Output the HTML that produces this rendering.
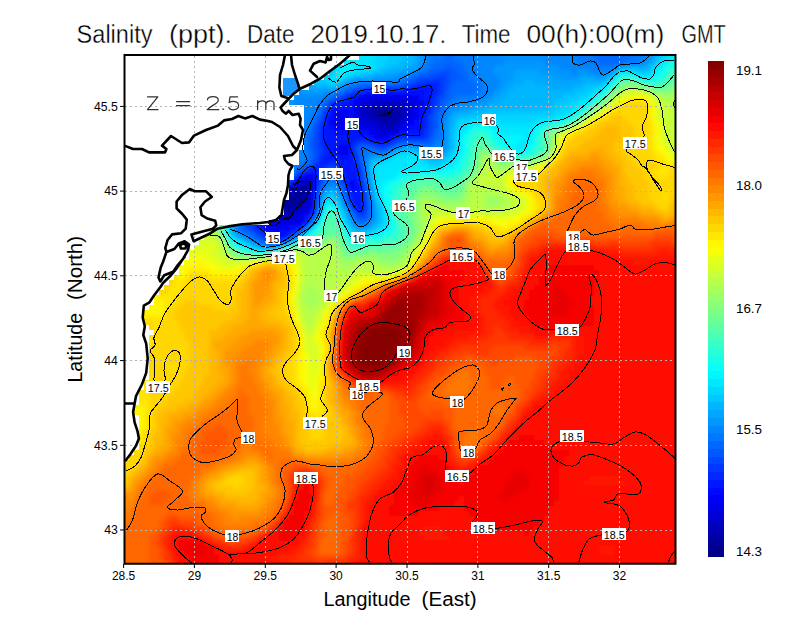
<!DOCTYPE html><html><head><meta charset="utf-8"><title>Salinity</title><style>html,body{margin:0;padding:0;background:#fff}svg{display:block}text{font-family:"Liberation Sans",sans-serif;fill:#000}</style></head><body>
<svg width="800" height="618" viewBox="0 0 800 618">
<defs><clipPath id="pc"><rect x="124.5" y="55" width="551" height="508.75"/></clipPath>
<filter id="bl" x="-5%" y="-5%" width="110%" height="110%"><feGaussianBlur stdDeviation="2.2"/></filter>
</defs>
<rect width="800" height="618" fill="#fff"/>
<g clip-path="url(#pc)">
<g filter="url(#bl)"><path fill="#000087" d="M299 190h5v5.5h-5zM294 200h5v5.5h-5z"/><path fill="#000097" d="M374 110h15v5.5h-15zM299 185h10v5.5h-10zM294 190h5v5.5h-5zM304 190h5v5.5h-5zM289 195h15v5.5h-15zM289 200h5v5.5h-5zM289 205h5v5.5h-5z"/><path fill="#0000a7" d="M374 105h15v5.5h-15zM369 110h5v5.5h-5zM389 110h15v5.5h-15zM374 115h25v5.5h-25zM384 120h10v5.5h-10zM234 160h5v5.5h-5zM289 190h5v5.5h-5zM304 195h5v5.5h-5zM284 200h5v5.5h-5zM299 200h5v5.5h-5zM284 205h5v5.5h-5zM294 205h5v5.5h-5zM284 210h5v5.5h-5z"/><path fill="#0000b7" d="M369 105h5v5.5h-5zM389 105h15v5.5h-15zM364 110h5v5.5h-5zM369 115h5v5.5h-5zM399 115h5v5.5h-5zM379 120h5v5.5h-5zM394 120h5v5.5h-5zM384 125h10v5.5h-10zM234 165h5v5.5h-5zM304 180h5v5.5h-5zM284 190h5v5.5h-5zM284 195h5v5.5h-5zM279 205h5v5.5h-5zM299 205h5v5.5h-5zM279 210h5v5.5h-5zM289 210h5v5.5h-5z"/><path fill="#0000c7" d="M374 100h20v5.5h-20zM399 100h10v5.5h-10zM364 105h5v5.5h-5zM404 105h5v5.5h-5zM359 110h5v5.5h-5zM404 110h5v5.5h-5zM364 115h5v5.5h-5zM404 115h5v5.5h-5zM374 120h5v5.5h-5zM379 125h5v5.5h-5zM394 125h5v5.5h-5zM229 160h5v5.5h-5zM299 180h5v5.5h-5zM309 180h5v5.5h-5zM289 185h10v5.5h-10zM309 185h5v5.5h-5zM279 195h5v5.5h-5zM279 200h5v5.5h-5zM304 200h5v5.5h-5zM294 210h5v5.5h-5zM274 215h20v5.5h-20z"/><path fill="#0000d7" d="M364 100h10v5.5h-10zM394 100h5v5.5h-5zM409 100h5v5.5h-5zM359 105h5v5.5h-5zM409 105h5v5.5h-5zM409 110h5v5.5h-5zM359 115h5v5.5h-5zM364 120h10v5.5h-10zM399 120h5v5.5h-5zM374 125h5v5.5h-5zM379 130h15v5.5h-15zM229 155h5v5.5h-5zM239 160h5v5.5h-5zM309 190h5v5.5h-5zM274 200h5v5.5h-5zM274 205h5v5.5h-5zM304 205h5v5.5h-5zM274 210h5v5.5h-5zM299 210h5v5.5h-5zM294 215h5v5.5h-5zM274 220h10v5.5h-10z"/><path fill="#0000e7" d="M369 95h45v5.5h-45zM359 100h5v5.5h-5zM414 100h5v5.5h-5zM354 105h5v5.5h-5zM354 110h5v5.5h-5zM334 115h10v5.5h-10zM409 115h5v5.5h-5zM334 120h10v5.5h-10zM359 120h5v5.5h-5zM404 120h5v5.5h-5zM364 125h10v5.5h-10zM399 125h5v5.5h-5zM374 130h5v5.5h-5zM394 130h5v5.5h-5zM224 155h5v5.5h-5zM304 175h10v5.5h-10zM309 195h5v5.5h-5zM309 200h5v5.5h-5zM269 205h5v5.5h-5zM269 210h5v5.5h-5zM304 210h5v5.5h-5zM269 215h5v5.5h-5zM269 220h5v5.5h-5zM284 220h15v5.5h-15z"/><path fill="#0000f7" d="M359 95h10v5.5h-10zM414 95h5v5.5h-5zM354 100h5v5.5h-5zM419 100h5v5.5h-5zM414 105h5v5.5h-5zM334 110h15v5.5h-15zM414 110h5v5.5h-5zM344 115h5v5.5h-5zM354 115h5v5.5h-5zM414 115h5v5.5h-5zM329 120h5v5.5h-5zM344 120h5v5.5h-5zM354 120h5v5.5h-5zM409 120h5v5.5h-5zM334 125h10v5.5h-10zM359 125h5v5.5h-5zM404 125h5v5.5h-5zM369 130h5v5.5h-5zM374 135h15v5.5h-15zM339 145h10v5.5h-10zM339 150h10v5.5h-10zM234 155h5v5.5h-5zM299 175h5v5.5h-5zM294 180h5v5.5h-5zM349 180h5v5.5h-5zM284 185h5v5.5h-5zM349 185h5v5.5h-5zM279 190h5v5.5h-5zM274 195h5v5.5h-5zM269 200h5v5.5h-5zM309 205h5v5.5h-5zM264 210h5v5.5h-5zM264 215h5v5.5h-5zM299 215h5v5.5h-5zM264 220h5v5.5h-5zM299 220h5v5.5h-5zM264 225h25v5.5h-25zM274 230h5v5.5h-5z"/><path fill="#0008ff" d="M364 90h60v5.5h-60zM354 95h5v5.5h-5zM419 95h5v5.5h-5zM349 100h5v5.5h-5zM424 100h5v5.5h-5zM334 105h20v5.5h-20zM419 105h5v5.5h-5zM329 110h5v5.5h-5zM349 110h5v5.5h-5zM419 110h5v5.5h-5zM329 115h5v5.5h-5zM349 115h5v5.5h-5zM419 115h5v5.5h-5zM349 120h5v5.5h-5zM414 120h5v5.5h-5zM329 125h5v5.5h-5zM344 125h5v5.5h-5zM354 125h5v5.5h-5zM409 125h10v5.5h-10zM334 130h15v5.5h-15zM359 130h10v5.5h-10zM399 130h10v5.5h-10zM369 135h5v5.5h-5zM389 135h5v5.5h-5zM339 140h10v5.5h-10zM334 145h5v5.5h-5zM334 150h5v5.5h-5zM339 155h10v5.5h-10zM229 165h5v5.5h-5zM304 170h10v5.5h-10zM289 180h5v5.5h-5zM354 180h5v5.5h-5zM354 185h5v5.5h-5zM264 205h5v5.5h-5zM309 210h5v5.5h-5zM259 215h5v5.5h-5zM304 215h5v5.5h-5zM259 220h5v5.5h-5zM259 225h5v5.5h-5zM289 225h10v5.5h-10zM269 230h5v5.5h-5zM279 230h10v5.5h-10zM274 235h10v5.5h-10z"/><path fill="#0018ff" d="M414 85h20v5.5h-20zM359 90h5v5.5h-5zM424 90h10v5.5h-10zM349 95h5v5.5h-5zM424 95h10v5.5h-10zM339 100h10v5.5h-10zM329 105h5v5.5h-5zM424 105h5v5.5h-5zM424 110h5v5.5h-5zM324 115h5v5.5h-5zM324 120h5v5.5h-5zM419 120h5v5.5h-5zM324 125h5v5.5h-5zM349 125h5v5.5h-5zM419 125h5v5.5h-5zM324 130h10v5.5h-10zM349 130h10v5.5h-10zM409 130h15v5.5h-15zM324 135h45v5.5h-45zM394 135h5v5.5h-5zM324 140h15v5.5h-15zM349 140h5v5.5h-5zM374 140h15v5.5h-15zM324 145h10v5.5h-10zM349 145h5v5.5h-5zM329 150h5v5.5h-5zM349 150h5v5.5h-5zM324 155h15v5.5h-15zM349 155h5v5.5h-5zM319 160h10v5.5h-10zM339 160h15v5.5h-15zM314 165h5v5.5h-5zM339 165h20v5.5h-20zM234 170h5v5.5h-5zM314 170h5v5.5h-5zM344 170h15v5.5h-15zM294 175h5v5.5h-5zM314 175h5v5.5h-5zM344 175h15v5.5h-15zM314 180h5v5.5h-5zM344 180h5v5.5h-5zM314 185h5v5.5h-5zM359 185h5v5.5h-5zM349 190h15v5.5h-15zM349 195h15v5.5h-15zM354 200h10v5.5h-10zM354 205h10v5.5h-10zM259 210h5v5.5h-5zM254 220h5v5.5h-5zM304 220h5v5.5h-5zM299 225h5v5.5h-5zM264 230h5v5.5h-5zM289 230h5v5.5h-5zM269 235h5v5.5h-5zM284 235h5v5.5h-5z"/><path fill="#0028ff" d="M424 80h15v5.5h-15zM404 85h10v5.5h-10zM434 85h5v5.5h-5zM354 90h5v5.5h-5zM434 90h5v5.5h-5zM344 95h5v5.5h-5zM334 100h5v5.5h-5zM429 100h5v5.5h-5zM429 105h5v5.5h-5zM324 110h5v5.5h-5zM424 115h5v5.5h-5zM424 120h5v5.5h-5zM319 125h5v5.5h-5zM424 125h5v5.5h-5zM319 130h5v5.5h-5zM319 135h5v5.5h-5zM399 135h25v5.5h-25zM319 140h5v5.5h-5zM354 140h5v5.5h-5zM369 140h5v5.5h-5zM389 140h5v5.5h-5zM324 150h5v5.5h-5zM319 155h5v5.5h-5zM329 160h10v5.5h-10zM354 160h5v5.5h-5zM239 165h5v5.5h-5zM309 165h5v5.5h-5zM319 165h5v5.5h-5zM299 170h5v5.5h-5zM339 170h5v5.5h-5zM359 180h5v5.5h-5zM344 185h5v5.5h-5zM314 190h5v5.5h-5zM314 195h5v5.5h-5zM349 200h5v5.5h-5zM359 210h5v5.5h-5zM254 215h5v5.5h-5zM309 215h5v5.5h-5zM254 225h5v5.5h-5zM259 230h5v5.5h-5zM294 230h5v5.5h-5zM264 235h5v5.5h-5z"/><path fill="#0038ff" d="M434 75h10v5.5h-10zM414 80h10v5.5h-10zM439 80h5v5.5h-5zM364 85h40v5.5h-40zM439 85h5v5.5h-5zM349 90h5v5.5h-5zM439 90h5v5.5h-5zM339 95h5v5.5h-5zM434 95h5v5.5h-5zM329 100h5v5.5h-5zM434 100h5v5.5h-5zM429 110h5v5.5h-5zM319 120h5v5.5h-5zM424 130h5v5.5h-5zM424 135h5v5.5h-5zM359 140h10v5.5h-10zM319 145h5v5.5h-5zM379 145h5v5.5h-5zM224 150h5v5.5h-5zM319 150h5v5.5h-5zM354 150h5v5.5h-5zM239 155h5v5.5h-5zM354 155h5v5.5h-5zM224 160h5v5.5h-5zM314 160h5v5.5h-5zM324 165h5v5.5h-5zM334 165h5v5.5h-5zM319 170h5v5.5h-5zM359 170h5v5.5h-5zM319 175h5v5.5h-5zM339 175h5v5.5h-5zM359 175h5v5.5h-5zM279 185h5v5.5h-5zM274 190h5v5.5h-5zM344 190h5v5.5h-5zM269 195h5v5.5h-5zM264 200h5v5.5h-5zM314 200h5v5.5h-5zM259 205h5v5.5h-5zM314 205h5v5.5h-5zM364 205h5v5.5h-5zM254 210h5v5.5h-5zM354 210h5v5.5h-5zM249 215h5v5.5h-5zM249 220h5v5.5h-5zM249 225h5v5.5h-5zM254 230h5v5.5h-5zM274 240h5v5.5h-5z"/><path fill="#0048ff" d="M439 70h10v5.5h-10zM419 75h15v5.5h-15zM444 75h5v5.5h-5zM409 80h5v5.5h-5zM444 80h5v5.5h-5zM359 85h5v5.5h-5zM444 85h5v5.5h-5zM344 90h5v5.5h-5zM334 95h5v5.5h-5zM439 95h5v5.5h-5zM324 105h5v5.5h-5zM434 105h5v5.5h-5zM319 115h5v5.5h-5zM429 115h5v5.5h-5zM429 120h5v5.5h-5zM314 125h5v5.5h-5zM429 125h5v5.5h-5zM314 130h5v5.5h-5zM429 130h5v5.5h-5zM314 135h5v5.5h-5zM314 140h5v5.5h-5zM394 140h5v5.5h-5zM314 145h5v5.5h-5zM354 145h5v5.5h-5zM374 145h5v5.5h-5zM384 145h5v5.5h-5zM314 150h5v5.5h-5zM314 155h5v5.5h-5zM304 165h5v5.5h-5zM329 165h5v5.5h-5zM359 165h5v5.5h-5zM289 175h5v5.5h-5zM284 180h5v5.5h-5zM319 180h5v5.5h-5zM339 180h5v5.5h-5zM364 190h5v5.5h-5zM364 195h5v5.5h-5zM364 200h5v5.5h-5zM349 205h5v5.5h-5zM314 210h5v5.5h-5zM364 210h5v5.5h-5zM359 215h5v5.5h-5zM244 220h5v5.5h-5zM244 225h5v5.5h-5zM259 235h5v5.5h-5zM289 235h5v5.5h-5zM269 240h5v5.5h-5zM279 240h5v5.5h-5z"/><path fill="#0058ff" d="M449 45h5v5.5h-5zM604 45h25v5.5h-25zM444 50h10v5.5h-10zM609 50h20v5.5h-20zM444 65h10v5.5h-10zM429 70h10v5.5h-10zM449 70h10v5.5h-10zM414 75h5v5.5h-5zM449 75h15v5.5h-15zM404 80h5v5.5h-5zM449 80h5v5.5h-5zM354 85h5v5.5h-5zM444 90h5v5.5h-5zM444 95h5v5.5h-5zM324 100h5v5.5h-5zM439 100h5v5.5h-5zM439 105h5v5.5h-5zM319 110h5v5.5h-5zM434 110h5v5.5h-5zM434 115h5v5.5h-5zM314 120h5v5.5h-5zM434 120h5v5.5h-5zM434 125h5v5.5h-5zM309 135h5v5.5h-5zM429 135h5v5.5h-5zM309 140h5v5.5h-5zM399 140h30v5.5h-30zM309 145h5v5.5h-5zM369 145h5v5.5h-5zM389 145h5v5.5h-5zM219 150h5v5.5h-5zM229 150h5v5.5h-5zM309 160h5v5.5h-5zM359 160h5v5.5h-5zM294 170h5v5.5h-5zM324 170h5v5.5h-5zM334 170h5v5.5h-5zM319 185h5v5.5h-5zM364 185h5v5.5h-5zM344 195h5v5.5h-5zM354 215h5v5.5h-5zM364 215h5v5.5h-5zM309 220h5v5.5h-5zM239 225h5v5.5h-5zM304 225h5v5.5h-5zM249 230h5v5.5h-5zM254 235h5v5.5h-5zM264 240h5v5.5h-5z"/><path fill="#0068ff" d="M444 45h5v5.5h-5zM594 45h10v5.5h-10zM629 45h5v5.5h-5zM454 50h5v5.5h-5zM594 50h15v5.5h-15zM629 50h5v5.5h-5zM444 55h10v5.5h-10zM594 55h35v5.5h-35zM434 60h30v5.5h-30zM599 60h25v5.5h-25zM429 65h15v5.5h-15zM454 65h10v5.5h-10zM419 70h10v5.5h-10zM459 70h10v5.5h-10zM409 75h5v5.5h-5zM464 75h5v5.5h-5zM399 80h5v5.5h-5zM454 80h20v5.5h-20zM349 85h5v5.5h-5zM449 85h30v5.5h-30zM339 90h5v5.5h-5zM449 90h25v5.5h-25zM329 95h5v5.5h-5zM449 95h5v5.5h-5zM444 100h5v5.5h-5zM319 105h5v5.5h-5zM439 110h5v5.5h-5zM314 115h5v5.5h-5zM309 125h5v5.5h-5zM309 130h5v5.5h-5zM434 130h5v5.5h-5zM434 135h5v5.5h-5zM429 140h5v5.5h-5zM359 145h10v5.5h-10zM309 150h5v5.5h-5zM359 150h5v5.5h-5zM379 150h5v5.5h-5zM309 155h5v5.5h-5zM359 155h5v5.5h-5zM299 165h5v5.5h-5zM229 170h5v5.5h-5zM329 170h5v5.5h-5zM324 175h5v5.5h-5zM334 175h5v5.5h-5zM364 180h5v5.5h-5zM339 185h5v5.5h-5zM344 200h5v5.5h-5zM349 210h5v5.5h-5zM359 220h5v5.5h-5zM244 230h5v5.5h-5zM299 230h5v5.5h-5zM259 240h5v5.5h-5z"/><path fill="#0078ff" d="M429 45h15v5.5h-15zM454 45h20v5.5h-20zM574 45h20v5.5h-20zM634 45h10v5.5h-10zM429 50h15v5.5h-15zM459 50h15v5.5h-15zM574 50h20v5.5h-20zM634 50h15v5.5h-15zM429 55h15v5.5h-15zM454 55h20v5.5h-20zM574 55h20v5.5h-20zM629 55h15v5.5h-15zM424 60h10v5.5h-10zM464 60h10v5.5h-10zM579 60h20v5.5h-20zM624 60h15v5.5h-15zM424 65h5v5.5h-5zM464 65h10v5.5h-10zM594 65h20v5.5h-20zM414 70h5v5.5h-5zM469 70h10v5.5h-10zM404 75h5v5.5h-5zM469 75h10v5.5h-10zM359 80h40v5.5h-40zM474 80h10v5.5h-10zM344 85h5v5.5h-5zM479 85h5v5.5h-5zM334 90h5v5.5h-5zM474 90h10v5.5h-10zM324 95h5v5.5h-5zM454 95h25v5.5h-25zM319 100h5v5.5h-5zM449 100h10v5.5h-10zM314 105h5v5.5h-5zM444 105h5v5.5h-5zM314 110h5v5.5h-5zM309 115h5v5.5h-5zM439 115h5v5.5h-5zM309 120h5v5.5h-5zM439 120h5v5.5h-5zM439 125h5v5.5h-5zM304 130h5v5.5h-5zM439 130h5v5.5h-5zM304 135h5v5.5h-5zM439 135h5v5.5h-5zM239 140h5v5.5h-5zM304 140h5v5.5h-5zM434 140h5v5.5h-5zM224 145h20v5.5h-20zM304 145h5v5.5h-5zM394 145h5v5.5h-5zM424 145h10v5.5h-10zM234 150h10v5.5h-10zM304 150h5v5.5h-5zM364 150h15v5.5h-15zM384 150h5v5.5h-5zM219 155h5v5.5h-5zM304 155h5v5.5h-5zM299 160h10v5.5h-10zM224 165h5v5.5h-5zM294 165h5v5.5h-5zM289 170h5v5.5h-5zM364 170h5v5.5h-5zM284 175h5v5.5h-5zM329 175h5v5.5h-5zM364 175h5v5.5h-5zM324 180h15v5.5h-15zM319 190h5v5.5h-5zM339 190h5v5.5h-5zM259 200h5v5.5h-5zM369 200h5v5.5h-5zM254 205h5v5.5h-5zM369 205h5v5.5h-5zM249 210h5v5.5h-5zM369 210h5v5.5h-5zM244 215h5v5.5h-5zM314 215h5v5.5h-5zM369 215h5v5.5h-5zM239 220h5v5.5h-5zM354 220h5v5.5h-5zM364 220h5v5.5h-5zM234 225h5v5.5h-5zM239 230h5v5.5h-5zM249 235h5v5.5h-5zM284 240h5v5.5h-5z"/><path fill="#0087ff" d="M419 45h10v5.5h-10zM474 45h25v5.5h-25zM544 45h30v5.5h-30zM644 45h10v5.5h-10zM419 50h10v5.5h-10zM474 50h25v5.5h-25zM544 50h30v5.5h-30zM649 50h5v5.5h-5zM424 55h5v5.5h-5zM474 55h100v5.5h-100zM644 55h5v5.5h-5zM474 60h30v5.5h-30zM544 60h35v5.5h-35zM639 60h5v5.5h-5zM419 65h5v5.5h-5zM474 65h20v5.5h-20zM559 65h35v5.5h-35zM614 65h5v5.5h-5zM409 70h5v5.5h-5zM479 70h15v5.5h-15zM569 70h10v5.5h-10zM589 70h20v5.5h-20zM394 75h10v5.5h-10zM479 75h20v5.5h-20zM349 80h10v5.5h-10zM484 80h15v5.5h-15zM339 85h5v5.5h-5zM484 85h15v5.5h-15zM324 90h10v5.5h-10zM484 90h10v5.5h-10zM294 95h30v5.5h-30zM479 95h10v5.5h-10zM294 100h25v5.5h-25zM459 100h20v5.5h-20zM294 105h20v5.5h-20zM449 105h10v5.5h-10zM294 110h20v5.5h-20zM444 110h5v5.5h-5zM294 115h15v5.5h-15zM444 115h5v5.5h-5zM259 120h5v5.5h-5zM289 120h20v5.5h-20zM239 125h25v5.5h-25zM289 125h20v5.5h-20zM224 130h35v5.5h-35zM289 130h15v5.5h-15zM214 135h45v5.5h-45zM289 135h15v5.5h-15zM214 140h25v5.5h-25zM244 140h10v5.5h-10zM289 140h15v5.5h-15zM439 140h5v5.5h-5zM219 145h5v5.5h-5zM244 145h5v5.5h-5zM289 145h15v5.5h-15zM399 145h5v5.5h-5zM419 145h5v5.5h-5zM434 145h10v5.5h-10zM244 150h5v5.5h-5zM289 150h15v5.5h-15zM429 150h10v5.5h-10zM289 155h15v5.5h-15zM364 155h5v5.5h-5zM289 160h10v5.5h-10zM364 160h5v5.5h-5zM289 165h5v5.5h-5zM364 165h5v5.5h-5zM224 170h5v5.5h-5zM224 175h10v5.5h-10zM224 180h5v5.5h-5zM279 180h5v5.5h-5zM274 185h5v5.5h-5zM324 185h5v5.5h-5zM334 185h5v5.5h-5zM269 190h5v5.5h-5zM264 195h5v5.5h-5zM319 195h5v5.5h-5zM369 195h5v5.5h-5zM344 205h5v5.5h-5zM349 215h5v5.5h-5zM234 230h5v5.5h-5zM244 235h5v5.5h-5zM294 235h5v5.5h-5zM254 240h5v5.5h-5z"/><path fill="#0097ff" d="M114 45h180v5.5h-180zM499 45h5v5.5h-5zM539 45h5v5.5h-5zM114 50h185v5.5h-185zM499 50h5v5.5h-5zM539 50h5v5.5h-5zM114 55h185v5.5h-185zM419 55h5v5.5h-5zM649 55h5v5.5h-5zM114 60h190v5.5h-190zM419 60h5v5.5h-5zM504 60h40v5.5h-40zM644 60h5v5.5h-5zM114 65h190v5.5h-190zM414 65h5v5.5h-5zM494 65h65v5.5h-65zM619 65h5v5.5h-5zM114 70h190v5.5h-190zM399 70h10v5.5h-10zM494 70h20v5.5h-20zM539 70h30v5.5h-30zM579 70h10v5.5h-10zM609 70h5v5.5h-5zM114 75h195v5.5h-195zM374 75h20v5.5h-20zM499 75h15v5.5h-15zM554 75h25v5.5h-25zM594 75h10v5.5h-10zM114 80h190v5.5h-190zM344 80h5v5.5h-5zM499 80h10v5.5h-10zM119 85h185v5.5h-185zM499 85h5v5.5h-5zM129 90h195v5.5h-195zM494 90h5v5.5h-5zM139 95h155v5.5h-155zM489 95h5v5.5h-5zM149 100h145v5.5h-145zM479 100h10v5.5h-10zM159 105h120v5.5h-120zM284 105h10v5.5h-10zM459 105h15v5.5h-15zM169 110h105v5.5h-105zM284 110h10v5.5h-10zM449 110h5v5.5h-5zM179 115h90v5.5h-90zM284 115h10v5.5h-10zM189 120h70v5.5h-70zM264 120h5v5.5h-5zM279 120h10v5.5h-10zM444 120h5v5.5h-5zM199 125h40v5.5h-40zM279 125h10v5.5h-10zM444 125h5v5.5h-5zM204 130h20v5.5h-20zM259 130h5v5.5h-5zM279 130h10v5.5h-10zM444 130h5v5.5h-5zM209 135h5v5.5h-5zM279 135h10v5.5h-10zM444 135h5v5.5h-5zM279 140h10v5.5h-10zM444 140h5v5.5h-5zM249 145h5v5.5h-5zM279 145h10v5.5h-10zM404 145h15v5.5h-15zM444 145h5v5.5h-5zM279 150h10v5.5h-10zM389 150h5v5.5h-5zM424 150h5v5.5h-5zM439 150h5v5.5h-5zM244 155h5v5.5h-5zM279 155h10v5.5h-10zM369 155h5v5.5h-5zM279 160h10v5.5h-10zM279 165h10v5.5h-10zM279 170h10v5.5h-10zM279 175h5v5.5h-5zM274 180h5v5.5h-5zM224 185h5v5.5h-5zM329 185h5v5.5h-5zM369 185h5v5.5h-5zM369 190h5v5.5h-5zM339 195h5v5.5h-5zM319 200h5v5.5h-5zM369 220h5v5.5h-5zM354 225h15v5.5h-15zM249 240h5v5.5h-5zM264 245h10v5.5h-10z"/><path fill="#00a7ff" d="M294 45h5v5.5h-5zM414 45h5v5.5h-5zM504 45h35v5.5h-35zM654 45h5v5.5h-5zM504 50h35v5.5h-35zM654 50h5v5.5h-5zM299 55h5v5.5h-5zM414 55h5v5.5h-5zM414 60h5v5.5h-5zM649 60h5v5.5h-5zM404 65h10v5.5h-10zM624 65h25v5.5h-25zM384 70h15v5.5h-15zM514 70h25v5.5h-25zM354 75h20v5.5h-20zM514 75h40v5.5h-40zM579 75h15v5.5h-15zM604 75h5v5.5h-5zM304 80h5v5.5h-5zM509 80h15v5.5h-15zM534 80h50v5.5h-50zM304 85h25v5.5h-25zM334 85h5v5.5h-5zM504 85h10v5.5h-10zM549 85h25v5.5h-25zM499 90h10v5.5h-10zM494 95h10v5.5h-10zM489 100h10v5.5h-10zM154 105h5v5.5h-5zM279 105h5v5.5h-5zM474 105h15v5.5h-15zM164 110h5v5.5h-5zM274 110h10v5.5h-10zM454 110h15v5.5h-15zM174 115h5v5.5h-5zM269 115h5v5.5h-5zM279 115h5v5.5h-5zM449 115h5v5.5h-5zM184 120h5v5.5h-5zM274 120h5v5.5h-5zM449 120h5v5.5h-5zM194 125h5v5.5h-5zM264 125h5v5.5h-5zM274 125h5v5.5h-5zM274 130h5v5.5h-5zM274 135h5v5.5h-5zM254 140h5v5.5h-5zM269 140h10v5.5h-10zM269 145h10v5.5h-10zM269 150h10v5.5h-10zM419 150h5v5.5h-5zM444 150h5v5.5h-5zM269 155h10v5.5h-10zM374 155h10v5.5h-10zM429 155h10v5.5h-10zM219 160h5v5.5h-5zM244 160h5v5.5h-5zM269 160h10v5.5h-10zM269 165h10v5.5h-10zM269 170h10v5.5h-10zM269 175h10v5.5h-10zM229 180h5v5.5h-5zM264 180h10v5.5h-10zM369 180h5v5.5h-5zM264 185h10v5.5h-10zM264 190h5v5.5h-5zM324 190h5v5.5h-5zM334 190h5v5.5h-5zM259 195h5v5.5h-5zM339 200h5v5.5h-5zM319 205h5v5.5h-5zM374 205h5v5.5h-5zM344 210h5v5.5h-5zM374 210h5v5.5h-5zM374 215h5v5.5h-5zM349 220h5v5.5h-5zM374 220h5v5.5h-5zM369 225h5v5.5h-5zM239 235h5v5.5h-5zM259 245h5v5.5h-5zM274 245h5v5.5h-5z"/><path fill="#00b7ff" d="M299 45h30v5.5h-30zM409 45h5v5.5h-5zM659 45h5v5.5h-5zM299 50h30v5.5h-30zM409 50h10v5.5h-10zM304 55h25v5.5h-25zM404 55h10v5.5h-10zM654 55h5v5.5h-5zM304 60h30v5.5h-30zM399 60h15v5.5h-15zM304 65h30v5.5h-30zM389 65h15v5.5h-15zM304 70h5v5.5h-5zM324 70h5v5.5h-5zM374 70h10v5.5h-10zM309 75h5v5.5h-5zM349 75h5v5.5h-5zM309 80h5v5.5h-5zM339 80h5v5.5h-5zM524 80h10v5.5h-10zM584 80h20v5.5h-20zM329 85h5v5.5h-5zM514 85h35v5.5h-35zM574 85h10v5.5h-10zM509 90h65v5.5h-65zM134 95h5v5.5h-5zM504 95h60v5.5h-60zM144 100h5v5.5h-5zM499 100h55v5.5h-55zM489 105h60v5.5h-60zM469 110h15v5.5h-15zM274 115h5v5.5h-5zM454 115h5v5.5h-5zM269 120h5v5.5h-5zM449 125h5v5.5h-5zM269 130h5v5.5h-5zM449 130h5v5.5h-5zM269 135h5v5.5h-5zM449 135h5v5.5h-5zM209 140h5v5.5h-5zM449 140h5v5.5h-5zM214 145h5v5.5h-5zM264 145h5v5.5h-5zM449 145h5v5.5h-5zM264 150h5v5.5h-5zM394 150h5v5.5h-5zM264 155h5v5.5h-5zM384 155h5v5.5h-5zM424 155h5v5.5h-5zM439 155h5v5.5h-5zM259 160h10v5.5h-10zM369 160h5v5.5h-5zM219 165h5v5.5h-5zM259 165h10v5.5h-10zM219 170h5v5.5h-5zM259 170h10v5.5h-10zM369 170h5v5.5h-5zM259 175h10v5.5h-10zM369 175h5v5.5h-5zM254 180h10v5.5h-10zM254 185h10v5.5h-10zM254 190h10v5.5h-10zM329 190h5v5.5h-5zM254 195h5v5.5h-5zM334 195h5v5.5h-5zM254 200h5v5.5h-5zM374 200h5v5.5h-5zM249 205h5v5.5h-5zM339 205h5v5.5h-5zM244 210h5v5.5h-5zM239 215h5v5.5h-5zM344 215h5v5.5h-5zM234 220h5v5.5h-5zM229 225h5v5.5h-5zM309 225h5v5.5h-5zM349 225h5v5.5h-5zM229 230h5v5.5h-5zM354 230h10v5.5h-10zM234 235h5v5.5h-5zM244 240h5v5.5h-5zM289 240h5v5.5h-5zM254 245h5v5.5h-5z"/><path fill="#00c7ff" d="M389 45h20v5.5h-20zM664 45h5v5.5h-5zM329 50h5v5.5h-5zM389 50h20v5.5h-20zM659 50h10v5.5h-10zM329 55h5v5.5h-5zM389 55h15v5.5h-15zM659 55h5v5.5h-5zM384 60h15v5.5h-15zM654 60h5v5.5h-5zM379 65h10v5.5h-10zM649 65h5v5.5h-5zM319 70h5v5.5h-5zM329 70h5v5.5h-5zM364 70h10v5.5h-10zM614 70h5v5.5h-5zM639 70h10v5.5h-10zM314 75h10v5.5h-10zM344 75h5v5.5h-5zM609 75h5v5.5h-5zM314 80h15v5.5h-15zM604 80h5v5.5h-5zM584 85h15v5.5h-15zM124 90h5v5.5h-5zM574 90h15v5.5h-15zM564 95h15v5.5h-15zM554 100h15v5.5h-15zM549 105h10v5.5h-10zM484 110h70v5.5h-70zM169 115h5v5.5h-5zM459 115h20v5.5h-20zM179 120h5v5.5h-5zM454 120h5v5.5h-5zM269 125h5v5.5h-5zM454 125h5v5.5h-5zM199 130h5v5.5h-5zM264 130h5v5.5h-5zM259 135h5v5.5h-5zM264 140h5v5.5h-5zM249 150h5v5.5h-5zM259 150h5v5.5h-5zM414 150h5v5.5h-5zM449 150h5v5.5h-5zM259 155h5v5.5h-5zM419 155h5v5.5h-5zM444 155h5v5.5h-5zM374 160h5v5.5h-5zM429 160h15v5.5h-15zM254 165h5v5.5h-5zM369 165h5v5.5h-5zM254 170h5v5.5h-5zM219 175h5v5.5h-5zM234 175h5v5.5h-5zM254 175h5v5.5h-5zM219 180h5v5.5h-5zM249 180h5v5.5h-5zM249 185h5v5.5h-5zM249 190h5v5.5h-5zM374 190h5v5.5h-5zM244 195h10v5.5h-10zM324 195h5v5.5h-5zM374 195h5v5.5h-5zM244 200h10v5.5h-10zM244 205h5v5.5h-5zM379 205h5v5.5h-5zM319 210h5v5.5h-5zM379 210h5v5.5h-5zM379 215h5v5.5h-5zM314 220h5v5.5h-5zM344 220h5v5.5h-5zM379 220h5v5.5h-5zM374 225h5v5.5h-5zM304 230h5v5.5h-5zM364 230h5v5.5h-5z"/><path fill="#00d7ff" d="M329 45h5v5.5h-5zM374 45h15v5.5h-15zM374 50h15v5.5h-15zM374 55h15v5.5h-15zM664 55h5v5.5h-5zM369 60h15v5.5h-15zM334 65h5v5.5h-5zM374 65h5v5.5h-5zM309 70h10v5.5h-10zM354 70h10v5.5h-10zM634 70h5v5.5h-5zM649 70h5v5.5h-5zM324 75h10v5.5h-10zM329 80h10v5.5h-10zM114 85h5v5.5h-5zM599 85h5v5.5h-5zM589 90h5v5.5h-5zM579 95h10v5.5h-10zM569 100h10v5.5h-10zM559 105h15v5.5h-15zM554 110h15v5.5h-15zM479 115h75v5.5h-75zM459 120h10v5.5h-10zM499 120h35v5.5h-35zM189 125h5v5.5h-5zM454 130h5v5.5h-5zM204 135h5v5.5h-5zM264 135h5v5.5h-5zM454 135h5v5.5h-5zM454 140h5v5.5h-5zM454 145h5v5.5h-5zM214 150h5v5.5h-5zM399 150h15v5.5h-15zM389 155h5v5.5h-5zM449 155h5v5.5h-5zM254 160h5v5.5h-5zM379 160h5v5.5h-5zM424 160h5v5.5h-5zM444 160h5v5.5h-5zM429 165h10v5.5h-10zM239 170h5v5.5h-5zM249 175h5v5.5h-5zM219 185h5v5.5h-5zM244 185h5v5.5h-5zM374 185h5v5.5h-5zM219 190h10v5.5h-10zM244 190h5v5.5h-5zM329 195h5v5.5h-5zM239 200h5v5.5h-5zM334 200h5v5.5h-5zM379 200h5v5.5h-5zM239 205h5v5.5h-5zM239 210h5v5.5h-5zM339 210h5v5.5h-5zM234 215h5v5.5h-5zM379 225h5v5.5h-5zM349 230h5v5.5h-5zM369 230h5v5.5h-5zM299 235h5v5.5h-5zM239 240h5v5.5h-5zM249 245h5v5.5h-5zM279 245h5v5.5h-5z"/><path fill="#00e7ff" d="M334 45h40v5.5h-40zM669 45h20v5.5h-20zM334 50h40v5.5h-40zM669 50h20v5.5h-20zM334 55h40v5.5h-40zM669 55h20v5.5h-20zM334 60h35v5.5h-35zM659 60h5v5.5h-5zM684 60h5v5.5h-5zM339 65h5v5.5h-5zM354 65h20v5.5h-20zM654 65h5v5.5h-5zM334 70h5v5.5h-5zM344 70h10v5.5h-10zM619 70h15v5.5h-15zM334 75h10v5.5h-10zM644 75h5v5.5h-5zM594 90h5v5.5h-5zM589 95h5v5.5h-5zM579 100h10v5.5h-10zM574 105h5v5.5h-5zM159 110h5v5.5h-5zM569 110h5v5.5h-5zM554 115h10v5.5h-10zM469 120h30v5.5h-30zM534 120h10v5.5h-10zM459 125h10v5.5h-10zM494 125h40v5.5h-40zM459 130h5v5.5h-5zM499 130h35v5.5h-35zM524 135h5v5.5h-5zM259 140h5v5.5h-5zM519 140h10v5.5h-10zM209 145h5v5.5h-5zM254 145h10v5.5h-10zM514 145h10v5.5h-10zM209 150h5v5.5h-5zM454 150h5v5.5h-5zM214 155h5v5.5h-5zM394 155h25v5.5h-25zM454 155h5v5.5h-5zM214 160h5v5.5h-5zM384 160h40v5.5h-40zM449 160h5v5.5h-5zM214 165h5v5.5h-5zM374 165h55v5.5h-55zM439 165h5v5.5h-5zM214 170h5v5.5h-5zM249 170h5v5.5h-5zM374 170h25v5.5h-25zM214 175h5v5.5h-5zM374 175h20v5.5h-20zM374 180h10v5.5h-10zM239 195h5v5.5h-5zM379 195h5v5.5h-5zM324 200h10v5.5h-10zM234 210h5v5.5h-5zM384 210h5v5.5h-5zM339 215h5v5.5h-5zM384 215h5v5.5h-5zM229 220h5v5.5h-5zM384 220h5v5.5h-5zM344 225h5v5.5h-5zM384 225h5v5.5h-5zM374 230h5v5.5h-5zM229 235h5v5.5h-5zM354 235h10v5.5h-10z"/><path fill="#00f7ff" d="M664 60h5v5.5h-5zM674 60h10v5.5h-10zM344 65h10v5.5h-10zM659 65h5v5.5h-5zM339 70h5v5.5h-5zM654 70h5v5.5h-5zM614 75h5v5.5h-5zM639 75h5v5.5h-5zM649 75h5v5.5h-5zM609 80h5v5.5h-5zM604 85h5v5.5h-5zM599 90h5v5.5h-5zM149 105h5v5.5h-5zM579 105h5v5.5h-5zM574 110h5v5.5h-5zM564 115h5v5.5h-5zM544 120h10v5.5h-10zM469 125h5v5.5h-5zM489 125h5v5.5h-5zM534 125h5v5.5h-5zM464 130h5v5.5h-5zM494 130h5v5.5h-5zM459 135h5v5.5h-5zM499 135h25v5.5h-25zM529 135h5v5.5h-5zM204 140h5v5.5h-5zM459 140h5v5.5h-5zM504 140h15v5.5h-15zM529 140h5v5.5h-5zM459 145h5v5.5h-5zM509 145h5v5.5h-5zM524 145h5v5.5h-5zM254 150h5v5.5h-5zM459 150h5v5.5h-5zM514 150h10v5.5h-10zM209 155h5v5.5h-5zM249 155h10v5.5h-10zM209 160h5v5.5h-5zM454 160h5v5.5h-5zM444 165h10v5.5h-10zM399 170h30v5.5h-30zM394 175h5v5.5h-5zM214 180h5v5.5h-5zM244 180h5v5.5h-5zM384 180h5v5.5h-5zM214 185h5v5.5h-5zM379 185h5v5.5h-5zM379 190h5v5.5h-5zM219 195h5v5.5h-5zM234 205h5v5.5h-5zM334 205h5v5.5h-5zM384 205h5v5.5h-5zM319 215h5v5.5h-5zM379 230h5v5.5h-5zM349 235h5v5.5h-5zM364 235h5v5.5h-5zM234 240h5v5.5h-5zM294 240h5v5.5h-5zM244 245h5v5.5h-5z"/><path fill="#08fff7" d="M669 60h5v5.5h-5zM659 70h5v5.5h-5zM634 75h5v5.5h-5zM654 75h5v5.5h-5zM594 95h5v5.5h-5zM139 100h5v5.5h-5zM589 100h5v5.5h-5zM584 105h5v5.5h-5zM569 115h5v5.5h-5zM174 120h5v5.5h-5zM554 120h10v5.5h-10zM474 125h15v5.5h-15zM539 125h5v5.5h-5zM489 130h5v5.5h-5zM534 130h5v5.5h-5zM464 135h5v5.5h-5zM494 135h5v5.5h-5zM499 140h5v5.5h-5zM204 145h5v5.5h-5zM504 145h5v5.5h-5zM529 145h5v5.5h-5zM509 150h5v5.5h-5zM524 150h5v5.5h-5zM459 155h5v5.5h-5zM209 165h5v5.5h-5zM244 165h10v5.5h-10zM454 165h5v5.5h-5zM429 170h20v5.5h-20zM399 175h5v5.5h-5zM389 180h5v5.5h-5zM229 185h5v5.5h-5zM384 185h5v5.5h-5zM214 190h5v5.5h-5zM239 190h5v5.5h-5zM384 190h5v5.5h-5zM384 195h5v5.5h-5zM384 200h5v5.5h-5zM324 205h5v5.5h-5zM229 215h5v5.5h-5zM339 220h5v5.5h-5zM389 220h5v5.5h-5zM224 225h5v5.5h-5zM314 225h5v5.5h-5zM389 225h5v5.5h-5zM224 230h5v5.5h-5zM309 230h5v5.5h-5zM344 230h5v5.5h-5zM384 230h5v5.5h-5zM304 235h5v5.5h-5zM369 235h10v5.5h-10zM239 245h5v5.5h-5zM284 245h5v5.5h-5zM259 250h5v5.5h-5z"/><path fill="#18ffe7" d="M664 65h5v5.5h-5zM684 65h5v5.5h-5zM659 75h5v5.5h-5zM649 80h5v5.5h-5zM129 95h5v5.5h-5zM579 110h5v5.5h-5zM184 125h5v5.5h-5zM194 130h5v5.5h-5zM469 130h5v5.5h-5zM489 135h5v5.5h-5zM534 135h5v5.5h-5zM464 140h5v5.5h-5zM494 140h5v5.5h-5zM534 140h5v5.5h-5zM464 145h5v5.5h-5zM499 145h5v5.5h-5zM204 150h5v5.5h-5zM464 150h5v5.5h-5zM529 150h5v5.5h-5zM249 160h5v5.5h-5zM459 160h5v5.5h-5zM459 165h5v5.5h-5zM209 170h5v5.5h-5zM449 170h10v5.5h-10zM244 175h5v5.5h-5zM404 175h10v5.5h-10zM394 180h5v5.5h-5zM389 185h5v5.5h-5zM389 190h5v5.5h-5zM214 195h5v5.5h-5zM389 195h5v5.5h-5zM234 200h5v5.5h-5zM389 200h5v5.5h-5zM329 205h5v5.5h-5zM334 210h5v5.5h-5zM389 215h5v5.5h-5zM319 220h5v5.5h-5zM389 230h5v5.5h-5zM379 235h5v5.5h-5zM349 240h15v5.5h-15zM254 250h5v5.5h-5zM264 250h5v5.5h-5z"/><path fill="#28ffd7" d="M669 65h15v5.5h-15zM664 70h5v5.5h-5zM619 75h15v5.5h-15zM614 80h5v5.5h-5zM644 80h5v5.5h-5zM654 80h5v5.5h-5zM609 85h5v5.5h-5zM119 90h5v5.5h-5zM604 90h5v5.5h-5zM599 95h5v5.5h-5zM574 115h5v5.5h-5zM564 120h5v5.5h-5zM544 125h5v5.5h-5zM474 130h15v5.5h-15zM539 130h5v5.5h-5zM199 135h5v5.5h-5zM469 135h5v5.5h-5zM469 140h5v5.5h-5zM489 140h5v5.5h-5zM494 145h5v5.5h-5zM534 145h5v5.5h-5zM504 150h5v5.5h-5zM204 155h5v5.5h-5zM464 155h5v5.5h-5zM519 155h5v5.5h-5zM464 160h5v5.5h-5zM244 170h5v5.5h-5zM459 170h5v5.5h-5zM209 175h5v5.5h-5zM414 175h5v5.5h-5zM439 175h15v5.5h-15zM234 180h5v5.5h-5zM399 180h5v5.5h-5zM239 185h5v5.5h-5zM394 185h5v5.5h-5zM394 190h5v5.5h-5zM389 205h5v5.5h-5zM229 210h5v5.5h-5zM324 210h5v5.5h-5zM389 210h5v5.5h-5zM394 220h5v5.5h-5zM394 225h5v5.5h-5zM314 230h5v5.5h-5zM394 230h5v5.5h-5zM309 235h5v5.5h-5zM344 235h5v5.5h-5zM384 235h10v5.5h-10zM229 240h5v5.5h-5zM299 240h5v5.5h-5zM364 240h5v5.5h-5zM234 245h5v5.5h-5zM249 250h5v5.5h-5zM269 250h5v5.5h-5z"/><path fill="#38ffc7" d="M669 70h5v5.5h-5zM664 75h5v5.5h-5zM639 80h5v5.5h-5zM659 80h5v5.5h-5zM594 100h5v5.5h-5zM589 105h5v5.5h-5zM164 115h5v5.5h-5zM179 125h5v5.5h-5zM549 125h5v5.5h-5zM474 135h5v5.5h-5zM484 135h5v5.5h-5zM539 135h5v5.5h-5zM539 140h5v5.5h-5zM469 145h5v5.5h-5zM539 145h5v5.5h-5zM469 150h5v5.5h-5zM499 150h5v5.5h-5zM534 150h5v5.5h-5zM469 155h5v5.5h-5zM514 155h5v5.5h-5zM524 155h5v5.5h-5zM204 160h5v5.5h-5zM464 165h5v5.5h-5zM239 175h5v5.5h-5zM419 175h20v5.5h-20zM454 175h5v5.5h-5zM209 180h5v5.5h-5zM239 180h5v5.5h-5zM404 180h5v5.5h-5zM399 185h5v5.5h-5zM234 195h5v5.5h-5zM394 195h5v5.5h-5zM214 200h10v5.5h-10zM394 200h5v5.5h-5zM324 215h5v5.5h-5zM334 215h5v5.5h-5zM224 220h5v5.5h-5zM319 225h5v5.5h-5zM339 225h5v5.5h-5zM224 235h5v5.5h-5zM314 235h5v5.5h-5zM394 235h5v5.5h-5zM304 240h5v5.5h-5zM369 240h15v5.5h-15zM354 245h5v5.5h-5zM244 250h5v5.5h-5z"/><path fill="#48ffb7" d="M674 70h5v5.5h-5zM669 75h5v5.5h-5zM664 80h5v5.5h-5zM584 110h5v5.5h-5zM169 120h5v5.5h-5zM569 120h5v5.5h-5zM554 125h5v5.5h-5zM189 130h5v5.5h-5zM544 130h5v5.5h-5zM479 135h5v5.5h-5zM199 140h5v5.5h-5zM474 140h5v5.5h-5zM484 140h5v5.5h-5zM199 145h5v5.5h-5zM474 145h5v5.5h-5zM489 145h5v5.5h-5zM494 150h5v5.5h-5zM539 150h5v5.5h-5zM509 155h5v5.5h-5zM529 155h5v5.5h-5zM469 160h5v5.5h-5zM204 165h5v5.5h-5zM469 165h5v5.5h-5zM464 170h5v5.5h-5zM459 175h5v5.5h-5zM409 180h5v5.5h-5zM439 180h20v5.5h-20zM209 185h5v5.5h-5zM234 185h5v5.5h-5zM404 185h5v5.5h-5zM209 190h5v5.5h-5zM229 190h10v5.5h-10zM399 190h5v5.5h-5zM224 195h5v5.5h-5zM399 195h5v5.5h-5zM399 200h5v5.5h-5zM229 205h5v5.5h-5zM394 205h5v5.5h-5zM329 210h5v5.5h-5zM394 210h5v5.5h-5zM394 215h5v5.5h-5zM324 220h5v5.5h-5zM334 220h5v5.5h-5zM399 220h5v5.5h-5zM399 225h5v5.5h-5zM319 230h5v5.5h-5zM339 230h5v5.5h-5zM399 230h5v5.5h-5zM399 235h5v5.5h-5zM309 240h5v5.5h-5zM344 240h5v5.5h-5zM384 240h15v5.5h-15zM289 245h5v5.5h-5zM349 245h5v5.5h-5zM359 245h5v5.5h-5zM239 250h5v5.5h-5zM274 250h5v5.5h-5z"/><path fill="#58ffa7" d="M679 70h10v5.5h-10zM674 75h15v5.5h-15zM619 80h5v5.5h-5zM634 80h5v5.5h-5zM674 80h15v5.5h-15zM614 85h5v5.5h-5zM654 85h10v5.5h-10zM609 90h5v5.5h-5zM604 95h5v5.5h-5zM154 110h5v5.5h-5zM579 115h5v5.5h-5zM174 125h5v5.5h-5zM559 125h5v5.5h-5zM174 130h15v5.5h-15zM179 135h20v5.5h-20zM544 135h5v5.5h-5zM179 140h20v5.5h-20zM479 140h5v5.5h-5zM544 140h5v5.5h-5zM184 145h15v5.5h-15zM479 145h10v5.5h-10zM544 145h5v5.5h-5zM184 150h20v5.5h-20zM474 150h5v5.5h-5zM189 155h15v5.5h-15zM499 155h10v5.5h-10zM534 155h5v5.5h-5zM189 160h15v5.5h-15zM189 165h15v5.5h-15zM194 170h15v5.5h-15zM469 170h5v5.5h-5zM194 175h15v5.5h-15zM464 175h5v5.5h-5zM199 180h10v5.5h-10zM414 180h25v5.5h-25zM459 180h5v5.5h-5zM199 185h10v5.5h-10zM409 185h10v5.5h-10zM439 185h20v5.5h-20zM204 190h5v5.5h-5zM404 190h10v5.5h-10zM204 195h10v5.5h-10zM404 195h5v5.5h-5zM204 200h10v5.5h-10zM229 200h5v5.5h-5zM404 200h5v5.5h-5zM209 205h10v5.5h-10zM399 205h5v5.5h-5zM209 210h5v5.5h-5zM399 210h10v5.5h-10zM224 215h5v5.5h-5zM329 215h5v5.5h-5zM399 215h10v5.5h-10zM329 220h5v5.5h-5zM404 220h5v5.5h-5zM324 225h15v5.5h-15zM404 225h5v5.5h-5zM219 230h5v5.5h-5zM324 230h15v5.5h-15zM404 230h5v5.5h-5zM319 235h5v5.5h-5zM339 235h5v5.5h-5zM404 235h5v5.5h-5zM314 240h5v5.5h-5zM399 240h5v5.5h-5zM229 245h5v5.5h-5zM344 245h5v5.5h-5zM364 245h30v5.5h-30z"/><path fill="#68ff97" d="M624 80h10v5.5h-10zM669 80h5v5.5h-5zM649 85h5v5.5h-5zM664 85h5v5.5h-5zM599 100h5v5.5h-5zM144 105h5v5.5h-5zM179 145h5v5.5h-5zM489 150h5v5.5h-5zM544 150h5v5.5h-5zM184 155h5v5.5h-5zM474 155h5v5.5h-5zM494 155h5v5.5h-5zM474 160h5v5.5h-5zM194 180h5v5.5h-5zM419 185h5v5.5h-5zM429 185h10v5.5h-10zM459 185h5v5.5h-5zM199 190h5v5.5h-5zM414 190h5v5.5h-5zM439 190h20v5.5h-20zM229 195h5v5.5h-5zM409 195h5v5.5h-5zM404 205h5v5.5h-5zM224 210h5v5.5h-5zM409 220h5v5.5h-5zM219 225h5v5.5h-5zM409 225h5v5.5h-5zM409 230h5v5.5h-5zM224 240h5v5.5h-5zM339 240h5v5.5h-5zM404 240h5v5.5h-5zM294 245h5v5.5h-5zM394 245h5v5.5h-5zM234 250h5v5.5h-5zM344 250h20v5.5h-20z"/><path fill="#78ff87" d="M644 85h5v5.5h-5zM669 85h15v5.5h-15zM134 100h5v5.5h-5zM594 105h5v5.5h-5zM574 120h5v5.5h-5zM169 125h5v5.5h-5zM564 125h5v5.5h-5zM549 130h5v5.5h-5zM174 135h5v5.5h-5zM539 155h5v5.5h-5zM184 160h5v5.5h-5zM499 160h10v5.5h-10zM519 160h10v5.5h-10zM474 165h5v5.5h-5zM189 170h5v5.5h-5zM469 175h5v5.5h-5zM464 180h5v5.5h-5zM424 185h5v5.5h-5zM434 190h5v5.5h-5zM459 190h5v5.5h-5zM199 195h5v5.5h-5zM414 195h5v5.5h-5zM444 195h15v5.5h-15zM224 200h5v5.5h-5zM409 200h5v5.5h-5zM204 205h5v5.5h-5zM219 205h10v5.5h-10zM409 205h5v5.5h-5zM214 210h5v5.5h-5zM409 210h5v5.5h-5zM409 215h5v5.5h-5zM219 220h5v5.5h-5zM324 235h15v5.5h-15zM409 235h5v5.5h-5zM319 240h5v5.5h-5zM299 245h15v5.5h-15zM339 245h5v5.5h-5zM399 245h5v5.5h-5zM364 250h5v5.5h-5zM374 250h25v5.5h-25z"/><path fill="#87ff78" d="M619 85h5v5.5h-5zM639 85h5v5.5h-5zM684 85h5v5.5h-5zM114 90h5v5.5h-5zM614 90h5v5.5h-5zM659 90h10v5.5h-10zM124 95h5v5.5h-5zM589 110h5v5.5h-5zM549 135h5v5.5h-5zM549 140h5v5.5h-5zM549 145h5v5.5h-5zM179 150h5v5.5h-5zM479 150h5v5.5h-5zM494 160h5v5.5h-5zM509 160h10v5.5h-10zM529 160h5v5.5h-5zM474 170h5v5.5h-5zM194 185h5v5.5h-5zM419 190h15v5.5h-15zM434 195h10v5.5h-10zM459 195h5v5.5h-5zM414 200h5v5.5h-5zM414 205h5v5.5h-5zM219 210h5v5.5h-5zM414 210h5v5.5h-5zM209 215h5v5.5h-5zM219 215h5v5.5h-5zM414 215h5v5.5h-5zM414 220h5v5.5h-5zM414 225h5v5.5h-5zM414 230h5v5.5h-5zM334 240h5v5.5h-5zM409 240h5v5.5h-5zM314 245h5v5.5h-5zM404 245h5v5.5h-5zM229 250h5v5.5h-5zM279 250h5v5.5h-5zM339 250h5v5.5h-5zM369 250h5v5.5h-5zM399 250h5v5.5h-5zM244 255h10v5.5h-10zM344 255h10v5.5h-10zM379 255h20v5.5h-20z"/><path fill="#97ff68" d="M624 85h5v5.5h-5zM634 85h5v5.5h-5zM654 90h5v5.5h-5zM669 90h5v5.5h-5zM609 95h5v5.5h-5zM604 100h5v5.5h-5zM159 115h5v5.5h-5zM584 115h5v5.5h-5zM169 130h5v5.5h-5zM554 130h5v5.5h-5zM174 140h5v5.5h-5zM484 150h5v5.5h-5zM479 155h5v5.5h-5zM489 155h5v5.5h-5zM544 155h5v5.5h-5zM479 160h5v5.5h-5zM184 165h5v5.5h-5zM499 165h5v5.5h-5zM189 175h5v5.5h-5zM464 185h5v5.5h-5zM464 190h5v5.5h-5zM419 195h15v5.5h-15zM489 195h5v5.5h-5zM199 200h5v5.5h-5zM439 200h25v5.5h-25zM489 200h10v5.5h-10zM204 210h5v5.5h-5zM214 215h5v5.5h-5zM214 220h5v5.5h-5zM419 220h5v5.5h-5zM214 225h5v5.5h-5zM419 225h5v5.5h-5zM214 230h5v5.5h-5zM219 235h5v5.5h-5zM414 235h5v5.5h-5zM324 240h5v5.5h-5zM224 245h5v5.5h-5zM334 245h5v5.5h-5zM404 250h5v5.5h-5zM234 255h10v5.5h-10zM254 255h10v5.5h-10zM339 255h5v5.5h-5zM354 255h25v5.5h-25zM399 255h5v5.5h-5zM344 260h5v5.5h-5zM379 260h20v5.5h-20z"/><path fill="#a7ff58" d="M629 85h5v5.5h-5zM649 90h5v5.5h-5zM674 90h5v5.5h-5zM664 95h10v5.5h-10zM129 100h5v5.5h-5zM139 105h5v5.5h-5zM599 105h5v5.5h-5zM149 110h5v5.5h-5zM164 120h5v5.5h-5zM174 145h5v5.5h-5zM549 150h5v5.5h-5zM179 155h5v5.5h-5zM489 160h5v5.5h-5zM534 160h5v5.5h-5zM479 165h5v5.5h-5zM494 165h5v5.5h-5zM504 165h5v5.5h-5zM474 175h5v5.5h-5zM189 180h5v5.5h-5zM469 180h5v5.5h-5zM194 190h5v5.5h-5zM484 190h5v5.5h-5zM464 195h5v5.5h-5zM484 195h5v5.5h-5zM494 195h10v5.5h-10zM419 200h5v5.5h-5zM429 200h10v5.5h-10zM464 200h5v5.5h-5zM484 200h5v5.5h-5zM499 200h10v5.5h-10zM419 205h5v5.5h-5zM444 205h20v5.5h-20zM484 205h10v5.5h-10zM419 210h5v5.5h-5zM419 215h5v5.5h-5zM209 220h5v5.5h-5zM209 225h5v5.5h-5zM419 230h5v5.5h-5zM329 240h5v5.5h-5zM414 240h5v5.5h-5zM319 245h5v5.5h-5zM409 245h5v5.5h-5zM284 250h5v5.5h-5zM304 250h10v5.5h-10zM334 250h5v5.5h-5zM334 255h5v5.5h-5zM404 255h5v5.5h-5zM339 260h5v5.5h-5zM349 260h10v5.5h-10zM374 260h5v5.5h-5zM399 260h5v5.5h-5zM339 265h15v5.5h-15zM384 265h10v5.5h-10zM304 285h10v5.5h-10zM304 290h15v5.5h-15zM304 295h15v5.5h-15zM304 300h15v5.5h-15zM309 305h5v5.5h-5z"/><path fill="#b7ff48" d="M619 90h5v5.5h-5zM679 90h10v5.5h-10zM114 95h10v5.5h-10zM659 95h5v5.5h-5zM674 95h15v5.5h-15zM114 100h15v5.5h-15zM664 100h25v5.5h-25zM114 105h25v5.5h-25zM669 105h20v5.5h-20zM114 110h35v5.5h-35zM594 110h5v5.5h-5zM674 110h15v5.5h-15zM114 115h45v5.5h-45zM674 115h15v5.5h-15zM114 120h50v5.5h-50zM579 120h5v5.5h-5zM674 120h15v5.5h-15zM114 125h55v5.5h-55zM569 125h5v5.5h-5zM679 125h10v5.5h-10zM114 130h55v5.5h-55zM559 130h5v5.5h-5zM679 130h10v5.5h-10zM114 135h60v5.5h-60zM684 135h5v5.5h-5zM114 140h60v5.5h-60zM684 140h5v5.5h-5zM114 145h60v5.5h-60zM684 145h5v5.5h-5zM114 150h65v5.5h-65zM124 155h55v5.5h-55zM484 155h5v5.5h-5zM129 160h55v5.5h-55zM484 160h5v5.5h-5zM134 165h50v5.5h-50zM484 165h10v5.5h-10zM509 165h5v5.5h-5zM139 170h50v5.5h-50zM479 170h5v5.5h-5zM494 170h10v5.5h-10zM144 175h45v5.5h-45zM149 180h40v5.5h-40zM474 180h5v5.5h-5zM154 185h40v5.5h-40zM469 185h30v5.5h-30zM159 190h35v5.5h-35zM469 190h15v5.5h-15zM489 190h15v5.5h-15zM164 195h35v5.5h-35zM469 195h15v5.5h-15zM504 195h5v5.5h-5zM174 200h25v5.5h-25zM424 200h5v5.5h-5zM469 200h15v5.5h-15zM509 200h5v5.5h-5zM179 205h25v5.5h-25zM424 205h20v5.5h-20zM464 205h10v5.5h-10zM479 205h5v5.5h-5zM494 205h15v5.5h-15zM189 210h15v5.5h-15zM424 210h5v5.5h-5zM459 210h5v5.5h-5zM194 215h15v5.5h-15zM424 215h5v5.5h-5zM199 220h10v5.5h-10zM424 220h5v5.5h-5zM199 225h10v5.5h-10zM424 225h5v5.5h-5zM199 230h15v5.5h-15zM214 235h5v5.5h-5zM419 235h5v5.5h-5zM219 240h5v5.5h-5zM324 245h10v5.5h-10zM414 245h5v5.5h-5zM224 250h5v5.5h-5zM289 250h5v5.5h-5zM299 250h5v5.5h-5zM314 250h20v5.5h-20zM409 250h5v5.5h-5zM229 255h5v5.5h-5zM264 255h5v5.5h-5zM304 255h30v5.5h-30zM304 260h35v5.5h-35zM359 260h15v5.5h-15zM404 260h5v5.5h-5zM304 265h35v5.5h-35zM354 265h30v5.5h-30zM394 265h10v5.5h-10zM304 270h50v5.5h-50zM304 275h45v5.5h-45zM304 280h35v5.5h-35zM314 285h20v5.5h-20zM299 290h5v5.5h-5zM319 290h10v5.5h-10zM299 295h5v5.5h-5zM319 295h10v5.5h-10zM299 300h5v5.5h-5zM319 300h5v5.5h-5zM299 305h10v5.5h-10zM314 305h5v5.5h-5zM304 310h15v5.5h-15zM304 315h10v5.5h-10zM304 320h10v5.5h-10z"/><path fill="#c7ff38" d="M624 90h5v5.5h-5zM644 90h5v5.5h-5zM614 95h5v5.5h-5zM654 95h5v5.5h-5zM609 100h5v5.5h-5zM659 100h5v5.5h-5zM659 105h10v5.5h-10zM659 110h15v5.5h-15zM659 115h15v5.5h-15zM664 120h10v5.5h-10zM664 125h15v5.5h-15zM664 130h15v5.5h-15zM554 135h5v5.5h-5zM664 135h20v5.5h-20zM554 140h5v5.5h-5zM669 140h15v5.5h-15zM554 145h5v5.5h-5zM669 145h15v5.5h-15zM674 150h15v5.5h-15zM114 155h10v5.5h-10zM114 160h15v5.5h-15zM539 160h5v5.5h-5zM114 165h20v5.5h-20zM514 165h15v5.5h-15zM119 170h20v5.5h-20zM484 170h10v5.5h-10zM504 170h5v5.5h-5zM124 175h20v5.5h-20zM479 175h25v5.5h-25zM129 180h20v5.5h-20zM479 180h25v5.5h-25zM134 185h20v5.5h-20zM499 185h5v5.5h-5zM139 190h20v5.5h-20zM504 190h5v5.5h-5zM144 195h20v5.5h-20zM509 195h10v5.5h-10zM154 200h20v5.5h-20zM514 200h10v5.5h-10zM159 205h20v5.5h-20zM474 205h5v5.5h-5zM509 205h10v5.5h-10zM164 210h25v5.5h-25zM429 210h30v5.5h-30zM464 210h45v5.5h-45zM174 215h20v5.5h-20zM429 215h5v5.5h-5zM179 220h20v5.5h-20zM184 225h15v5.5h-15zM194 230h5v5.5h-5zM199 235h15v5.5h-15zM419 240h5v5.5h-5zM219 245h5v5.5h-5zM219 250h5v5.5h-5zM294 250h5v5.5h-5zM224 255h5v5.5h-5zM269 255h5v5.5h-5zM299 255h5v5.5h-5zM409 255h5v5.5h-5zM299 260h5v5.5h-5zM299 265h5v5.5h-5zM354 270h40v5.5h-40zM299 275h5v5.5h-5zM349 275h5v5.5h-5zM299 280h5v5.5h-5zM339 280h10v5.5h-10zM299 285h5v5.5h-5zM334 285h10v5.5h-10zM329 290h10v5.5h-10zM329 295h5v5.5h-5zM324 300h5v5.5h-5zM319 305h5v5.5h-5zM299 310h5v5.5h-5zM299 315h5v5.5h-5zM314 315h5v5.5h-5zM304 325h10v5.5h-10zM304 330h10v5.5h-10z"/><path fill="#d7ff28" d="M629 90h15v5.5h-15zM654 100h5v5.5h-5zM604 105h5v5.5h-5zM589 115h5v5.5h-5zM659 120h5v5.5h-5zM664 140h5v5.5h-5zM669 150h5v5.5h-5zM549 155h5v5.5h-5zM674 155h15v5.5h-15zM529 165h5v5.5h-5zM509 170h5v5.5h-5zM504 185h5v5.5h-5zM509 190h5v5.5h-5zM519 195h5v5.5h-5zM149 200h5v5.5h-5zM154 205h5v5.5h-5zM519 205h5v5.5h-5zM159 210h5v5.5h-5zM509 210h10v5.5h-10zM169 215h5v5.5h-5zM434 215h5v5.5h-5zM174 220h5v5.5h-5zM429 220h5v5.5h-5zM179 225h5v5.5h-5zM189 230h5v5.5h-5zM424 230h5v5.5h-5zM194 235h5v5.5h-5zM199 240h20v5.5h-20zM194 245h10v5.5h-10zM214 245h5v5.5h-5zM209 250h10v5.5h-10zM214 255h10v5.5h-10zM294 255h5v5.5h-5zM219 260h25v5.5h-25zM404 265h5v5.5h-5zM299 270h5v5.5h-5zM394 270h5v5.5h-5zM354 275h5v5.5h-5zM349 280h5v5.5h-5zM344 285h5v5.5h-5zM339 290h5v5.5h-5zM294 295h5v5.5h-5zM334 295h5v5.5h-5zM294 300h5v5.5h-5zM324 305h5v5.5h-5zM319 310h5v5.5h-5zM319 315h5v5.5h-5zM299 320h5v5.5h-5zM314 320h5v5.5h-5zM314 325h5v5.5h-5zM304 335h10v5.5h-10zM304 340h10v5.5h-10zM304 345h15v5.5h-15zM309 350h10v5.5h-10zM309 355h10v5.5h-10zM314 360h5v5.5h-5zM314 365h5v5.5h-5z"/><path fill="#e7ff18" d="M619 95h5v5.5h-5zM649 95h5v5.5h-5zM614 100h5v5.5h-5zM654 105h5v5.5h-5zM599 110h5v5.5h-5zM654 110h5v5.5h-5zM654 115h5v5.5h-5zM584 120h5v5.5h-5zM574 125h5v5.5h-5zM659 125h5v5.5h-5zM564 130h5v5.5h-5zM659 130h5v5.5h-5zM659 135h5v5.5h-5zM659 140h5v5.5h-5zM664 145h5v5.5h-5zM544 160h5v5.5h-5zM534 165h5v5.5h-5zM114 170h5v5.5h-5zM514 170h5v5.5h-5zM119 175h5v5.5h-5zM504 175h5v5.5h-5zM124 180h5v5.5h-5zM504 180h5v5.5h-5zM129 185h5v5.5h-5zM134 190h5v5.5h-5zM514 190h5v5.5h-5zM139 195h5v5.5h-5zM524 195h5v5.5h-5zM144 200h5v5.5h-5zM524 200h5v5.5h-5zM149 205h5v5.5h-5zM524 205h5v5.5h-5zM154 210h5v5.5h-5zM519 210h5v5.5h-5zM159 215h10v5.5h-10zM439 215h35v5.5h-35zM484 215h30v5.5h-30zM164 220h10v5.5h-10zM169 225h10v5.5h-10zM429 225h5v5.5h-5zM174 230h15v5.5h-15zM179 235h15v5.5h-15zM424 235h5v5.5h-5zM184 240h15v5.5h-15zM184 245h10v5.5h-10zM204 245h10v5.5h-10zM189 250h20v5.5h-20zM414 250h5v5.5h-5zM204 255h10v5.5h-10zM274 255h5v5.5h-5zM289 255h5v5.5h-5zM214 260h5v5.5h-5zM244 260h5v5.5h-5zM294 260h5v5.5h-5zM409 260h5v5.5h-5zM219 265h15v5.5h-15zM294 265h5v5.5h-5zM359 275h25v5.5h-25zM354 280h5v5.5h-5zM294 285h5v5.5h-5zM349 285h5v5.5h-5zM294 290h5v5.5h-5zM329 300h5v5.5h-5zM294 305h5v5.5h-5zM294 310h5v5.5h-5zM319 320h5v5.5h-5zM299 325h5v5.5h-5zM314 330h5v5.5h-5zM314 340h5v5.5h-5zM304 350h5v5.5h-5zM309 360h5v5.5h-5zM309 365h5v5.5h-5zM309 370h10v5.5h-10zM309 375h10v5.5h-10zM309 380h5v5.5h-5zM309 385h5v5.5h-5z"/><path fill="#f7ff08" d="M624 95h5v5.5h-5zM644 95h5v5.5h-5zM649 100h5v5.5h-5zM609 105h5v5.5h-5zM594 115h5v5.5h-5zM654 120h5v5.5h-5zM559 135h5v5.5h-5zM654 135h5v5.5h-5zM659 145h5v5.5h-5zM554 150h5v5.5h-5zM664 150h5v5.5h-5zM669 155h5v5.5h-5zM519 170h10v5.5h-10zM114 175h5v5.5h-5zM509 175h5v5.5h-5zM114 180h10v5.5h-10zM114 185h15v5.5h-15zM509 185h5v5.5h-5zM114 190h20v5.5h-20zM519 190h5v5.5h-5zM114 195h25v5.5h-25zM114 200h30v5.5h-30zM114 205h35v5.5h-35zM114 210h40v5.5h-40zM524 210h5v5.5h-5zM114 215h45v5.5h-45zM474 215h10v5.5h-10zM514 215h5v5.5h-5zM114 220h50v5.5h-50zM434 220h5v5.5h-5zM494 220h15v5.5h-15zM114 225h55v5.5h-55zM114 230h60v5.5h-60zM114 235h65v5.5h-65zM114 240h70v5.5h-70zM114 245h70v5.5h-70zM419 245h5v5.5h-5zM114 250h75v5.5h-75zM114 255h90v5.5h-90zM279 255h10v5.5h-10zM114 260h80v5.5h-80zM204 260h10v5.5h-10zM249 260h5v5.5h-5zM114 265h70v5.5h-70zM209 265h10v5.5h-10zM234 265h10v5.5h-10zM119 270h25v5.5h-25zM164 270h20v5.5h-20zM294 270h5v5.5h-5zM399 270h5v5.5h-5zM129 275h10v5.5h-10zM294 275h5v5.5h-5zM384 275h5v5.5h-5zM294 280h5v5.5h-5zM359 280h5v5.5h-5zM344 290h5v5.5h-5zM339 295h5v5.5h-5zM334 300h5v5.5h-5zM329 305h5v5.5h-5zM324 310h5v5.5h-5zM294 315h5v5.5h-5zM319 325h5v5.5h-5zM314 335h5v5.5h-5zM319 345h5v5.5h-5zM319 350h5v5.5h-5zM304 355h5v5.5h-5zM304 360h5v5.5h-5zM304 365h5v5.5h-5zM319 365h5v5.5h-5zM304 370h5v5.5h-5zM304 375h5v5.5h-5zM304 380h5v5.5h-5zM314 380h5v5.5h-5zM314 385h5v5.5h-5zM309 390h10v5.5h-10zM314 395h5v5.5h-5z"/><path fill="#fff700" d="M629 95h15v5.5h-15zM619 100h5v5.5h-5zM649 105h5v5.5h-5zM604 110h5v5.5h-5zM649 110h5v5.5h-5zM649 115h5v5.5h-5zM579 125h5v5.5h-5zM654 125h5v5.5h-5zM569 130h5v5.5h-5zM654 130h5v5.5h-5zM559 140h5v5.5h-5zM654 140h5v5.5h-5zM654 145h5v5.5h-5zM659 150h5v5.5h-5zM664 155h5v5.5h-5zM669 160h5v5.5h-5zM539 165h5v5.5h-5zM529 170h5v5.5h-5zM509 180h5v5.5h-5zM524 190h5v5.5h-5zM529 195h5v5.5h-5zM529 200h5v5.5h-5zM529 205h5v5.5h-5zM529 210h5v5.5h-5zM519 215h5v5.5h-5zM439 220h5v5.5h-5zM489 220h5v5.5h-5zM509 220h10v5.5h-10zM499 225h10v5.5h-10zM429 230h5v5.5h-5zM424 240h5v5.5h-5zM414 255h5v5.5h-5zM194 260h10v5.5h-10zM254 260h5v5.5h-5zM289 260h5v5.5h-5zM184 265h25v5.5h-25zM289 265h5v5.5h-5zM114 270h5v5.5h-5zM144 270h20v5.5h-20zM184 270h5v5.5h-5zM209 270h30v5.5h-30zM114 275h15v5.5h-15zM139 275h10v5.5h-10zM179 275h5v5.5h-5zM389 275h5v5.5h-5zM114 280h35v5.5h-35zM364 280h10v5.5h-10zM114 285h40v5.5h-40zM354 285h5v5.5h-5zM114 290h45v5.5h-45zM289 290h5v5.5h-5zM349 290h5v5.5h-5zM114 295h45v5.5h-45zM289 295h5v5.5h-5zM114 300h50v5.5h-50zM289 300h5v5.5h-5zM114 305h50v5.5h-50zM114 310h50v5.5h-50zM114 315h25v5.5h-25zM324 315h5v5.5h-5zM114 320h20v5.5h-20zM294 320h5v5.5h-5zM324 320h5v5.5h-5zM114 325h25v5.5h-25zM114 330h30v5.5h-30zM299 330h5v5.5h-5zM319 330h5v5.5h-5zM114 335h35v5.5h-35zM299 335h5v5.5h-5zM319 335h5v5.5h-5zM114 340h35v5.5h-35zM299 340h5v5.5h-5zM319 340h5v5.5h-5zM299 345h5v5.5h-5zM299 350h5v5.5h-5zM299 355h5v5.5h-5zM319 355h5v5.5h-5zM299 360h5v5.5h-5zM319 360h5v5.5h-5zM299 365h5v5.5h-5zM299 370h5v5.5h-5zM319 370h5v5.5h-5zM299 375h5v5.5h-5zM319 375h5v5.5h-5zM299 380h5v5.5h-5zM304 385h5v5.5h-5zM114 390h10v5.5h-10zM114 395h15v5.5h-15zM309 395h5v5.5h-5zM114 400h20v5.5h-20zM309 400h10v5.5h-10zM114 405h30v5.5h-30zM309 405h10v5.5h-10zM114 410h30v5.5h-30zM114 415h30v5.5h-30zM114 420h30v5.5h-30zM114 425h30v5.5h-30zM114 430h25v5.5h-25z"/><path fill="#ffe700" d="M624 100h5v5.5h-5zM644 100h5v5.5h-5zM614 105h5v5.5h-5zM599 115h5v5.5h-5zM589 120h5v5.5h-5zM649 120h5v5.5h-5zM649 125h5v5.5h-5zM649 130h5v5.5h-5zM564 135h5v5.5h-5zM649 135h5v5.5h-5zM649 140h5v5.5h-5zM559 145h5v5.5h-5zM649 145h5v5.5h-5zM654 150h5v5.5h-5zM554 155h5v5.5h-5zM654 155h10v5.5h-10zM549 160h5v5.5h-5zM664 160h5v5.5h-5zM674 160h15v5.5h-15zM659 165h10v5.5h-10zM534 170h5v5.5h-5zM654 170h15v5.5h-15zM514 175h10v5.5h-10zM659 175h5v5.5h-5zM514 185h5v5.5h-5zM679 185h10v5.5h-10zM529 190h5v5.5h-5zM679 190h10v5.5h-10zM664 195h5v5.5h-5zM679 195h10v5.5h-10zM534 200h5v5.5h-5zM679 200h10v5.5h-10zM534 205h5v5.5h-5zM524 215h5v5.5h-5zM444 220h20v5.5h-20zM469 220h20v5.5h-20zM519 220h5v5.5h-5zM434 225h5v5.5h-5zM494 225h5v5.5h-5zM509 225h5v5.5h-5zM419 250h5v5.5h-5zM259 260h5v5.5h-5zM284 260h5v5.5h-5zM244 265h5v5.5h-5zM409 265h5v5.5h-5zM189 270h20v5.5h-20zM239 270h5v5.5h-5zM289 270h5v5.5h-5zM174 275h5v5.5h-5zM184 275h5v5.5h-5zM209 275h30v5.5h-30zM289 275h5v5.5h-5zM149 280h5v5.5h-5zM174 280h10v5.5h-10zM289 280h5v5.5h-5zM374 280h5v5.5h-5zM154 285h5v5.5h-5zM169 285h15v5.5h-15zM289 285h5v5.5h-5zM359 285h5v5.5h-5zM169 290h10v5.5h-10zM159 295h15v5.5h-15zM344 295h5v5.5h-5zM164 300h10v5.5h-10zM164 305h5v5.5h-5zM289 305h5v5.5h-5zM289 310h5v5.5h-5zM329 310h5v5.5h-5zM139 315h25v5.5h-25zM134 320h5v5.5h-5zM154 320h5v5.5h-5zM139 325h5v5.5h-5zM154 325h5v5.5h-5zM294 325h5v5.5h-5zM324 325h5v5.5h-5zM144 330h5v5.5h-5zM149 335h5v5.5h-5zM149 340h5v5.5h-5zM324 340h5v5.5h-5zM324 345h5v5.5h-5zM324 350h5v5.5h-5zM294 355h5v5.5h-5zM294 360h5v5.5h-5zM144 365h5v5.5h-5zM169 365h5v5.5h-5zM294 365h5v5.5h-5zM144 370h5v5.5h-5zM294 370h5v5.5h-5zM144 375h5v5.5h-5zM294 375h5v5.5h-5zM144 380h5v5.5h-5zM294 380h5v5.5h-5zM319 380h5v5.5h-5zM139 385h10v5.5h-10zM299 385h5v5.5h-5zM319 385h5v5.5h-5zM124 390h5v5.5h-5zM139 390h10v5.5h-10zM304 390h5v5.5h-5zM319 390h5v5.5h-5zM129 395h5v5.5h-5zM139 395h10v5.5h-10zM304 395h5v5.5h-5zM319 395h5v5.5h-5zM134 400h15v5.5h-15zM319 400h5v5.5h-5zM144 405h5v5.5h-5zM319 405h5v5.5h-5zM144 410h5v5.5h-5zM309 410h15v5.5h-15zM144 415h5v5.5h-5zM314 415h5v5.5h-5zM144 420h5v5.5h-5zM144 425h5v5.5h-5zM139 430h5v5.5h-5zM114 435h15v5.5h-15zM134 435h10v5.5h-10zM134 440h10v5.5h-10zM134 445h5v5.5h-5z"/><path fill="#ffd700" d="M629 100h15v5.5h-15zM619 105h30v5.5h-30zM609 110h40v5.5h-40zM604 115h5v5.5h-5zM624 115h25v5.5h-25zM594 120h5v5.5h-5zM629 120h20v5.5h-20zM584 125h10v5.5h-10zM634 125h15v5.5h-15zM574 130h10v5.5h-10zM634 130h15v5.5h-15zM569 135h5v5.5h-5zM634 135h15v5.5h-15zM564 140h5v5.5h-5zM629 140h20v5.5h-20zM624 145h25v5.5h-25zM559 150h5v5.5h-5zM624 150h30v5.5h-30zM629 155h25v5.5h-25zM634 160h30v5.5h-30zM544 165h5v5.5h-5zM639 165h20v5.5h-20zM669 165h20v5.5h-20zM539 170h5v5.5h-5zM644 170h10v5.5h-10zM669 170h20v5.5h-20zM524 175h15v5.5h-15zM644 175h15v5.5h-15zM664 175h25v5.5h-25zM514 180h25v5.5h-25zM649 180h40v5.5h-40zM519 185h20v5.5h-20zM649 185h30v5.5h-30zM534 190h5v5.5h-5zM649 190h30v5.5h-30zM534 195h10v5.5h-10zM649 195h15v5.5h-15zM674 195h5v5.5h-5zM539 200h5v5.5h-5zM654 200h15v5.5h-15zM539 205h5v5.5h-5zM659 205h10v5.5h-10zM679 205h10v5.5h-10zM534 210h5v5.5h-5zM529 215h5v5.5h-5zM464 220h5v5.5h-5zM484 225h10v5.5h-10zM514 225h5v5.5h-5zM494 230h15v5.5h-15zM429 235h5v5.5h-5zM424 245h5v5.5h-5zM264 260h20v5.5h-20zM414 260h5v5.5h-5zM249 265h5v5.5h-5zM284 265h5v5.5h-5zM244 270h5v5.5h-5zM284 270h5v5.5h-5zM404 270h5v5.5h-5zM149 275h25v5.5h-25zM189 275h20v5.5h-20zM239 275h5v5.5h-5zM394 275h5v5.5h-5zM154 280h20v5.5h-20zM184 280h55v5.5h-55zM159 285h10v5.5h-10zM184 285h50v5.5h-50zM364 285h5v5.5h-5zM159 290h10v5.5h-10zM179 290h55v5.5h-55zM284 290h5v5.5h-5zM354 290h5v5.5h-5zM174 295h60v5.5h-60zM284 295h5v5.5h-5zM174 300h10v5.5h-10zM199 300h35v5.5h-35zM284 300h5v5.5h-5zM339 300h5v5.5h-5zM169 305h10v5.5h-10zM214 305h15v5.5h-15zM284 305h5v5.5h-5zM334 305h5v5.5h-5zM164 310h10v5.5h-10zM284 310h5v5.5h-5zM164 315h10v5.5h-10zM289 315h5v5.5h-5zM329 315h5v5.5h-5zM139 320h15v5.5h-15zM159 320h20v5.5h-20zM289 320h5v5.5h-5zM144 325h10v5.5h-10zM159 325h20v5.5h-20zM149 330h35v5.5h-35zM294 330h5v5.5h-5zM324 330h5v5.5h-5zM154 335h30v5.5h-30zM294 335h5v5.5h-5zM324 335h5v5.5h-5zM154 340h35v5.5h-35zM294 340h5v5.5h-5zM114 345h75v5.5h-75zM294 345h5v5.5h-5zM114 350h75v5.5h-75zM294 350h5v5.5h-5zM114 355h75v5.5h-75zM289 355h5v5.5h-5zM324 355h5v5.5h-5zM114 360h75v5.5h-75zM284 360h10v5.5h-10zM114 365h30v5.5h-30zM149 365h20v5.5h-20zM174 365h15v5.5h-15zM284 365h10v5.5h-10zM114 370h30v5.5h-30zM149 370h35v5.5h-35zM284 370h10v5.5h-10zM114 375h30v5.5h-30zM149 375h35v5.5h-35zM284 375h10v5.5h-10zM114 380h30v5.5h-30zM149 380h30v5.5h-30zM289 380h5v5.5h-5zM324 380h5v5.5h-5zM114 385h25v5.5h-25zM149 385h30v5.5h-30zM294 385h5v5.5h-5zM129 390h10v5.5h-10zM149 390h25v5.5h-25zM299 390h5v5.5h-5zM134 395h5v5.5h-5zM149 395h20v5.5h-20zM299 395h5v5.5h-5zM149 400h15v5.5h-15zM304 400h5v5.5h-5zM149 405h10v5.5h-10zM304 405h5v5.5h-5zM324 405h5v5.5h-5zM149 410h5v5.5h-5zM304 410h5v5.5h-5zM324 410h5v5.5h-5zM149 415h5v5.5h-5zM304 415h10v5.5h-10zM319 415h10v5.5h-10zM149 420h5v5.5h-5zM304 420h20v5.5h-20zM149 425h5v5.5h-5zM309 425h15v5.5h-15zM144 430h5v5.5h-5zM309 430h15v5.5h-15zM129 435h5v5.5h-5zM144 435h5v5.5h-5zM309 435h15v5.5h-15zM114 440h20v5.5h-20zM144 440h5v5.5h-5zM114 445h20v5.5h-20zM139 445h5v5.5h-5zM114 450h30v5.5h-30zM114 455h30v5.5h-30zM114 460h25v5.5h-25zM114 465h20v5.5h-20zM114 470h15v5.5h-15zM114 475h10v5.5h-10zM229 475h15v5.5h-15zM114 480h10v5.5h-10zM224 480h20v5.5h-20zM114 485h5v5.5h-5zM234 485h5v5.5h-5z"/><path fill="#ffc700" d="M609 115h15v5.5h-15zM599 120h30v5.5h-30zM594 125h10v5.5h-10zM619 125h15v5.5h-15zM584 130h15v5.5h-15zM619 130h15v5.5h-15zM574 135h20v5.5h-20zM619 135h15v5.5h-15zM569 140h15v5.5h-15zM614 140h15v5.5h-15zM564 145h15v5.5h-15zM614 145h10v5.5h-10zM564 150h5v5.5h-5zM614 150h10v5.5h-10zM559 155h5v5.5h-5zM619 155h10v5.5h-10zM554 160h5v5.5h-5zM624 160h10v5.5h-10zM549 165h5v5.5h-5zM624 165h15v5.5h-15zM544 170h5v5.5h-5zM624 170h20v5.5h-20zM539 175h5v5.5h-5zM629 175h15v5.5h-15zM539 180h5v5.5h-5zM629 180h20v5.5h-20zM539 185h5v5.5h-5zM634 185h15v5.5h-15zM539 190h5v5.5h-5zM634 190h15v5.5h-15zM544 195h5v5.5h-5zM634 195h15v5.5h-15zM669 195h5v5.5h-5zM544 200h5v5.5h-5zM639 200h15v5.5h-15zM669 200h10v5.5h-10zM544 205h5v5.5h-5zM654 205h5v5.5h-5zM539 210h5v5.5h-5zM664 210h5v5.5h-5zM679 210h5v5.5h-5zM524 220h5v5.5h-5zM439 225h10v5.5h-10zM474 225h10v5.5h-10zM434 230h5v5.5h-5zM484 230h10v5.5h-10zM509 230h5v5.5h-5zM489 235h15v5.5h-15zM429 240h5v5.5h-5zM419 255h5v5.5h-5zM254 265h5v5.5h-5zM279 265h5v5.5h-5zM244 275h5v5.5h-5zM284 275h5v5.5h-5zM239 280h5v5.5h-5zM284 280h5v5.5h-5zM379 280h5v5.5h-5zM234 285h10v5.5h-10zM279 285h10v5.5h-10zM234 290h5v5.5h-5zM279 290h5v5.5h-5zM359 290h5v5.5h-5zM234 295h5v5.5h-5zM279 295h5v5.5h-5zM184 300h15v5.5h-15zM234 300h5v5.5h-5zM279 300h5v5.5h-5zM179 305h35v5.5h-35zM229 305h10v5.5h-10zM274 305h10v5.5h-10zM174 310h65v5.5h-65zM269 310h15v5.5h-15zM174 315h60v5.5h-60zM274 315h15v5.5h-15zM179 320h45v5.5h-45zM284 320h5v5.5h-5zM329 320h5v5.5h-5zM179 325h40v5.5h-40zM289 325h5v5.5h-5zM184 330h25v5.5h-25zM289 330h5v5.5h-5zM184 335h25v5.5h-25zM289 335h5v5.5h-5zM189 340h20v5.5h-20zM289 340h5v5.5h-5zM189 345h20v5.5h-20zM289 345h5v5.5h-5zM189 350h20v5.5h-20zM284 350h10v5.5h-10zM189 355h20v5.5h-20zM284 355h5v5.5h-5zM189 360h20v5.5h-20zM279 360h5v5.5h-5zM324 360h5v5.5h-5zM189 365h20v5.5h-20zM274 365h10v5.5h-10zM324 365h5v5.5h-5zM184 370h25v5.5h-25zM274 370h10v5.5h-10zM324 370h5v5.5h-5zM184 375h20v5.5h-20zM279 375h5v5.5h-5zM324 375h5v5.5h-5zM179 380h25v5.5h-25zM279 380h10v5.5h-10zM179 385h20v5.5h-20zM284 385h10v5.5h-10zM324 385h5v5.5h-5zM174 390h20v5.5h-20zM289 390h10v5.5h-10zM324 390h5v5.5h-5zM169 395h25v5.5h-25zM294 395h5v5.5h-5zM324 395h5v5.5h-5zM164 400h20v5.5h-20zM294 400h10v5.5h-10zM324 400h5v5.5h-5zM159 405h15v5.5h-15zM294 405h10v5.5h-10zM329 405h5v5.5h-5zM154 410h10v5.5h-10zM299 410h5v5.5h-5zM329 410h5v5.5h-5zM154 415h5v5.5h-5zM299 415h5v5.5h-5zM329 415h10v5.5h-10zM154 420h5v5.5h-5zM299 420h5v5.5h-5zM324 420h15v5.5h-15zM154 425h5v5.5h-5zM299 425h10v5.5h-10zM324 425h20v5.5h-20zM149 430h10v5.5h-10zM299 430h10v5.5h-10zM324 430h20v5.5h-20zM149 435h5v5.5h-5zM299 435h10v5.5h-10zM324 435h20v5.5h-20zM149 440h5v5.5h-5zM299 440h40v5.5h-40zM144 445h10v5.5h-10zM304 445h25v5.5h-25zM144 450h5v5.5h-5zM139 460h5v5.5h-5zM134 465h5v5.5h-5zM129 470h5v5.5h-5zM234 470h20v5.5h-20zM124 475h5v5.5h-5zM224 475h5v5.5h-5zM244 475h10v5.5h-10zM124 480h5v5.5h-5zM214 480h10v5.5h-10zM244 480h10v5.5h-10zM119 485h5v5.5h-5zM214 485h20v5.5h-20zM239 485h15v5.5h-15zM224 490h25v5.5h-25z"/><path fill="#ffb700" d="M604 125h15v5.5h-15zM599 130h20v5.5h-20zM594 135h25v5.5h-25zM584 140h30v5.5h-30zM579 145h20v5.5h-20zM604 145h10v5.5h-10zM569 150h20v5.5h-20zM604 150h10v5.5h-10zM564 155h5v5.5h-5zM609 155h10v5.5h-10zM559 160h5v5.5h-5zM614 160h10v5.5h-10zM554 165h5v5.5h-5zM619 165h5v5.5h-5zM549 170h10v5.5h-10zM619 170h5v5.5h-5zM544 175h10v5.5h-10zM619 175h10v5.5h-10zM544 180h5v5.5h-5zM619 180h10v5.5h-10zM544 185h5v5.5h-5zM624 185h10v5.5h-10zM544 190h5v5.5h-5zM624 190h10v5.5h-10zM624 195h10v5.5h-10zM629 200h10v5.5h-10zM639 205h15v5.5h-15zM669 205h10v5.5h-10zM654 210h10v5.5h-10zM669 210h10v5.5h-10zM684 210h5v5.5h-5zM534 215h5v5.5h-5zM664 215h5v5.5h-5zM449 225h5v5.5h-5zM469 225h5v5.5h-5zM519 225h5v5.5h-5zM474 230h10v5.5h-10zM434 235h5v5.5h-5zM484 235h5v5.5h-5zM504 235h5v5.5h-5zM489 240h15v5.5h-15zM424 250h5v5.5h-5zM259 265h5v5.5h-5zM274 265h5v5.5h-5zM249 270h5v5.5h-5zM279 270h5v5.5h-5zM249 275h5v5.5h-5zM279 275h5v5.5h-5zM244 280h5v5.5h-5zM274 280h10v5.5h-10zM244 285h5v5.5h-5zM274 285h5v5.5h-5zM369 285h5v5.5h-5zM239 290h10v5.5h-10zM274 290h5v5.5h-5zM239 295h10v5.5h-10zM274 295h5v5.5h-5zM349 295h5v5.5h-5zM239 300h10v5.5h-10zM269 300h10v5.5h-10zM239 305h10v5.5h-10zM264 305h10v5.5h-10zM239 310h10v5.5h-10zM259 310h10v5.5h-10zM334 310h5v5.5h-5zM234 315h15v5.5h-15zM259 315h15v5.5h-15zM224 320h20v5.5h-20zM264 320h20v5.5h-20zM219 325h15v5.5h-15zM279 325h10v5.5h-10zM329 325h5v5.5h-5zM209 330h20v5.5h-20zM284 330h5v5.5h-5zM209 335h15v5.5h-15zM284 335h5v5.5h-5zM209 340h5v5.5h-5zM284 340h5v5.5h-5zM209 345h5v5.5h-5zM284 345h5v5.5h-5zM329 345h5v5.5h-5zM209 350h10v5.5h-10zM279 350h5v5.5h-5zM209 355h10v5.5h-10zM274 355h10v5.5h-10zM209 360h10v5.5h-10zM274 360h5v5.5h-5zM209 365h10v5.5h-10zM269 365h5v5.5h-5zM209 370h10v5.5h-10zM269 370h5v5.5h-5zM204 375h20v5.5h-20zM274 375h5v5.5h-5zM204 380h15v5.5h-15zM274 380h5v5.5h-5zM329 380h5v5.5h-5zM199 385h15v5.5h-15zM279 385h5v5.5h-5zM329 385h5v5.5h-5zM194 390h15v5.5h-15zM284 390h5v5.5h-5zM329 390h5v5.5h-5zM194 395h10v5.5h-10zM284 395h10v5.5h-10zM329 395h5v5.5h-5zM184 400h15v5.5h-15zM284 400h10v5.5h-10zM329 400h5v5.5h-5zM174 405h15v5.5h-15zM289 405h5v5.5h-5zM334 405h5v5.5h-5zM164 410h15v5.5h-15zM289 410h10v5.5h-10zM334 410h5v5.5h-5zM159 415h10v5.5h-10zM289 415h10v5.5h-10zM339 415h5v5.5h-5zM159 420h10v5.5h-10zM294 420h5v5.5h-5zM339 420h5v5.5h-5zM159 425h5v5.5h-5zM294 425h5v5.5h-5zM344 425h5v5.5h-5zM159 430h5v5.5h-5zM294 430h5v5.5h-5zM344 430h5v5.5h-5zM154 435h10v5.5h-10zM294 435h5v5.5h-5zM344 435h10v5.5h-10zM154 440h10v5.5h-10zM294 440h5v5.5h-5zM339 440h15v5.5h-15zM154 445h5v5.5h-5zM294 445h10v5.5h-10zM329 445h15v5.5h-15zM149 450h5v5.5h-5zM304 450h20v5.5h-20zM144 455h5v5.5h-5zM144 460h5v5.5h-5zM139 465h5v5.5h-5zM239 465h20v5.5h-20zM134 470h5v5.5h-5zM224 470h10v5.5h-10zM254 470h5v5.5h-5zM129 475h5v5.5h-5zM219 475h5v5.5h-5zM254 475h5v5.5h-5zM209 480h5v5.5h-5zM254 480h5v5.5h-5zM124 485h5v5.5h-5zM209 485h5v5.5h-5zM254 485h10v5.5h-10zM214 490h10v5.5h-10zM249 490h10v5.5h-10zM224 495h35v5.5h-35zM239 500h15v5.5h-15z"/><path fill="#ffa700" d="M599 145h5v5.5h-5zM589 150h15v5.5h-15zM569 155h20v5.5h-20zM599 155h10v5.5h-10zM564 160h10v5.5h-10zM604 160h10v5.5h-10zM559 165h10v5.5h-10zM609 165h10v5.5h-10zM559 170h5v5.5h-5zM614 170h5v5.5h-5zM554 175h5v5.5h-5zM614 175h5v5.5h-5zM549 180h5v5.5h-5zM614 180h5v5.5h-5zM549 185h5v5.5h-5zM614 185h10v5.5h-10zM549 190h5v5.5h-5zM614 190h10v5.5h-10zM549 195h5v5.5h-5zM614 195h10v5.5h-10zM549 200h5v5.5h-5zM619 200h10v5.5h-10zM549 205h5v5.5h-5zM629 205h10v5.5h-10zM544 210h5v5.5h-5zM639 210h15v5.5h-15zM659 215h5v5.5h-5zM669 215h5v5.5h-5zM529 220h5v5.5h-5zM454 225h15v5.5h-15zM439 230h5v5.5h-5zM469 230h5v5.5h-5zM514 230h5v5.5h-5zM474 235h10v5.5h-10zM509 235h5v5.5h-5zM434 240h5v5.5h-5zM484 240h5v5.5h-5zM504 240h5v5.5h-5zM429 245h5v5.5h-5zM489 245h10v5.5h-10zM424 255h5v5.5h-5zM419 260h5v5.5h-5zM264 265h10v5.5h-10zM414 265h5v5.5h-5zM254 270h5v5.5h-5zM274 270h5v5.5h-5zM254 275h5v5.5h-5zM274 275h5v5.5h-5zM399 275h5v5.5h-5zM249 280h5v5.5h-5zM269 280h5v5.5h-5zM384 280h5v5.5h-5zM249 285h5v5.5h-5zM269 285h5v5.5h-5zM249 290h5v5.5h-5zM269 290h5v5.5h-5zM249 295h5v5.5h-5zM264 295h10v5.5h-10zM249 300h5v5.5h-5zM259 300h10v5.5h-10zM249 305h15v5.5h-15zM249 310h10v5.5h-10zM249 315h10v5.5h-10zM244 320h20v5.5h-20zM234 325h45v5.5h-45zM229 330h20v5.5h-20zM274 330h10v5.5h-10zM329 330h5v5.5h-5zM224 335h15v5.5h-15zM279 335h5v5.5h-5zM329 335h5v5.5h-5zM214 340h20v5.5h-20zM279 340h5v5.5h-5zM329 340h5v5.5h-5zM214 345h15v5.5h-15zM274 345h10v5.5h-10zM219 350h5v5.5h-5zM274 350h5v5.5h-5zM329 350h5v5.5h-5zM219 355h5v5.5h-5zM269 355h5v5.5h-5zM219 360h5v5.5h-5zM269 360h5v5.5h-5zM219 365h10v5.5h-10zM264 365h5v5.5h-5zM219 370h10v5.5h-10zM264 370h5v5.5h-5zM224 375h5v5.5h-5zM264 375h10v5.5h-10zM329 375h5v5.5h-5zM219 380h10v5.5h-10zM269 380h5v5.5h-5zM214 385h10v5.5h-10zM269 385h10v5.5h-10zM334 385h5v5.5h-5zM209 390h10v5.5h-10zM274 390h10v5.5h-10zM334 390h5v5.5h-5zM204 395h10v5.5h-10zM279 395h5v5.5h-5zM334 395h5v5.5h-5zM199 400h5v5.5h-5zM279 400h5v5.5h-5zM334 400h5v5.5h-5zM189 405h10v5.5h-10zM279 405h10v5.5h-10zM339 405h5v5.5h-5zM179 410h15v5.5h-15zM279 410h10v5.5h-10zM339 410h10v5.5h-10zM169 415h15v5.5h-15zM284 415h5v5.5h-5zM344 415h5v5.5h-5zM169 420h5v5.5h-5zM284 420h10v5.5h-10zM344 420h5v5.5h-5zM164 425h10v5.5h-10zM284 425h10v5.5h-10zM349 425h5v5.5h-5zM164 430h5v5.5h-5zM284 430h10v5.5h-10zM349 430h5v5.5h-5zM164 435h5v5.5h-5zM289 435h5v5.5h-5zM164 440h5v5.5h-5zM289 440h5v5.5h-5zM354 440h5v5.5h-5zM159 445h10v5.5h-10zM344 445h10v5.5h-10zM154 450h10v5.5h-10zM294 450h10v5.5h-10zM324 450h20v5.5h-20zM149 455h5v5.5h-5zM244 460h15v5.5h-15zM144 465h5v5.5h-5zM229 465h10v5.5h-10zM259 465h5v5.5h-5zM139 470h5v5.5h-5zM219 470h5v5.5h-5zM259 470h5v5.5h-5zM134 475h5v5.5h-5zM209 475h10v5.5h-10zM259 475h5v5.5h-5zM129 480h5v5.5h-5zM204 480h5v5.5h-5zM259 480h10v5.5h-10zM129 485h5v5.5h-5zM204 485h5v5.5h-5zM264 485h5v5.5h-5zM114 490h5v5.5h-5zM204 490h10v5.5h-10zM259 490h10v5.5h-10zM214 495h10v5.5h-10zM259 495h5v5.5h-5zM219 500h20v5.5h-20zM254 500h10v5.5h-10zM234 505h25v5.5h-25z"/><path fill="#ff9700" d="M589 155h10v5.5h-10zM574 160h30v5.5h-30zM569 165h10v5.5h-10zM599 165h10v5.5h-10zM564 170h5v5.5h-5zM604 170h10v5.5h-10zM559 175h5v5.5h-5zM609 175h5v5.5h-5zM554 180h10v5.5h-10zM609 180h5v5.5h-5zM554 185h5v5.5h-5zM609 185h5v5.5h-5zM554 190h5v5.5h-5zM609 190h5v5.5h-5zM609 195h5v5.5h-5zM609 200h10v5.5h-10zM614 205h15v5.5h-15zM549 210h5v5.5h-5zM619 210h20v5.5h-20zM539 215h5v5.5h-5zM639 215h20v5.5h-20zM674 215h5v5.5h-5zM659 220h10v5.5h-10zM524 225h5v5.5h-5zM444 230h5v5.5h-5zM469 235h5v5.5h-5zM479 240h5v5.5h-5zM434 245h5v5.5h-5zM484 245h5v5.5h-5zM499 245h10v5.5h-10zM429 250h5v5.5h-5zM489 250h5v5.5h-5zM259 270h5v5.5h-5zM269 270h5v5.5h-5zM409 270h5v5.5h-5zM259 275h5v5.5h-5zM269 275h5v5.5h-5zM254 280h15v5.5h-15zM254 285h15v5.5h-15zM374 285h5v5.5h-5zM254 290h15v5.5h-15zM364 290h5v5.5h-5zM254 295h10v5.5h-10zM354 295h5v5.5h-5zM254 300h5v5.5h-5zM344 300h5v5.5h-5zM339 305h5v5.5h-5zM334 315h5v5.5h-5zM249 330h25v5.5h-25zM239 335h40v5.5h-40zM234 340h20v5.5h-20zM269 340h10v5.5h-10zM229 345h15v5.5h-15zM269 345h5v5.5h-5zM224 350h15v5.5h-15zM264 350h10v5.5h-10zM224 355h10v5.5h-10zM264 355h5v5.5h-5zM329 355h5v5.5h-5zM224 360h10v5.5h-10zM259 360h10v5.5h-10zM229 365h5v5.5h-5zM259 365h5v5.5h-5zM229 370h5v5.5h-5zM259 370h5v5.5h-5zM329 370h5v5.5h-5zM229 375h5v5.5h-5zM259 375h5v5.5h-5zM229 380h5v5.5h-5zM264 380h5v5.5h-5zM334 380h5v5.5h-5zM224 385h5v5.5h-5zM264 385h5v5.5h-5zM219 390h5v5.5h-5zM269 390h5v5.5h-5zM214 395h5v5.5h-5zM269 395h10v5.5h-10zM339 395h5v5.5h-5zM204 400h10v5.5h-10zM274 400h5v5.5h-5zM339 400h5v5.5h-5zM199 405h10v5.5h-10zM274 405h5v5.5h-5zM344 405h5v5.5h-5zM194 410h5v5.5h-5zM274 410h5v5.5h-5zM349 410h5v5.5h-5zM184 415h10v5.5h-10zM274 415h10v5.5h-10zM349 415h5v5.5h-5zM174 420h10v5.5h-10zM274 420h10v5.5h-10zM349 420h5v5.5h-5zM174 425h5v5.5h-5zM279 425h5v5.5h-5zM354 425h5v5.5h-5zM169 430h10v5.5h-10zM279 430h5v5.5h-5zM354 430h5v5.5h-5zM169 435h5v5.5h-5zM284 435h5v5.5h-5zM354 435h5v5.5h-5zM169 440h5v5.5h-5zM284 440h5v5.5h-5zM359 440h5v5.5h-5zM169 445h5v5.5h-5zM289 445h5v5.5h-5zM354 445h5v5.5h-5zM164 450h5v5.5h-5zM344 450h10v5.5h-10zM154 455h10v5.5h-10zM244 455h15v5.5h-15zM304 455h35v5.5h-35zM149 460h5v5.5h-5zM234 460h10v5.5h-10zM259 460h5v5.5h-5zM149 465h5v5.5h-5zM219 465h10v5.5h-10zM264 465h5v5.5h-5zM144 470h5v5.5h-5zM209 470h10v5.5h-10zM264 470h5v5.5h-5zM139 475h5v5.5h-5zM204 475h5v5.5h-5zM264 475h5v5.5h-5zM134 480h5v5.5h-5zM199 480h5v5.5h-5zM199 485h5v5.5h-5zM269 485h5v5.5h-5zM124 490h10v5.5h-10zM199 490h5v5.5h-5zM269 490h5v5.5h-5zM129 495h5v5.5h-5zM204 495h10v5.5h-10zM264 495h10v5.5h-10zM214 500h5v5.5h-5zM264 500h5v5.5h-5zM219 505h15v5.5h-15zM259 505h5v5.5h-5zM229 510h30v5.5h-30zM234 515h5v5.5h-5z"/><path fill="#ff8700" d="M579 165h20v5.5h-20zM569 170h10v5.5h-10zM594 170h10v5.5h-10zM564 175h5v5.5h-5zM599 175h10v5.5h-10zM564 180h5v5.5h-5zM604 180h5v5.5h-5zM559 185h5v5.5h-5zM604 185h5v5.5h-5zM559 190h5v5.5h-5zM604 190h5v5.5h-5zM554 195h10v5.5h-10zM604 195h5v5.5h-5zM554 200h5v5.5h-5zM604 200h5v5.5h-5zM554 205h5v5.5h-5zM609 205h5v5.5h-5zM609 210h10v5.5h-10zM544 215h5v5.5h-5zM614 215h25v5.5h-25zM679 215h5v5.5h-5zM534 220h5v5.5h-5zM644 220h15v5.5h-15zM669 220h5v5.5h-5zM449 230h5v5.5h-5zM464 230h5v5.5h-5zM519 230h5v5.5h-5zM439 235h5v5.5h-5zM439 240h5v5.5h-5zM469 240h10v5.5h-10zM509 240h5v5.5h-5zM479 245h5v5.5h-5zM509 245h5v5.5h-5zM484 250h5v5.5h-5zM494 250h15v5.5h-15zM264 270h5v5.5h-5zM264 275h5v5.5h-5zM389 280h5v5.5h-5zM254 340h15v5.5h-15zM244 345h25v5.5h-25zM239 350h25v5.5h-25zM234 355h30v5.5h-30zM234 360h10v5.5h-10zM254 360h5v5.5h-5zM329 360h5v5.5h-5zM234 365h5v5.5h-5zM249 365h10v5.5h-10zM329 365h5v5.5h-5zM234 370h5v5.5h-5zM249 370h10v5.5h-10zM234 375h5v5.5h-5zM254 375h5v5.5h-5zM334 375h5v5.5h-5zM234 380h5v5.5h-5zM254 380h10v5.5h-10zM229 385h5v5.5h-5zM259 385h5v5.5h-5zM339 385h5v5.5h-5zM224 390h10v5.5h-10zM259 390h10v5.5h-10zM339 390h5v5.5h-5zM219 395h10v5.5h-10zM264 395h5v5.5h-5zM344 395h5v5.5h-5zM214 400h10v5.5h-10zM264 400h10v5.5h-10zM344 400h10v5.5h-10zM209 405h10v5.5h-10zM264 405h10v5.5h-10zM349 405h5v5.5h-5zM199 410h10v5.5h-10zM269 410h5v5.5h-5zM354 410h5v5.5h-5zM194 415h10v5.5h-10zM264 415h10v5.5h-10zM354 415h5v5.5h-5zM184 420h15v5.5h-15zM264 420h10v5.5h-10zM354 420h5v5.5h-5zM179 425h10v5.5h-10zM264 425h15v5.5h-15zM359 425h5v5.5h-5zM179 430h5v5.5h-5zM264 430h15v5.5h-15zM359 430h5v5.5h-5zM174 435h10v5.5h-10zM269 435h15v5.5h-15zM359 435h5v5.5h-5zM174 440h10v5.5h-10zM274 440h10v5.5h-10zM364 440h5v5.5h-5zM174 445h5v5.5h-5zM244 445h5v5.5h-5zM279 445h10v5.5h-10zM359 445h5v5.5h-5zM169 450h10v5.5h-10zM239 450h20v5.5h-20zM289 450h5v5.5h-5zM354 450h10v5.5h-10zM164 455h5v5.5h-5zM239 455h5v5.5h-5zM259 455h5v5.5h-5zM294 455h10v5.5h-10zM339 455h15v5.5h-15zM154 460h10v5.5h-10zM224 460h10v5.5h-10zM264 460h5v5.5h-5zM154 465h5v5.5h-5zM214 465h5v5.5h-5zM269 465h5v5.5h-5zM149 470h5v5.5h-5zM204 470h5v5.5h-5zM269 470h5v5.5h-5zM144 475h5v5.5h-5zM199 475h5v5.5h-5zM269 475h5v5.5h-5zM139 480h5v5.5h-5zM194 480h5v5.5h-5zM269 480h5v5.5h-5zM134 485h5v5.5h-5zM194 485h5v5.5h-5zM274 485h5v5.5h-5zM119 490h5v5.5h-5zM134 490h5v5.5h-5zM194 490h5v5.5h-5zM274 490h5v5.5h-5zM124 495h5v5.5h-5zM194 495h10v5.5h-10zM274 495h5v5.5h-5zM124 500h10v5.5h-10zM204 500h10v5.5h-10zM269 500h5v5.5h-5zM124 505h10v5.5h-10zM209 505h10v5.5h-10zM264 505h10v5.5h-10zM219 510h10v5.5h-10zM259 510h10v5.5h-10zM224 515h10v5.5h-10zM239 515h25v5.5h-25zM224 520h25v5.5h-25z"/><path fill="#ff7800" d="M579 170h15v5.5h-15zM569 175h30v5.5h-30zM569 180h5v5.5h-5zM594 180h10v5.5h-10zM564 185h10v5.5h-10zM599 185h5v5.5h-5zM564 190h10v5.5h-10zM599 190h5v5.5h-5zM564 195h5v5.5h-5zM599 195h5v5.5h-5zM559 200h10v5.5h-10zM599 200h5v5.5h-5zM559 205h10v5.5h-10zM599 205h10v5.5h-10zM554 210h10v5.5h-10zM604 210h5v5.5h-5zM549 215h5v5.5h-5zM604 215h10v5.5h-10zM684 215h5v5.5h-5zM609 220h35v5.5h-35zM674 220h5v5.5h-5zM529 225h5v5.5h-5zM614 225h5v5.5h-5zM639 225h25v5.5h-25zM454 230h10v5.5h-10zM464 235h5v5.5h-5zM514 235h5v5.5h-5zM439 245h5v5.5h-5zM469 245h10v5.5h-10zM434 250h5v5.5h-5zM479 250h5v5.5h-5zM509 250h5v5.5h-5zM429 255h5v5.5h-5zM484 255h25v5.5h-25zM424 260h5v5.5h-5zM419 265h5v5.5h-5zM369 290h5v5.5h-5zM359 295h5v5.5h-5zM334 320h5v5.5h-5zM244 360h10v5.5h-10zM239 365h10v5.5h-10zM239 370h10v5.5h-10zM459 370h10v5.5h-10zM239 375h15v5.5h-15zM454 375h15v5.5h-15zM239 380h15v5.5h-15zM339 380h5v5.5h-5zM449 380h25v5.5h-25zM234 385h25v5.5h-25zM344 385h5v5.5h-5zM444 385h25v5.5h-25zM234 390h5v5.5h-5zM244 390h15v5.5h-15zM344 390h5v5.5h-5zM444 390h25v5.5h-25zM229 395h10v5.5h-10zM249 395h15v5.5h-15zM349 395h10v5.5h-10zM224 400h10v5.5h-10zM249 400h15v5.5h-15zM354 400h5v5.5h-5zM219 405h10v5.5h-10zM249 405h15v5.5h-15zM354 405h5v5.5h-5zM494 405h10v5.5h-10zM209 410h10v5.5h-10zM249 410h20v5.5h-20zM359 410h5v5.5h-5zM494 410h10v5.5h-10zM204 415h10v5.5h-10zM254 415h10v5.5h-10zM359 415h5v5.5h-5zM199 420h5v5.5h-5zM254 420h10v5.5h-10zM359 420h5v5.5h-5zM189 425h10v5.5h-10zM254 425h10v5.5h-10zM364 425h5v5.5h-5zM184 430h10v5.5h-10zM249 430h15v5.5h-15zM364 430h5v5.5h-5zM469 430h10v5.5h-10zM184 435h5v5.5h-5zM254 435h15v5.5h-15zM364 435h10v5.5h-10zM464 435h15v5.5h-15zM184 440h5v5.5h-5zM244 440h10v5.5h-10zM259 440h15v5.5h-15zM369 440h5v5.5h-5zM464 440h15v5.5h-15zM179 445h10v5.5h-10zM239 445h5v5.5h-5zM249 445h10v5.5h-10zM264 445h15v5.5h-15zM364 445h5v5.5h-5zM179 450h5v5.5h-5zM234 450h5v5.5h-5zM259 450h5v5.5h-5zM269 450h20v5.5h-20zM364 450h5v5.5h-5zM169 455h10v5.5h-10zM229 455h10v5.5h-10zM264 455h5v5.5h-5zM274 455h20v5.5h-20zM354 455h10v5.5h-10zM164 460h10v5.5h-10zM214 460h10v5.5h-10zM269 460h10v5.5h-10zM304 460h50v5.5h-50zM159 465h5v5.5h-5zM199 465h15v5.5h-15zM274 465h5v5.5h-5zM154 470h5v5.5h-5zM199 470h5v5.5h-5zM274 470h5v5.5h-5zM149 475h5v5.5h-5zM194 475h5v5.5h-5zM274 475h5v5.5h-5zM144 480h5v5.5h-5zM189 480h5v5.5h-5zM274 480h5v5.5h-5zM139 485h5v5.5h-5zM189 485h5v5.5h-5zM279 485h5v5.5h-5zM139 490h5v5.5h-5zM184 490h10v5.5h-10zM279 490h5v5.5h-5zM134 495h5v5.5h-5zM189 495h5v5.5h-5zM279 495h5v5.5h-5zM134 500h5v5.5h-5zM194 500h10v5.5h-10zM274 500h5v5.5h-5zM204 505h5v5.5h-5zM274 505h5v5.5h-5zM124 510h10v5.5h-10zM209 510h10v5.5h-10zM269 510h5v5.5h-5zM124 515h10v5.5h-10zM214 515h10v5.5h-10zM264 515h10v5.5h-10zM124 520h5v5.5h-5zM214 520h10v5.5h-10zM249 520h15v5.5h-15zM219 525h35v5.5h-35zM229 530h10v5.5h-10z"/><path fill="#ff6800" d="M574 180h20v5.5h-20zM574 185h25v5.5h-25zM574 190h25v5.5h-25zM569 195h30v5.5h-30zM569 200h30v5.5h-30zM569 205h30v5.5h-30zM564 210h40v5.5h-40zM554 215h50v5.5h-50zM539 220h70v5.5h-70zM679 220h10v5.5h-10zM534 225h5v5.5h-5zM549 225h65v5.5h-65zM619 225h20v5.5h-20zM664 225h25v5.5h-25zM524 230h5v5.5h-5zM559 230h95v5.5h-95zM674 230h15v5.5h-15zM444 235h5v5.5h-5zM519 235h5v5.5h-5zM679 235h10v5.5h-10zM444 240h5v5.5h-5zM464 240h5v5.5h-5zM514 240h5v5.5h-5zM679 240h10v5.5h-10zM444 245h5v5.5h-5zM464 245h5v5.5h-5zM514 245h5v5.5h-5zM439 250h5v5.5h-5zM474 250h5v5.5h-5zM479 255h5v5.5h-5zM509 255h5v5.5h-5zM484 260h30v5.5h-30zM489 265h20v5.5h-20zM494 270h15v5.5h-15zM404 275h5v5.5h-5zM379 285h5v5.5h-5zM339 310h5v5.5h-5zM334 325h5v5.5h-5zM459 365h25v5.5h-25zM334 370h5v5.5h-5zM449 370h10v5.5h-10zM469 370h15v5.5h-15zM339 375h5v5.5h-5zM444 375h10v5.5h-10zM469 375h20v5.5h-20zM509 375h5v5.5h-5zM344 380h5v5.5h-5zM439 380h10v5.5h-10zM474 380h15v5.5h-15zM504 380h10v5.5h-10zM349 385h5v5.5h-5zM434 385h10v5.5h-10zM469 385h20v5.5h-20zM499 385h20v5.5h-20zM239 390h5v5.5h-5zM349 390h10v5.5h-10zM369 390h10v5.5h-10zM429 390h15v5.5h-15zM469 390h50v5.5h-50zM239 395h10v5.5h-10zM359 395h30v5.5h-30zM429 395h90v5.5h-90zM234 400h15v5.5h-15zM359 400h30v5.5h-30zM444 400h70v5.5h-70zM229 405h20v5.5h-20zM359 405h30v5.5h-30zM454 405h40v5.5h-40zM504 405h10v5.5h-10zM219 410h30v5.5h-30zM364 410h25v5.5h-25zM454 410h40v5.5h-40zM504 410h5v5.5h-5zM214 415h40v5.5h-40zM364 415h25v5.5h-25zM454 415h50v5.5h-50zM204 420h50v5.5h-50zM364 420h25v5.5h-25zM454 420h50v5.5h-50zM199 425h15v5.5h-15zM224 425h30v5.5h-30zM369 425h15v5.5h-15zM454 425h45v5.5h-45zM194 430h10v5.5h-10zM229 430h20v5.5h-20zM369 430h15v5.5h-15zM459 430h10v5.5h-10zM479 430h15v5.5h-15zM189 435h15v5.5h-15zM229 435h25v5.5h-25zM374 435h10v5.5h-10zM459 435h5v5.5h-5zM479 435h10v5.5h-10zM189 440h10v5.5h-10zM229 440h15v5.5h-15zM254 440h5v5.5h-5zM374 440h5v5.5h-5zM459 440h5v5.5h-5zM479 440h5v5.5h-5zM189 445h10v5.5h-10zM224 445h15v5.5h-15zM259 445h5v5.5h-5zM369 445h5v5.5h-5zM459 445h20v5.5h-20zM184 450h15v5.5h-15zM219 450h15v5.5h-15zM264 450h5v5.5h-5zM369 450h5v5.5h-5zM464 450h5v5.5h-5zM179 455h50v5.5h-50zM269 455h5v5.5h-5zM364 455h5v5.5h-5zM174 460h40v5.5h-40zM279 460h25v5.5h-25zM354 460h10v5.5h-10zM164 465h35v5.5h-35zM279 465h10v5.5h-10zM319 465h40v5.5h-40zM159 470h40v5.5h-40zM279 470h5v5.5h-5zM324 470h30v5.5h-30zM154 475h40v5.5h-40zM279 475h5v5.5h-5zM329 475h15v5.5h-15zM149 480h40v5.5h-40zM279 480h5v5.5h-5zM329 480h15v5.5h-15zM144 485h45v5.5h-45zM329 485h10v5.5h-10zM144 490h10v5.5h-10zM169 490h15v5.5h-15zM324 490h15v5.5h-15zM114 495h10v5.5h-10zM139 495h10v5.5h-10zM169 495h20v5.5h-20zM324 495h10v5.5h-10zM114 500h10v5.5h-10zM139 500h10v5.5h-10zM164 500h30v5.5h-30zM279 500h5v5.5h-5zM324 500h10v5.5h-10zM114 505h10v5.5h-10zM134 505h70v5.5h-70zM279 505h5v5.5h-5zM114 510h10v5.5h-10zM134 510h35v5.5h-35zM174 510h35v5.5h-35zM274 510h5v5.5h-5zM334 510h5v5.5h-5zM114 515h10v5.5h-10zM134 515h30v5.5h-30zM199 515h15v5.5h-15zM329 515h10v5.5h-10zM114 520h10v5.5h-10zM129 520h30v5.5h-30zM199 520h15v5.5h-15zM264 520h5v5.5h-5zM324 520h15v5.5h-15zM114 525h45v5.5h-45zM209 525h10v5.5h-10zM254 525h10v5.5h-10zM324 525h15v5.5h-15zM114 530h40v5.5h-40zM214 530h15v5.5h-15zM239 530h15v5.5h-15zM324 530h15v5.5h-15zM114 535h35v5.5h-35zM229 535h5v5.5h-5zM324 535h15v5.5h-15zM114 540h35v5.5h-35zM319 540h20v5.5h-20zM114 545h35v5.5h-35zM319 545h20v5.5h-20zM114 550h35v5.5h-35zM319 550h20v5.5h-20zM114 555h35v5.5h-35zM114 560h35v5.5h-35zM114 565h35v5.5h-35zM114 570h35v5.5h-35z"/><path fill="#ff5800" d="M539 225h10v5.5h-10zM529 230h30v5.5h-30zM654 230h20v5.5h-20zM449 235h15v5.5h-15zM524 235h10v5.5h-10zM554 235h100v5.5h-100zM674 235h5v5.5h-5zM449 240h15v5.5h-15zM519 240h10v5.5h-10zM674 240h5v5.5h-5zM449 245h15v5.5h-15zM519 245h5v5.5h-5zM444 250h5v5.5h-5zM469 250h5v5.5h-5zM514 250h5v5.5h-5zM434 255h5v5.5h-5zM514 255h5v5.5h-5zM429 260h5v5.5h-5zM514 260h5v5.5h-5zM509 265h5v5.5h-5zM414 270h5v5.5h-5zM489 270h5v5.5h-5zM509 270h5v5.5h-5zM494 275h10v5.5h-10zM394 280h5v5.5h-5zM374 290h5v5.5h-5zM349 300h5v5.5h-5zM334 330h5v5.5h-5zM334 335h5v5.5h-5zM464 355h10v5.5h-10zM514 355h20v5.5h-20zM454 360h35v5.5h-35zM499 360h40v5.5h-40zM449 365h10v5.5h-10zM484 365h55v5.5h-55zM444 370h5v5.5h-5zM484 370h50v5.5h-50zM434 375h10v5.5h-10zM489 375h20v5.5h-20zM514 375h20v5.5h-20zM429 380h10v5.5h-10zM489 380h15v5.5h-15zM514 380h15v5.5h-15zM429 385h5v5.5h-5zM489 385h10v5.5h-10zM519 385h10v5.5h-10zM359 390h10v5.5h-10zM379 390h10v5.5h-10zM424 390h5v5.5h-5zM519 390h5v5.5h-5zM389 395h5v5.5h-5zM419 395h10v5.5h-10zM519 395h5v5.5h-5zM389 400h10v5.5h-10zM419 400h25v5.5h-25zM514 400h5v5.5h-5zM389 405h10v5.5h-10zM419 405h35v5.5h-35zM389 410h10v5.5h-10zM424 410h5v5.5h-5zM444 410h10v5.5h-10zM509 410h5v5.5h-5zM389 415h15v5.5h-15zM444 415h10v5.5h-10zM504 415h5v5.5h-5zM389 420h15v5.5h-15zM449 420h5v5.5h-5zM214 425h10v5.5h-10zM384 425h20v5.5h-20zM449 425h5v5.5h-5zM499 425h5v5.5h-5zM204 430h25v5.5h-25zM384 430h15v5.5h-15zM454 430h5v5.5h-5zM494 430h5v5.5h-5zM204 435h25v5.5h-25zM384 435h10v5.5h-10zM454 435h5v5.5h-5zM489 435h5v5.5h-5zM199 440h15v5.5h-15zM219 440h10v5.5h-10zM379 440h10v5.5h-10zM454 440h5v5.5h-5zM484 440h5v5.5h-5zM199 445h25v5.5h-25zM374 445h10v5.5h-10zM479 445h5v5.5h-5zM199 450h20v5.5h-20zM374 450h5v5.5h-5zM459 450h5v5.5h-5zM469 450h10v5.5h-10zM369 455h10v5.5h-10zM364 460h10v5.5h-10zM289 465h5v5.5h-5zM309 465h10v5.5h-10zM359 465h10v5.5h-10zM284 470h5v5.5h-5zM319 470h5v5.5h-5zM354 470h10v5.5h-10zM284 475h5v5.5h-5zM324 475h5v5.5h-5zM344 475h15v5.5h-15zM284 480h5v5.5h-5zM324 480h5v5.5h-5zM344 480h10v5.5h-10zM284 485h5v5.5h-5zM324 485h5v5.5h-5zM339 485h15v5.5h-15zM154 490h15v5.5h-15zM284 490h5v5.5h-5zM339 490h10v5.5h-10zM149 495h20v5.5h-20zM284 495h5v5.5h-5zM334 495h15v5.5h-15zM149 500h15v5.5h-15zM334 500h10v5.5h-10zM324 505h20v5.5h-20zM169 510h5v5.5h-5zM324 510h10v5.5h-10zM339 510h5v5.5h-5zM164 515h5v5.5h-5zM179 515h20v5.5h-20zM274 515h5v5.5h-5zM324 515h5v5.5h-5zM339 515h10v5.5h-10zM159 520h5v5.5h-5zM194 520h5v5.5h-5zM269 520h5v5.5h-5zM319 520h5v5.5h-5zM339 520h10v5.5h-10zM159 525h5v5.5h-5zM204 525h5v5.5h-5zM264 525h5v5.5h-5zM319 525h5v5.5h-5zM339 525h10v5.5h-10zM154 530h5v5.5h-5zM209 530h5v5.5h-5zM254 530h5v5.5h-5zM319 530h5v5.5h-5zM339 530h10v5.5h-10zM149 535h10v5.5h-10zM219 535h10v5.5h-10zM234 535h15v5.5h-15zM319 535h5v5.5h-5zM339 535h10v5.5h-10zM149 540h5v5.5h-5zM339 540h5v5.5h-5zM149 545h10v5.5h-10zM339 545h5v5.5h-5zM149 550h10v5.5h-10zM314 550h5v5.5h-5zM339 550h5v5.5h-5zM149 555h10v5.5h-10zM149 560h15v5.5h-15zM149 565h20v5.5h-20zM319 565h30v5.5h-30zM149 570h20v5.5h-20zM319 570h30v5.5h-30z"/><path fill="#ff4800" d="M534 235h20v5.5h-20zM654 235h20v5.5h-20zM529 240h10v5.5h-10zM594 240h15v5.5h-15zM619 240h30v5.5h-30zM524 245h5v5.5h-5zM449 250h10v5.5h-10zM464 250h5v5.5h-5zM519 250h5v5.5h-5zM479 260h5v5.5h-5zM424 265h5v5.5h-5zM484 265h5v5.5h-5zM514 265h5v5.5h-5zM504 275h10v5.5h-10zM499 280h5v5.5h-5zM364 295h5v5.5h-5zM344 305h5v5.5h-5zM339 315h5v5.5h-5zM334 340h5v5.5h-5zM334 345h5v5.5h-5zM494 345h30v5.5h-30zM549 345h10v5.5h-10zM334 350h5v5.5h-5zM464 350h5v5.5h-5zM489 350h70v5.5h-70zM454 355h10v5.5h-10zM474 355h40v5.5h-40zM534 355h20v5.5h-20zM334 360h5v5.5h-5zM444 360h10v5.5h-10zM489 360h10v5.5h-10zM539 360h10v5.5h-10zM334 365h5v5.5h-5zM439 365h10v5.5h-10zM539 365h10v5.5h-10zM434 370h10v5.5h-10zM534 370h10v5.5h-10zM429 375h5v5.5h-5zM534 375h5v5.5h-5zM349 380h5v5.5h-5zM424 380h5v5.5h-5zM529 380h10v5.5h-10zM354 385h5v5.5h-5zM419 385h10v5.5h-10zM529 385h5v5.5h-5zM389 390h5v5.5h-5zM419 390h5v5.5h-5zM524 390h10v5.5h-10zM394 395h10v5.5h-10zM414 395h5v5.5h-5zM524 395h5v5.5h-5zM399 400h20v5.5h-20zM519 400h5v5.5h-5zM399 405h20v5.5h-20zM514 405h5v5.5h-5zM399 410h25v5.5h-25zM429 410h15v5.5h-15zM514 410h5v5.5h-5zM404 415h40v5.5h-40zM509 415h5v5.5h-5zM404 420h20v5.5h-20zM444 420h5v5.5h-5zM504 420h5v5.5h-5zM404 425h15v5.5h-15zM399 430h15v5.5h-15zM449 430h5v5.5h-5zM394 435h10v5.5h-10zM494 435h5v5.5h-5zM214 440h5v5.5h-5zM389 440h10v5.5h-10zM384 445h5v5.5h-5zM454 445h5v5.5h-5zM379 450h10v5.5h-10zM454 450h5v5.5h-5zM379 455h5v5.5h-5zM459 455h15v5.5h-15zM374 460h10v5.5h-10zM294 465h15v5.5h-15zM369 465h10v5.5h-10zM289 470h5v5.5h-5zM314 470h5v5.5h-5zM364 470h10v5.5h-10zM319 475h5v5.5h-5zM359 475h10v5.5h-10zM354 480h10v5.5h-10zM354 485h5v5.5h-5zM319 490h5v5.5h-5zM349 490h10v5.5h-10zM319 495h5v5.5h-5zM349 495h5v5.5h-5zM284 500h5v5.5h-5zM319 500h5v5.5h-5zM344 500h5v5.5h-5zM319 505h5v5.5h-5zM344 505h5v5.5h-5zM279 510h5v5.5h-5zM319 510h5v5.5h-5zM344 510h10v5.5h-10zM169 515h10v5.5h-10zM319 515h5v5.5h-5zM349 515h5v5.5h-5zM164 520h5v5.5h-5zM179 520h15v5.5h-15zM349 520h5v5.5h-5zM164 525h5v5.5h-5zM194 525h10v5.5h-10zM314 525h5v5.5h-5zM349 525h5v5.5h-5zM159 530h5v5.5h-5zM204 530h5v5.5h-5zM259 530h5v5.5h-5zM314 530h5v5.5h-5zM349 530h5v5.5h-5zM214 535h5v5.5h-5zM249 535h5v5.5h-5zM314 535h5v5.5h-5zM154 540h5v5.5h-5zM229 540h10v5.5h-10zM314 540h5v5.5h-5zM344 540h5v5.5h-5zM159 545h5v5.5h-5zM314 545h5v5.5h-5zM344 545h5v5.5h-5zM159 550h5v5.5h-5zM309 550h5v5.5h-5zM344 550h5v5.5h-5zM159 555h5v5.5h-5zM314 555h30v5.5h-30zM164 560h5v5.5h-5zM314 565h5v5.5h-5zM314 570h5v5.5h-5z"/><path fill="#ff3800" d="M539 240h35v5.5h-35zM584 240h10v5.5h-10zM609 240h10v5.5h-10zM649 240h25v5.5h-25zM529 245h10v5.5h-10zM619 245h35v5.5h-35zM459 250h5v5.5h-5zM524 250h5v5.5h-5zM439 255h5v5.5h-5zM474 255h5v5.5h-5zM519 255h5v5.5h-5zM434 260h5v5.5h-5zM519 260h5v5.5h-5zM519 265h5v5.5h-5zM514 270h5v5.5h-5zM409 275h5v5.5h-5zM489 275h5v5.5h-5zM514 275h5v5.5h-5zM494 280h5v5.5h-5zM504 280h5v5.5h-5zM384 285h5v5.5h-5zM499 285h5v5.5h-5zM369 295h5v5.5h-5zM354 300h10v5.5h-10zM494 325h5v5.5h-5zM494 330h10v5.5h-10zM489 335h20v5.5h-20zM479 340h50v5.5h-50zM549 340h20v5.5h-20zM459 345h35v5.5h-35zM524 345h25v5.5h-25zM559 345h10v5.5h-10zM449 350h15v5.5h-15zM469 350h20v5.5h-20zM559 350h5v5.5h-5zM334 355h5v5.5h-5zM444 355h10v5.5h-10zM554 355h10v5.5h-10zM434 360h10v5.5h-10zM549 360h10v5.5h-10zM434 365h5v5.5h-5zM549 365h5v5.5h-5zM339 370h5v5.5h-5zM429 370h5v5.5h-5zM544 370h10v5.5h-10zM344 375h5v5.5h-5zM424 375h5v5.5h-5zM539 375h10v5.5h-10zM419 380h5v5.5h-5zM539 380h5v5.5h-5zM359 385h5v5.5h-5zM374 385h15v5.5h-15zM414 385h5v5.5h-5zM534 385h10v5.5h-10zM394 390h10v5.5h-10zM409 390h10v5.5h-10zM534 390h5v5.5h-5zM404 395h10v5.5h-10zM529 395h5v5.5h-5zM524 400h5v5.5h-5zM519 405h5v5.5h-5zM514 415h5v5.5h-5zM424 420h20v5.5h-20zM509 420h5v5.5h-5zM419 425h10v5.5h-10zM444 425h5v5.5h-5zM504 425h5v5.5h-5zM414 430h10v5.5h-10zM444 430h5v5.5h-5zM499 430h5v5.5h-5zM404 435h10v5.5h-10zM449 435h5v5.5h-5zM399 440h10v5.5h-10zM449 440h5v5.5h-5zM489 440h5v5.5h-5zM389 445h10v5.5h-10zM484 445h5v5.5h-5zM389 450h5v5.5h-5zM479 450h5v5.5h-5zM384 455h10v5.5h-10zM454 455h5v5.5h-5zM474 455h5v5.5h-5zM384 460h5v5.5h-5zM459 460h10v5.5h-10zM379 465h10v5.5h-10zM294 470h5v5.5h-5zM309 470h5v5.5h-5zM374 470h10v5.5h-10zM289 475h5v5.5h-5zM369 475h10v5.5h-10zM289 480h5v5.5h-5zM319 480h5v5.5h-5zM364 480h10v5.5h-10zM289 485h5v5.5h-5zM319 485h5v5.5h-5zM359 485h10v5.5h-10zM289 490h5v5.5h-5zM359 490h5v5.5h-5zM354 495h5v5.5h-5zM349 500h10v5.5h-10zM284 505h5v5.5h-5zM349 505h10v5.5h-10zM354 510h5v5.5h-5zM314 515h5v5.5h-5zM354 515h5v5.5h-5zM169 520h10v5.5h-10zM274 520h5v5.5h-5zM314 520h5v5.5h-5zM354 520h5v5.5h-5zM169 525h5v5.5h-5zM184 525h10v5.5h-10zM269 525h5v5.5h-5zM354 525h5v5.5h-5zM164 530h5v5.5h-5zM199 530h5v5.5h-5zM159 535h5v5.5h-5zM209 535h5v5.5h-5zM254 535h5v5.5h-5zM309 535h5v5.5h-5zM349 535h5v5.5h-5zM159 540h5v5.5h-5zM219 540h10v5.5h-10zM239 540h10v5.5h-10zM309 540h5v5.5h-5zM349 540h5v5.5h-5zM304 545h10v5.5h-10zM349 545h5v5.5h-5zM164 550h5v5.5h-5zM304 550h5v5.5h-5zM349 550h5v5.5h-5zM164 555h5v5.5h-5zM299 555h15v5.5h-15zM344 555h5v5.5h-5zM169 560h5v5.5h-5zM319 560h5v5.5h-5zM169 565h5v5.5h-5zM289 565h25v5.5h-25zM289 570h25v5.5h-25z"/><path fill="#ff2800" d="M574 240h10v5.5h-10zM539 245h5v5.5h-5zM594 245h25v5.5h-25zM654 245h25v5.5h-25zM529 250h10v5.5h-10zM619 250h40v5.5h-40zM669 250h5v5.5h-5zM444 255h5v5.5h-5zM524 255h5v5.5h-5zM524 260h5v5.5h-5zM429 265h5v5.5h-5zM419 270h5v5.5h-5zM484 270h5v5.5h-5zM519 270h5v5.5h-5zM399 280h5v5.5h-5zM509 280h10v5.5h-10zM494 285h5v5.5h-5zM504 285h5v5.5h-5zM379 290h5v5.5h-5zM489 290h15v5.5h-15zM374 295h5v5.5h-5zM479 295h20v5.5h-20zM364 300h5v5.5h-5zM479 300h15v5.5h-15zM479 305h15v5.5h-15zM479 310h20v5.5h-20zM484 315h20v5.5h-20zM339 320h5v5.5h-5zM484 320h25v5.5h-25zM484 325h10v5.5h-10zM499 325h10v5.5h-10zM484 330h10v5.5h-10zM504 330h15v5.5h-15zM469 335h20v5.5h-20zM509 335h25v5.5h-25zM549 335h25v5.5h-25zM454 340h25v5.5h-25zM529 340h20v5.5h-20zM569 340h5v5.5h-5zM449 345h10v5.5h-10zM569 345h5v5.5h-5zM439 350h10v5.5h-10zM564 350h10v5.5h-10zM434 355h10v5.5h-10zM564 355h10v5.5h-10zM429 360h5v5.5h-5zM559 360h10v5.5h-10zM424 365h10v5.5h-10zM554 365h10v5.5h-10zM419 370h10v5.5h-10zM554 370h5v5.5h-5zM414 375h10v5.5h-10zM549 375h10v5.5h-10zM354 380h5v5.5h-5zM409 380h10v5.5h-10zM544 380h10v5.5h-10zM364 385h10v5.5h-10zM389 385h25v5.5h-25zM544 385h5v5.5h-5zM404 390h5v5.5h-5zM539 390h10v5.5h-10zM534 395h5v5.5h-5zM529 400h5v5.5h-5zM524 405h5v5.5h-5zM519 410h5v5.5h-5zM514 420h5v5.5h-5zM429 425h15v5.5h-15zM509 425h5v5.5h-5zM424 430h10v5.5h-10zM439 430h5v5.5h-5zM504 430h5v5.5h-5zM414 435h10v5.5h-10zM444 435h5v5.5h-5zM499 435h5v5.5h-5zM409 440h10v5.5h-10zM494 440h5v5.5h-5zM399 445h10v5.5h-10zM449 445h5v5.5h-5zM489 445h5v5.5h-5zM394 450h10v5.5h-10zM449 450h5v5.5h-5zM484 450h5v5.5h-5zM394 455h5v5.5h-5zM449 455h5v5.5h-5zM479 455h5v5.5h-5zM389 460h10v5.5h-10zM454 460h5v5.5h-5zM469 460h5v5.5h-5zM389 465h5v5.5h-5zM459 465h5v5.5h-5zM299 470h10v5.5h-10zM384 470h10v5.5h-10zM294 475h5v5.5h-5zM314 475h5v5.5h-5zM379 475h10v5.5h-10zM374 480h10v5.5h-10zM369 485h10v5.5h-10zM364 490h10v5.5h-10zM289 495h5v5.5h-5zM359 495h10v5.5h-10zM314 500h5v5.5h-5zM359 500h5v5.5h-5zM314 505h5v5.5h-5zM359 505h5v5.5h-5zM314 510h5v5.5h-5zM359 510h5v5.5h-5zM279 515h5v5.5h-5zM359 515h5v5.5h-5zM309 520h5v5.5h-5zM359 520h5v5.5h-5zM174 525h10v5.5h-10zM309 525h5v5.5h-5zM169 530h5v5.5h-5zM194 530h5v5.5h-5zM264 530h5v5.5h-5zM309 530h5v5.5h-5zM354 530h5v5.5h-5zM164 535h5v5.5h-5zM204 535h5v5.5h-5zM354 535h5v5.5h-5zM164 540h5v5.5h-5zM214 540h5v5.5h-5zM249 540h5v5.5h-5zM304 540h5v5.5h-5zM354 540h5v5.5h-5zM164 545h5v5.5h-5zM224 545h20v5.5h-20zM299 545h5v5.5h-5zM354 545h5v5.5h-5zM169 550h5v5.5h-5zM294 550h10v5.5h-10zM354 550h5v5.5h-5zM169 555h5v5.5h-5zM279 555h20v5.5h-20zM349 555h10v5.5h-10zM289 560h30v5.5h-30zM324 560h25v5.5h-25zM349 565h5v5.5h-5zM169 570h5v5.5h-5zM284 570h5v5.5h-5zM349 570h5v5.5h-5z"/><path fill="#ff1800" d="M544 245h30v5.5h-30zM584 245h10v5.5h-10zM679 245h10v5.5h-10zM539 250h5v5.5h-5zM604 250h15v5.5h-15zM659 250h10v5.5h-10zM449 255h10v5.5h-10zM469 255h5v5.5h-5zM529 255h10v5.5h-10zM619 255h55v5.5h-55zM439 260h5v5.5h-5zM529 260h5v5.5h-5zM634 260h15v5.5h-15zM479 265h5v5.5h-5zM524 265h5v5.5h-5zM524 270h5v5.5h-5zM519 275h5v5.5h-5zM489 280h5v5.5h-5zM519 280h5v5.5h-5zM389 285h5v5.5h-5zM484 285h10v5.5h-10zM509 285h10v5.5h-10zM474 290h15v5.5h-15zM504 290h10v5.5h-10zM469 295h10v5.5h-10zM499 295h10v5.5h-10zM469 300h10v5.5h-10zM494 300h10v5.5h-10zM349 305h5v5.5h-5zM359 305h5v5.5h-5zM469 305h10v5.5h-10zM494 305h15v5.5h-15zM344 310h5v5.5h-5zM474 310h5v5.5h-5zM499 310h10v5.5h-10zM479 315h5v5.5h-5zM504 315h10v5.5h-10zM479 320h5v5.5h-5zM509 320h10v5.5h-10zM339 325h5v5.5h-5zM474 325h10v5.5h-10zM509 325h20v5.5h-20zM454 330h30v5.5h-30zM519 330h15v5.5h-15zM449 335h20v5.5h-20zM534 335h15v5.5h-15zM574 335h10v5.5h-10zM444 340h10v5.5h-10zM574 340h10v5.5h-10zM434 345h15v5.5h-15zM574 345h10v5.5h-10zM429 350h10v5.5h-10zM574 350h10v5.5h-10zM424 355h10v5.5h-10zM574 355h5v5.5h-5zM424 360h5v5.5h-5zM569 360h10v5.5h-10zM419 365h5v5.5h-5zM564 365h10v5.5h-10zM414 370h5v5.5h-5zM559 370h10v5.5h-10zM349 375h5v5.5h-5zM404 375h10v5.5h-10zM559 375h10v5.5h-10zM384 380h25v5.5h-25zM554 380h10v5.5h-10zM549 385h10v5.5h-10zM549 390h5v5.5h-5zM539 395h10v5.5h-10zM534 400h10v5.5h-10zM529 405h5v5.5h-5zM524 410h5v5.5h-5zM519 415h5v5.5h-5zM434 430h5v5.5h-5zM509 430h5v5.5h-5zM424 435h20v5.5h-20zM504 435h5v5.5h-5zM419 440h10v5.5h-10zM444 440h5v5.5h-5zM499 440h5v5.5h-5zM409 445h15v5.5h-15zM444 445h5v5.5h-5zM494 445h5v5.5h-5zM404 450h10v5.5h-10zM489 450h5v5.5h-5zM399 455h5v5.5h-5zM484 455h5v5.5h-5zM399 460h5v5.5h-5zM449 460h5v5.5h-5zM474 460h5v5.5h-5zM394 465h10v5.5h-10zM454 465h5v5.5h-5zM464 465h10v5.5h-10zM394 470h5v5.5h-5zM299 475h5v5.5h-5zM309 475h5v5.5h-5zM389 475h10v5.5h-10zM589 475h30v5.5h-30zM294 480h5v5.5h-5zM314 480h5v5.5h-5zM384 480h10v5.5h-10zM584 480h40v5.5h-40zM294 485h5v5.5h-5zM314 485h5v5.5h-5zM379 485h10v5.5h-10zM314 490h5v5.5h-5zM374 490h5v5.5h-5zM314 495h5v5.5h-5zM369 495h5v5.5h-5zM289 500h5v5.5h-5zM364 500h10v5.5h-10zM364 505h5v5.5h-5zM284 510h5v5.5h-5zM364 510h5v5.5h-5zM309 515h5v5.5h-5zM364 515h5v5.5h-5zM274 525h5v5.5h-5zM304 525h5v5.5h-5zM359 525h5v5.5h-5zM424 525h15v5.5h-15zM174 530h20v5.5h-20zM269 530h5v5.5h-5zM304 530h5v5.5h-5zM359 530h5v5.5h-5zM419 530h25v5.5h-25zM169 535h5v5.5h-5zM199 535h5v5.5h-5zM259 535h5v5.5h-5zM299 535h10v5.5h-10zM359 535h5v5.5h-5zM424 535h25v5.5h-25zM169 540h5v5.5h-5zM209 540h5v5.5h-5zM254 540h5v5.5h-5zM299 540h5v5.5h-5zM359 540h5v5.5h-5zM169 545h5v5.5h-5zM219 545h5v5.5h-5zM244 545h5v5.5h-5zM289 545h10v5.5h-10zM359 545h5v5.5h-5zM599 545h15v5.5h-15zM279 550h15v5.5h-15zM359 550h5v5.5h-5zM599 550h15v5.5h-15zM174 555h5v5.5h-5zM264 555h15v5.5h-15zM359 555h5v5.5h-5zM174 560h5v5.5h-5zM269 560h20v5.5h-20zM349 560h5v5.5h-5zM284 565h5v5.5h-5zM599 565h30v5.5h-30zM434 570h45v5.5h-45zM599 570h30v5.5h-30z"/><path fill="#ff0800" d="M574 245h10v5.5h-10zM544 250h60v5.5h-60zM674 250h15v5.5h-15zM459 255h10v5.5h-10zM539 255h80v5.5h-80zM674 255h15v5.5h-15zM444 260h35v5.5h-35zM534 260h100v5.5h-100zM649 260h40v5.5h-40zM434 265h5v5.5h-5zM449 265h30v5.5h-30zM529 265h20v5.5h-20zM594 265h95v5.5h-95zM424 270h5v5.5h-5zM464 270h20v5.5h-20zM529 270h15v5.5h-15zM599 270h90v5.5h-90zM414 275h5v5.5h-5zM464 275h25v5.5h-25zM524 275h15v5.5h-15zM599 275h90v5.5h-90zM459 280h30v5.5h-30zM524 280h15v5.5h-15zM594 280h95v5.5h-95zM459 285h25v5.5h-25zM519 285h15v5.5h-15zM594 285h95v5.5h-95zM459 290h15v5.5h-15zM514 290h15v5.5h-15zM594 290h95v5.5h-95zM379 295h5v5.5h-5zM459 295h10v5.5h-10zM509 295h20v5.5h-20zM589 295h100v5.5h-100zM459 300h10v5.5h-10zM504 300h20v5.5h-20zM589 300h100v5.5h-100zM354 305h5v5.5h-5zM364 305h5v5.5h-5zM459 305h10v5.5h-10zM509 305h15v5.5h-15zM594 305h95v5.5h-95zM464 310h10v5.5h-10zM509 310h15v5.5h-15zM594 310h95v5.5h-95zM344 315h5v5.5h-5zM464 315h15v5.5h-15zM514 315h15v5.5h-15zM594 315h95v5.5h-95zM454 320h25v5.5h-25zM519 320h15v5.5h-15zM594 320h95v5.5h-95zM444 325h30v5.5h-30zM529 325h15v5.5h-15zM574 325h115v5.5h-115zM339 330h5v5.5h-5zM434 330h20v5.5h-20zM534 330h155v5.5h-155zM339 335h5v5.5h-5zM429 335h20v5.5h-20zM584 335h105v5.5h-105zM429 340h15v5.5h-15zM584 340h105v5.5h-105zM424 345h10v5.5h-10zM584 345h105v5.5h-105zM424 350h5v5.5h-5zM584 350h105v5.5h-105zM419 355h5v5.5h-5zM579 355h110v5.5h-110zM339 360h5v5.5h-5zM419 360h5v5.5h-5zM579 360h110v5.5h-110zM339 365h5v5.5h-5zM409 365h10v5.5h-10zM574 365h115v5.5h-115zM344 370h5v5.5h-5zM399 370h15v5.5h-15zM569 370h120v5.5h-120zM389 375h15v5.5h-15zM569 375h120v5.5h-120zM359 380h5v5.5h-5zM379 380h5v5.5h-5zM564 380h125v5.5h-125zM559 385h130v5.5h-130zM554 390h135v5.5h-135zM549 395h140v5.5h-140zM544 400h145v5.5h-145zM534 405h155v5.5h-155zM529 410h160v5.5h-160zM524 415h165v5.5h-165zM519 420h170v5.5h-170zM514 425h175v5.5h-175zM514 430h175v5.5h-175zM509 435h10v5.5h-10zM534 435h155v5.5h-155zM429 440h15v5.5h-15zM504 440h5v5.5h-5zM544 440h145v5.5h-145zM424 445h20v5.5h-20zM499 445h5v5.5h-5zM549 445h140v5.5h-140zM414 450h35v5.5h-35zM494 450h5v5.5h-5zM569 450h120v5.5h-120zM404 455h15v5.5h-15zM439 455h10v5.5h-10zM489 455h5v5.5h-5zM564 455h125v5.5h-125zM404 460h10v5.5h-10zM444 460h5v5.5h-5zM479 460h10v5.5h-10zM564 460h125v5.5h-125zM404 465h5v5.5h-5zM449 465h5v5.5h-5zM474 465h5v5.5h-5zM559 465h130v5.5h-130zM399 470h10v5.5h-10zM454 470h20v5.5h-20zM559 470h130v5.5h-130zM304 475h5v5.5h-5zM399 475h5v5.5h-5zM454 475h15v5.5h-15zM559 475h30v5.5h-30zM619 475h70v5.5h-70zM299 480h15v5.5h-15zM394 480h10v5.5h-10zM459 480h5v5.5h-5zM559 480h25v5.5h-25zM624 480h65v5.5h-65zM299 485h5v5.5h-5zM309 485h5v5.5h-5zM389 485h10v5.5h-10zM559 485h130v5.5h-130zM294 490h5v5.5h-5zM309 490h5v5.5h-5zM379 490h15v5.5h-15zM559 490h130v5.5h-130zM294 495h5v5.5h-5zM374 495h20v5.5h-20zM459 495h5v5.5h-5zM559 495h130v5.5h-130zM309 500h5v5.5h-5zM374 500h20v5.5h-20zM454 500h10v5.5h-10zM554 500h135v5.5h-135zM289 505h5v5.5h-5zM309 505h5v5.5h-5zM369 505h20v5.5h-20zM439 505h25v5.5h-25zM549 505h140v5.5h-140zM289 510h5v5.5h-5zM304 510h10v5.5h-10zM369 510h20v5.5h-20zM419 510h50v5.5h-50zM549 510h140v5.5h-140zM284 515h5v5.5h-5zM304 515h5v5.5h-5zM369 515h105v5.5h-105zM544 515h145v5.5h-145zM279 520h5v5.5h-5zM304 520h5v5.5h-5zM364 520h115v5.5h-115zM539 520h150v5.5h-150zM279 525h5v5.5h-5zM364 525h60v5.5h-60zM439 525h50v5.5h-50zM534 525h155v5.5h-155zM274 530h5v5.5h-5zM299 530h5v5.5h-5zM364 530h55v5.5h-55zM444 530h80v5.5h-80zM529 530h160v5.5h-160zM174 535h25v5.5h-25zM264 535h15v5.5h-15zM294 535h5v5.5h-5zM364 535h60v5.5h-60zM449 535h240v5.5h-240zM174 540h5v5.5h-5zM204 540h5v5.5h-5zM259 540h40v5.5h-40zM364 540h325v5.5h-325zM174 545h5v5.5h-5zM214 545h5v5.5h-5zM249 545h40v5.5h-40zM364 545h235v5.5h-235zM614 545h75v5.5h-75zM174 550h10v5.5h-10zM214 550h65v5.5h-65zM364 550h235v5.5h-235zM614 550h75v5.5h-75zM179 555h10v5.5h-10zM219 555h45v5.5h-45zM364 555h325v5.5h-325zM179 560h10v5.5h-10zM219 560h50v5.5h-50zM354 560h335v5.5h-335zM174 565h20v5.5h-20zM214 565h70v5.5h-70zM354 565h245v5.5h-245zM629 565h60v5.5h-60zM174 570h20v5.5h-20zM204 570h80v5.5h-80zM354 570h80v5.5h-80zM479 570h120v5.5h-120zM629 570h60v5.5h-60z"/><path fill="#f70000" d="M439 265h10v5.5h-10zM549 265h45v5.5h-45zM429 270h5v5.5h-5zM439 270h25v5.5h-25zM544 270h55v5.5h-55zM419 275h5v5.5h-5zM444 275h20v5.5h-20zM539 275h60v5.5h-60zM404 280h5v5.5h-5zM449 280h10v5.5h-10zM539 280h55v5.5h-55zM394 285h5v5.5h-5zM449 285h10v5.5h-10zM534 285h20v5.5h-20zM559 285h35v5.5h-35zM384 290h5v5.5h-5zM449 290h10v5.5h-10zM529 290h25v5.5h-25zM564 290h30v5.5h-30zM449 295h10v5.5h-10zM529 295h25v5.5h-25zM569 295h20v5.5h-20zM369 300h10v5.5h-10zM449 300h10v5.5h-10zM524 300h30v5.5h-30zM574 300h15v5.5h-15zM454 305h5v5.5h-5zM524 305h25v5.5h-25zM569 305h25v5.5h-25zM349 310h20v5.5h-20zM454 310h10v5.5h-10zM524 310h25v5.5h-25zM569 310h25v5.5h-25zM449 315h15v5.5h-15zM529 315h65v5.5h-65zM344 320h5v5.5h-5zM444 320h10v5.5h-10zM534 320h60v5.5h-60zM429 325h15v5.5h-15zM544 325h30v5.5h-30zM429 330h5v5.5h-5zM424 335h5v5.5h-5zM339 340h5v5.5h-5zM424 340h5v5.5h-5zM339 345h5v5.5h-5zM339 350h5v5.5h-5zM419 350h5v5.5h-5zM339 355h5v5.5h-5zM414 360h5v5.5h-5zM404 365h5v5.5h-5zM394 370h5v5.5h-5zM354 375h5v5.5h-5zM384 375h5v5.5h-5zM364 380h15v5.5h-15zM519 435h15v5.5h-15zM509 440h35v5.5h-35zM504 445h45v5.5h-45zM499 450h70v5.5h-70zM419 455h20v5.5h-20zM494 455h70v5.5h-70zM414 460h30v5.5h-30zM489 460h75v5.5h-75zM409 465h10v5.5h-10zM429 465h20v5.5h-20zM479 465h80v5.5h-80zM409 470h10v5.5h-10zM439 470h15v5.5h-15zM474 470h40v5.5h-40zM524 470h35v5.5h-35zM404 475h10v5.5h-10zM444 475h10v5.5h-10zM469 475h40v5.5h-40zM529 475h30v5.5h-30zM404 480h10v5.5h-10zM444 480h15v5.5h-15zM464 480h45v5.5h-45zM529 480h30v5.5h-30zM304 485h5v5.5h-5zM399 485h15v5.5h-15zM444 485h60v5.5h-60zM529 485h30v5.5h-30zM299 490h10v5.5h-10zM394 490h15v5.5h-15zM439 490h65v5.5h-65zM519 490h40v5.5h-40zM299 495h15v5.5h-15zM394 495h15v5.5h-15zM434 495h25v5.5h-25zM464 495h35v5.5h-35zM509 495h50v5.5h-50zM294 500h15v5.5h-15zM394 500h20v5.5h-20zM429 500h25v5.5h-25zM464 500h90v5.5h-90zM294 505h15v5.5h-15zM389 505h50v5.5h-50zM464 505h85v5.5h-85zM294 510h10v5.5h-10zM389 510h30v5.5h-30zM469 510h80v5.5h-80zM289 515h15v5.5h-15zM474 515h70v5.5h-70zM284 520h20v5.5h-20zM479 520h60v5.5h-60zM284 525h20v5.5h-20zM489 525h45v5.5h-45zM279 530h20v5.5h-20zM524 530h5v5.5h-5zM279 535h15v5.5h-15zM179 540h25v5.5h-25zM179 545h10v5.5h-10zM204 545h10v5.5h-10zM184 550h10v5.5h-10zM204 550h10v5.5h-10zM189 555h30v5.5h-30zM189 560h30v5.5h-30zM194 565h20v5.5h-20zM194 570h10v5.5h-10z"/><path fill="#e70000" d="M434 270h5v5.5h-5zM424 275h10v5.5h-10zM439 275h5v5.5h-5zM409 280h10v5.5h-10zM444 280h5v5.5h-5zM444 285h5v5.5h-5zM554 285h5v5.5h-5zM389 290h5v5.5h-5zM444 290h5v5.5h-5zM554 290h10v5.5h-10zM384 295h5v5.5h-5zM444 295h5v5.5h-5zM554 295h15v5.5h-15zM379 300h5v5.5h-5zM444 300h5v5.5h-5zM554 300h20v5.5h-20zM369 305h10v5.5h-10zM444 305h10v5.5h-10zM549 305h20v5.5h-20zM369 310h5v5.5h-5zM444 310h10v5.5h-10zM549 310h20v5.5h-20zM349 315h5v5.5h-5zM439 315h10v5.5h-10zM429 320h15v5.5h-15zM344 325h5v5.5h-5zM424 325h5v5.5h-5zM424 330h5v5.5h-5zM419 335h5v5.5h-5zM419 340h5v5.5h-5zM419 345h5v5.5h-5zM414 355h5v5.5h-5zM409 360h5v5.5h-5zM344 365h5v5.5h-5zM399 365h5v5.5h-5zM349 370h5v5.5h-5zM389 370h5v5.5h-5zM419 465h10v5.5h-10zM419 470h20v5.5h-20zM514 470h10v5.5h-10zM414 475h10v5.5h-10zM434 475h10v5.5h-10zM509 475h20v5.5h-20zM414 480h10v5.5h-10zM434 480h10v5.5h-10zM509 480h20v5.5h-20zM414 485h10v5.5h-10zM434 485h10v5.5h-10zM504 485h25v5.5h-25zM409 490h15v5.5h-15zM429 490h10v5.5h-10zM504 490h15v5.5h-15zM409 495h25v5.5h-25zM499 495h10v5.5h-10zM414 500h15v5.5h-15zM189 545h15v5.5h-15zM194 550h10v5.5h-10z"/><path fill="#d70000" d="M434 275h5v5.5h-5zM419 280h15v5.5h-15zM439 280h5v5.5h-5zM399 285h5v5.5h-5zM439 285h5v5.5h-5zM394 290h5v5.5h-5zM439 290h5v5.5h-5zM439 295h5v5.5h-5zM439 300h5v5.5h-5zM439 305h5v5.5h-5zM374 310h5v5.5h-5zM439 310h5v5.5h-5zM354 315h5v5.5h-5zM364 315h5v5.5h-5zM429 315h10v5.5h-10zM349 320h5v5.5h-5zM424 320h5v5.5h-5zM344 330h5v5.5h-5zM419 330h5v5.5h-5zM344 335h5v5.5h-5zM344 340h5v5.5h-5zM414 345h5v5.5h-5zM414 350h5v5.5h-5zM409 355h5v5.5h-5zM344 360h5v5.5h-5zM404 360h5v5.5h-5zM394 365h5v5.5h-5zM359 375h5v5.5h-5zM379 375h5v5.5h-5zM424 475h10v5.5h-10zM424 480h10v5.5h-10zM424 485h10v5.5h-10zM424 490h5v5.5h-5z"/><path fill="#c70000" d="M434 280h5v5.5h-5zM404 285h35v5.5h-35zM434 290h5v5.5h-5zM389 295h5v5.5h-5zM429 295h10v5.5h-10zM384 300h5v5.5h-5zM429 300h10v5.5h-10zM379 305h5v5.5h-5zM429 305h10v5.5h-10zM429 310h10v5.5h-10zM359 315h5v5.5h-5zM369 315h5v5.5h-5zM424 315h5v5.5h-5zM354 320h5v5.5h-5zM419 320h5v5.5h-5zM349 325h5v5.5h-5zM419 325h5v5.5h-5zM349 330h5v5.5h-5zM414 335h5v5.5h-5zM414 340h5v5.5h-5zM344 345h5v5.5h-5zM344 350h5v5.5h-5zM409 350h5v5.5h-5zM344 355h5v5.5h-5zM404 355h5v5.5h-5zM399 360h5v5.5h-5zM349 365h5v5.5h-5zM354 370h5v5.5h-5zM384 370h5v5.5h-5zM364 375h15v5.5h-15z"/><path fill="#b70000" d="M399 290h35v5.5h-35zM394 295h5v5.5h-5zM424 295h5v5.5h-5zM389 300h5v5.5h-5zM424 300h5v5.5h-5zM384 305h5v5.5h-5zM424 305h5v5.5h-5zM379 310h5v5.5h-5zM419 310h10v5.5h-10zM374 315h5v5.5h-5zM419 315h5v5.5h-5zM359 320h10v5.5h-10zM354 325h5v5.5h-5zM414 325h5v5.5h-5zM414 330h5v5.5h-5zM349 335h5v5.5h-5zM349 340h5v5.5h-5zM409 345h5v5.5h-5zM404 350h5v5.5h-5zM399 355h5v5.5h-5zM394 360h5v5.5h-5zM389 365h5v5.5h-5zM379 370h5v5.5h-5z"/><path fill="#a70000" d="M399 295h25v5.5h-25zM394 300h5v5.5h-5zM404 300h20v5.5h-20zM409 305h15v5.5h-15zM409 310h10v5.5h-10zM379 315h5v5.5h-5zM409 315h10v5.5h-10zM369 320h10v5.5h-10zM414 320h5v5.5h-5zM359 325h5v5.5h-5zM354 330h5v5.5h-5zM354 335h5v5.5h-5zM409 335h5v5.5h-5zM409 340h5v5.5h-5zM349 345h5v5.5h-5zM404 345h5v5.5h-5zM349 350h5v5.5h-5zM399 350h5v5.5h-5zM349 355h5v5.5h-5zM394 355h5v5.5h-5zM349 360h5v5.5h-5zM354 365h5v5.5h-5zM384 365h5v5.5h-5zM359 370h10v5.5h-10zM374 370h5v5.5h-5z"/><path fill="#970000" d="M399 300h5v5.5h-5zM389 305h20v5.5h-20zM384 310h25v5.5h-25zM384 315h25v5.5h-25zM379 320h35v5.5h-35zM364 325h20v5.5h-20zM389 325h25v5.5h-25zM359 330h10v5.5h-10zM399 330h15v5.5h-15zM359 335h5v5.5h-5zM404 335h5v5.5h-5zM354 340h10v5.5h-10zM399 340h10v5.5h-10zM354 345h5v5.5h-5zM394 345h10v5.5h-10zM354 350h5v5.5h-5zM394 350h5v5.5h-5zM354 355h5v5.5h-5zM389 355h5v5.5h-5zM354 360h5v5.5h-5zM384 360h10v5.5h-10zM359 365h25v5.5h-25zM369 370h5v5.5h-5z"/><path fill="#870000" d="M384 325h5v5.5h-5zM369 330h30v5.5h-30zM364 335h40v5.5h-40zM364 340h35v5.5h-35zM359 345h35v5.5h-35zM359 350h35v5.5h-35zM359 355h30v5.5h-30zM359 360h25v5.5h-25z"/></g>
<path fill="#fff" d="M124 55h235v5h-235zM124 60h220v5h-220zM124 65h210v5h-210zM124 70h205v5h-205zM124 75h200v5h-200zM124 80h190v5h-190zM124 85h185v5h-185zM124 90h175v5h-175zM124 95h170v5h-170zM124 100h165v5h-165zM124 105h180v5h-180zM124 110h180v5h-180zM124 115h180v5h-180zM124 120h180v5h-180zM124 125h180v5h-180zM124 130h180v5h-180zM124 135h180v5h-180zM124 140h180v5h-180zM124 145h180v5h-180zM124 150h175v5h-175zM124 155h175v5h-175zM124 160h175v5h-175zM124 165h170v5h-170zM124 170h170v5h-170zM124 175h170v5h-170zM124 180h165v5h-165zM124 185h165v5h-165zM124 190h165v5h-165zM124 195h165v5h-165zM124 200h160v5h-160zM124 205h160v5h-160zM124 210h160v5h-160zM124 215h155v5h-155zM124 220h145v5h-145zM124 225h95v5h-95zM124 230h85v5h-85zM124 235h80v5h-80zM124 240h75v5h-75zM124 245h70v5h-70zM124 250h65v5h-65zM124 255h65v5h-65zM124 260h60v5h-60zM124 265h55v5h-55zM124 270h55v5h-55zM124 275h50v5h-50zM124 280h45v5h-45zM124 285h40v5h-40zM124 290h35v5h-35zM124 295h30v5h-30zM124 300h30v5h-30zM124 305h25v5h-25zM124 310h20v5h-20zM124 315h20v5h-20zM124 320h20v5h-20zM124 325h25v5h-25zM124 330h30v5h-30zM124 335h25v5h-25zM124 340h25v5h-25zM124 345h25v5h-25zM124 350h25v5h-25zM124 355h25v5h-25zM124 360h25v5h-25zM124 365h25v5h-25zM124 370h25v5h-25zM124 375h25v5h-25zM124 380h20v5h-20zM124 385h20v5h-20zM124 390h15v5h-15zM124 395h15v5h-15zM124 400h15v5h-15zM124 405h10v5h-10zM124 410h10v5h-10zM124 415h15v5h-15zM124 420h15v5h-15zM124 425h15v5h-15zM124 430h15v5h-15zM124 435h15v5h-15zM124 440h15v5h-15zM124 445h15v5h-15zM124 450h10v5h-10zM124 455h5v5h-5z"/>
<path d="M283 78H296.5L299 89L291 96H283Z" fill="#1e96ff"/>
<path fill="none" stroke="#000" stroke-width="1" stroke-linejoin="round" shape-rendering="crispEdges" d="M432.4 90.0C432.0 89.3 431.7 86.1 430.0 85.6C428.3 85.1 425.0 86.4 422.0 87.0C419.0 87.6 415.7 88.7 412.0 89.0C408.3 89.3 403.3 88.8 400.0 89.0C396.7 89.2 394.5 90.5 392.0 90.5C389.5 90.5 387.3 89.3 385.0 89.0C382.7 88.7 380.3 88.5 378.0 88.5C375.7 88.5 374.0 88.6 371.0 89.0C368.0 89.4 362.8 89.7 360.0 91.0C357.2 92.3 356.7 95.5 354.0 97.0C351.3 98.5 347.2 99.0 344.0 100.0C340.8 101.0 337.5 101.3 335.0 103.0C332.5 104.7 330.7 106.8 329.0 110.0C327.3 113.2 326.0 118.0 325.0 122.0C324.0 126.0 323.0 130.7 323.0 134.0C323.0 137.3 323.7 138.9 325.0 142.0C326.3 145.1 329.0 149.4 331.0 152.6C333.0 155.8 335.3 158.4 337.0 161.0C338.7 163.6 339.8 165.3 341.0 168.0C342.2 170.7 343.1 173.9 344.0 177.0C344.9 180.1 345.5 182.8 346.6 186.6C347.7 190.4 349.1 196.4 350.5 200.0C351.9 203.6 353.4 206.0 355.0 208.0C356.6 210.0 358.7 212.3 360.0 212.0C361.3 211.7 362.7 209.3 363.0 206.0C363.3 202.7 362.7 197.0 362.0 192.0C361.3 187.0 360.2 181.3 359.0 176.0C357.8 170.7 356.3 164.3 355.0 160.0C353.7 155.7 352.2 153.7 351.0 150.0C349.8 146.3 348.3 141.3 348.0 138.0C347.7 134.7 348.3 132.3 349.0 130.0C349.7 127.7 350.5 124.0 352.0 124.0C353.5 124.0 356.0 127.8 358.0 130.0C360.0 132.2 361.3 135.0 364.0 137.0C366.7 139.0 370.7 141.0 374.0 142.0C377.3 143.0 380.7 143.7 384.0 143.0C387.3 142.3 391.0 139.3 394.0 138.0C397.0 136.7 399.0 135.4 402.0 135.0C405.0 134.6 409.2 135.5 412.0 135.6C414.8 135.7 417.7 136.5 419.0 135.6C420.3 134.7 419.5 132.9 420.0 130.0C420.5 127.1 420.7 122.3 422.0 118.0C423.3 113.7 426.3 108.7 428.0 104.0C429.7 99.3 431.7 92.3 432.4 90.0M230.0 229.5C231.5 230.0 236.0 231.2 239.0 232.5C242.0 233.8 245.0 235.2 248.0 237.0C251.0 238.8 254.5 241.4 257.0 243.0C259.5 244.6 260.5 246.1 263.0 246.7C265.5 247.3 268.5 247.2 272.0 246.7C275.5 246.2 280.5 245.1 284.0 243.7C287.5 242.3 290.0 240.4 293.0 238.5C296.0 236.6 299.0 234.5 302.0 232.5C305.0 230.5 308.5 229.0 311.0 226.5C313.5 224.0 315.5 220.2 317.0 217.5C318.5 214.8 319.6 213.2 320.0 210.0C320.4 206.8 319.1 201.3 319.4 198.0C319.7 194.7 320.4 193.0 322.0 190.0C323.6 187.0 327.2 182.5 329.0 180.0C330.8 177.5 331.3 175.0 332.5 175.0C333.7 175.0 335.1 177.8 336.4 180.0C337.6 182.2 338.8 185.5 340.0 188.5C341.2 191.5 342.4 194.8 343.7 198.0C345.0 201.2 346.6 204.8 348.0 208.0C349.4 211.2 350.3 214.0 352.0 217.0C353.7 220.0 355.7 224.7 358.0 226.0C360.3 227.3 363.8 226.3 366.0 225.0C368.2 223.7 370.0 220.5 371.0 218.0C372.0 215.5 372.0 213.0 372.0 210.0C372.0 207.0 371.7 204.3 371.0 200.0C370.3 195.7 369.0 189.7 368.0 184.0C367.0 178.3 366.0 171.7 365.0 166.0C364.0 160.3 362.2 153.0 362.0 150.0C361.8 147.0 362.3 147.7 364.0 148.0C365.7 148.3 368.7 150.8 372.0 152.0C375.3 153.2 380.0 155.7 384.0 155.0C388.0 154.3 392.0 149.7 396.0 148.0C400.0 146.3 404.0 145.3 408.0 145.0C412.0 144.7 416.2 145.0 420.0 146.0C423.8 147.0 427.5 150.7 431.0 151.0C434.5 151.3 439.0 149.8 441.0 148.0C443.0 146.2 442.7 143.0 443.0 140.0C443.3 137.0 443.2 133.7 443.0 130.0C442.8 126.3 441.2 121.7 442.0 118.0C442.8 114.3 445.7 110.4 448.0 108.0C450.3 105.6 452.3 104.7 456.0 103.6C459.7 102.5 465.5 102.7 470.0 101.6C474.5 100.5 480.1 98.9 483.0 97.0C485.9 95.1 487.1 92.2 487.6 90.0C488.1 87.8 487.8 86.3 486.0 84.0C484.2 81.7 479.3 78.5 477.0 76.0C474.7 73.5 472.4 71.0 472.0 69.0C471.6 67.0 474.2 66.2 474.4 64.0C474.6 61.8 473.2 57.3 473.0 56.0M426.0 56.0C425.3 57.8 424.3 64.2 422.0 67.0C419.7 69.8 415.7 71.0 412.0 73.0C408.3 75.0 402.3 77.5 400.0 79.0C397.7 80.5 400.7 81.6 398.0 82.0C395.3 82.4 388.3 81.8 384.0 81.6C379.7 81.4 376.3 80.9 372.0 81.0C367.7 81.1 362.3 81.3 358.0 82.0C353.7 82.7 349.5 83.7 346.0 85.0C342.5 86.3 340.0 88.3 337.0 90.0C334.0 91.7 330.8 92.7 328.0 95.0C325.2 97.3 322.5 100.2 320.0 104.0C317.5 107.8 315.2 113.7 313.0 118.0C310.8 122.3 308.5 126.7 307.0 130.0C305.5 133.3 304.7 134.7 304.0 138.0C303.3 141.3 302.7 146.8 303.0 150.0C303.3 153.2 305.3 155.2 306.0 157.0C306.7 158.8 307.5 159.5 307.0 161.0C306.5 162.5 304.3 164.5 303.0 166.0C301.7 167.5 300.0 169.7 299.0 170.0C298.0 170.3 297.3 168.3 297.0 168.0M328.0 78.0C329.3 78.7 333.3 82.8 336.0 82.0C338.7 81.2 341.0 75.0 344.0 73.0C347.0 71.0 350.7 70.7 354.0 70.0C357.3 69.3 361.2 69.3 364.0 69.0C366.8 68.7 370.7 68.5 371.0 68.0C371.3 67.5 368.2 66.5 366.0 66.0C363.8 65.5 360.2 65.6 358.0 65.0C355.8 64.4 355.0 62.4 353.0 62.4C351.0 62.4 348.2 64.1 346.0 65.0C343.8 65.9 341.0 67.5 340.0 68.0M257.0 226.5C258.0 227.2 261.4 229.6 263.0 231.0C264.6 232.4 264.9 233.2 266.7 234.7C268.5 236.2 271.6 238.8 274.0 240.0C276.4 241.2 278.3 242.5 281.0 242.0C283.7 241.5 287.0 239.1 290.0 237.0C293.0 234.9 296.5 231.5 299.0 229.5C301.5 227.5 303.0 227.0 305.0 225.0C307.0 223.0 309.6 219.7 311.0 217.5C312.4 215.3 312.8 214.9 313.5 212.0C314.2 209.1 314.7 204.5 315.0 200.0C315.3 195.5 315.3 189.2 315.5 185.0C315.7 180.8 316.2 177.8 316.0 175.0C315.8 172.2 315.5 169.4 314.5 168.0C313.5 166.6 311.8 166.0 310.0 166.5C308.2 167.0 305.7 169.2 304.0 171.0C302.3 172.8 301.5 175.2 300.0 177.5C298.5 179.8 296.2 183.6 295.0 184.5C293.8 185.4 293.3 183.2 293.0 183.0M290.0 187.0C290.7 187.4 292.8 189.3 294.0 189.5C295.2 189.7 296.2 189.2 297.0 188.0C297.8 186.8 296.8 183.1 299.0 182.0C301.2 180.9 308.1 180.7 310.0 181.5C311.9 182.3 310.8 185.1 310.5 187.0C310.2 188.9 308.8 191.0 308.0 193.0C307.2 195.0 307.5 196.8 306.0 199.0C304.5 201.2 301.1 204.1 299.0 206.0C296.9 207.9 294.6 209.0 293.5 210.5C292.4 212.0 293.6 213.8 292.5 215.0C291.4 216.2 288.9 217.2 287.0 218.0C285.1 218.8 282.0 219.7 281.0 220.0M268.0 223.6C269.0 223.9 272.0 225.9 274.0 225.6C276.0 225.3 279.0 222.6 280.0 222.0M283.0 218.0C283.9 218.2 286.8 219.8 288.5 219.0C290.2 218.2 292.2 214.0 293.0 213.0M225.5 230.0C226.2 231.2 228.0 234.8 230.0 237.0C232.0 239.2 234.5 241.2 237.5 243.0C240.5 244.8 244.8 246.2 248.0 247.5C251.2 248.8 254.0 250.4 257.0 251.0C260.0 251.6 262.5 251.3 266.0 251.0C269.5 250.7 274.0 250.1 278.0 249.0C282.0 247.9 286.8 245.9 290.0 244.5C293.2 243.1 295.2 242.4 297.5 240.7C299.8 238.9 301.9 236.1 304.0 234.0C306.1 231.9 307.7 230.3 310.0 228.0C312.3 225.7 316.0 223.0 318.0 220.0C320.0 217.0 320.8 213.3 322.0 210.0C323.2 206.7 323.7 202.0 325.0 200.0C326.3 198.0 328.2 197.0 330.0 198.0C331.8 199.0 334.3 202.7 336.0 206.0C337.7 209.3 338.3 214.3 340.0 218.0C341.7 221.7 344.2 224.8 346.0 228.0C347.8 231.2 349.0 235.3 351.0 237.0C353.0 238.7 355.8 238.2 358.0 238.0C360.2 237.8 360.7 236.8 364.0 236.0C367.3 235.2 374.3 234.3 378.0 233.0C381.7 231.7 384.2 230.2 386.0 228.0C387.8 225.8 389.2 223.3 389.0 220.0C388.8 216.7 386.7 212.0 385.0 208.0C383.3 204.0 380.7 200.7 379.0 196.0C377.3 191.3 375.8 184.7 375.0 180.0C374.2 175.3 373.2 171.0 374.0 168.0C374.8 165.0 377.0 164.0 380.0 162.0C383.0 160.0 388.0 157.8 392.0 156.0C396.0 154.2 400.3 151.3 404.0 151.0C407.7 150.7 411.7 152.7 414.0 154.0C416.3 155.3 418.3 157.0 418.0 159.0C417.7 161.0 414.7 164.0 412.0 166.0C409.3 168.0 403.0 169.8 402.0 171.0C401.0 172.2 403.0 172.8 406.0 173.0C409.0 173.2 415.0 172.5 420.0 172.0C425.0 171.5 431.3 171.3 436.0 170.0C440.7 168.7 444.7 166.3 448.0 164.0C451.3 161.7 454.2 159.0 456.0 156.0C457.8 153.0 458.5 148.7 459.0 146.0C459.5 143.3 458.8 142.7 459.0 140.0C459.2 137.3 459.2 132.5 460.0 130.0C460.8 127.5 462.0 126.2 464.0 125.0C466.0 123.8 469.2 123.4 472.0 123.0C474.8 122.6 478.3 122.7 481.0 122.4C483.7 122.1 485.5 120.6 488.0 121.0C490.5 121.4 494.3 123.7 496.0 125.0C497.7 126.3 498.1 127.5 498.4 129.0C498.7 130.5 497.2 132.5 498.0 134.0C498.8 135.5 501.5 136.3 503.0 138.0C504.5 139.7 505.5 142.0 507.0 144.0C508.5 146.0 510.2 148.3 512.0 150.0C513.8 151.7 516.0 153.8 518.0 154.0C520.0 154.2 522.5 152.7 524.0 151.0C525.5 149.3 526.0 146.8 527.0 144.0C528.0 141.2 528.5 137.0 530.0 134.0C531.5 131.0 533.7 128.0 536.0 126.0C538.3 124.0 541.3 122.8 544.0 122.0C546.7 121.2 548.7 121.5 552.0 121.0C555.3 120.5 560.0 120.5 564.0 119.0C568.0 117.5 572.3 114.5 576.0 112.0C579.7 109.5 582.7 106.8 586.0 104.0C589.3 101.2 592.7 98.0 596.0 95.0C599.3 92.0 603.0 89.2 606.0 86.0C609.0 82.8 611.7 78.3 614.0 76.0C616.3 73.7 617.7 72.8 620.0 72.0C622.3 71.2 625.7 70.7 628.0 71.0C630.3 71.3 631.7 72.8 634.0 74.0C636.3 75.2 639.3 77.2 642.0 78.0C644.7 78.8 648.0 79.7 650.0 79.0C652.0 78.3 653.0 76.0 654.0 74.0C655.0 72.0 654.3 69.2 656.0 67.0C657.7 64.8 661.0 62.2 664.0 61.0C667.0 59.8 672.3 60.2 674.0 60.0M221.0 231.0C221.8 232.5 224.5 237.2 226.0 240.0C227.5 242.8 227.8 245.4 230.0 247.5C232.2 249.6 235.5 251.4 239.0 252.7C242.5 253.9 247.0 254.6 251.0 255.0C255.0 255.4 259.0 255.2 263.0 255.0C267.0 254.8 271.0 254.4 275.0 253.5C279.0 252.6 283.2 251.1 287.0 249.7C290.8 248.3 293.7 246.1 297.5 245.0C301.3 243.9 306.0 243.8 310.0 243.0C314.0 242.2 319.3 242.8 321.6 240.0C323.9 237.2 322.9 230.3 324.0 226.0C325.1 221.7 326.7 216.5 328.0 214.0C329.3 211.5 330.7 210.7 332.0 211.0C333.3 211.3 334.7 213.2 336.0 216.0C337.3 218.8 339.0 224.7 340.0 228.0C341.0 231.3 341.0 233.0 342.0 236.0C343.0 239.0 344.7 243.3 346.0 246.0C347.3 248.7 348.3 251.2 350.0 252.0C351.7 252.8 353.0 252.0 356.0 251.0C359.0 250.0 363.7 247.0 368.0 246.0C372.3 245.0 377.3 245.3 382.0 245.0C386.7 244.7 392.0 245.2 396.0 244.0C400.0 242.8 403.8 240.3 406.0 238.0C408.2 235.7 409.0 232.3 409.0 230.0C409.0 227.7 407.8 226.0 406.0 224.0C404.2 222.0 400.2 220.0 398.0 218.0C395.8 216.0 392.7 214.0 393.0 212.0C393.3 210.0 397.8 208.0 400.0 206.0C402.2 204.0 404.5 202.3 406.0 200.0C407.5 197.7 409.0 194.3 409.0 192.0C409.0 189.7 405.5 187.8 406.0 186.0C406.5 184.2 409.0 182.2 412.0 181.0C415.0 179.8 420.3 179.3 424.0 179.0C427.7 178.7 431.3 178.3 434.0 179.0C436.7 179.7 438.3 181.3 440.0 183.0C441.7 184.7 442.0 188.2 444.0 189.0C446.0 189.8 449.0 189.2 452.0 188.0C455.0 186.8 459.0 184.0 462.0 182.0C465.0 180.0 468.0 178.7 470.0 176.0C472.0 173.3 473.0 170.0 474.0 166.0C475.0 162.0 475.3 155.7 476.0 152.0C476.7 148.3 476.9 146.4 478.0 144.0C479.1 141.6 481.2 137.6 482.4 137.6C483.6 137.6 484.1 142.3 485.0 144.0C485.9 145.7 486.8 146.3 488.0 148.0C489.2 149.7 489.3 152.5 492.0 154.0C494.7 155.5 500.0 156.2 504.0 157.0C508.0 157.8 512.3 158.3 516.0 159.0C519.7 159.7 522.7 161.2 526.0 161.0C529.3 160.8 533.0 159.2 536.0 158.0C539.0 156.8 542.0 155.7 544.0 154.0C546.0 152.3 547.8 150.7 548.0 148.0C548.2 145.3 545.5 140.7 545.0 138.0C544.5 135.3 543.8 133.5 545.0 132.0C546.2 130.5 548.8 129.8 552.0 129.0C555.2 128.2 560.0 128.3 564.0 127.0C568.0 125.7 572.0 123.5 576.0 121.0C580.0 118.5 584.0 115.2 588.0 112.0C592.0 108.8 596.3 105.2 600.0 102.0C603.7 98.8 607.0 96.0 610.0 93.0C613.0 90.0 615.7 86.2 618.0 84.0C620.3 81.8 621.3 80.1 624.0 79.6C626.7 79.1 630.7 80.1 634.0 81.0C637.3 81.9 640.7 84.0 644.0 85.0C647.3 86.0 651.0 86.7 654.0 87.0C657.0 87.3 659.7 87.8 662.0 87.0C664.3 86.2 666.0 84.0 668.0 82.0C670.0 80.0 673.0 76.2 674.0 75.0M210.5 235.5C211.8 235.6 216.1 235.2 218.0 236.0C219.9 236.8 220.6 237.8 221.7 240.0C222.8 242.2 223.7 246.2 224.7 249.0C225.7 251.8 226.1 254.8 227.7 256.5C229.3 258.2 231.6 259.0 234.5 259.5C237.4 260.0 241.2 259.8 245.0 259.5C248.8 259.2 253.5 258.4 257.0 258.0C260.5 257.6 263.5 257.4 266.0 257.0C268.5 256.6 269.5 256.6 272.0 255.7C274.5 254.8 278.2 252.3 281.0 251.5C283.8 250.7 286.0 251.3 288.5 251.0C291.0 250.7 293.5 249.5 296.0 249.7C298.5 249.9 301.5 251.1 303.5 252.0C305.5 252.9 306.2 254.7 308.0 255.0C309.8 255.3 312.0 254.8 314.0 254.0C316.0 253.2 317.3 251.7 320.0 250.0C322.7 248.3 328.0 244.0 330.0 244.0C332.0 244.0 332.0 247.3 332.0 250.0C332.0 252.7 331.0 256.3 330.0 260.0C329.0 263.7 326.9 267.0 326.0 272.0C325.1 277.0 323.7 286.0 324.5 290.0C325.3 294.0 328.8 295.5 331.0 296.0C333.2 296.5 335.2 295.7 338.0 293.0C340.8 290.3 344.2 284.2 347.5 280.0C350.8 275.8 353.9 270.7 357.5 267.5C361.1 264.3 366.2 261.0 369.0 261.0C371.8 261.0 373.4 265.6 374.0 267.5C374.6 269.4 371.1 271.2 372.5 272.5C373.9 273.8 378.3 275.2 382.5 275.0C386.7 274.8 393.3 272.7 397.5 271.0C401.7 269.3 405.1 268.2 407.5 265.0C409.9 261.8 409.9 255.5 412.0 252.0C414.1 248.5 418.0 247.0 420.0 244.0C422.0 241.0 422.7 237.3 424.0 234.0C425.3 230.7 426.8 227.3 428.0 224.0C429.2 220.7 431.3 216.5 431.0 214.0C430.7 211.5 426.8 210.6 426.0 209.0C425.2 207.4 424.7 204.9 426.0 204.4C427.3 203.9 431.0 205.1 434.0 206.0C437.0 206.9 440.3 208.8 444.0 210.0C447.7 211.2 453.0 212.5 456.0 213.0C459.0 213.5 459.8 213.0 462.0 213.0C464.2 213.0 466.0 213.3 469.0 213.0C472.0 212.7 476.5 211.3 480.0 211.0C483.5 210.7 485.8 211.2 490.0 211.0C494.2 210.8 500.4 210.8 505.0 210.0C509.6 209.2 515.2 207.8 517.5 206.0C519.8 204.2 520.2 201.0 519.0 199.0C517.8 197.0 514.0 195.5 510.0 194.0C506.0 192.5 500.0 191.3 495.0 190.0C490.0 188.7 483.8 187.2 480.0 186.0C476.2 184.8 472.3 184.7 472.0 183.0C471.7 181.3 476.0 178.8 478.0 176.0C480.0 173.2 482.2 169.0 484.0 166.0C485.8 163.0 488.0 158.0 489.0 158.0C490.0 158.0 489.2 163.3 490.0 166.0C490.8 168.7 492.8 172.1 494.0 174.0C495.2 175.9 495.7 177.8 497.5 177.5C499.3 177.2 502.2 174.4 505.0 172.5C507.8 170.6 511.3 167.1 514.0 166.0C516.7 164.9 518.7 166.0 521.0 166.0C523.3 166.0 524.8 166.7 528.0 166.0C531.2 165.3 536.3 163.3 540.0 162.0C543.7 160.7 547.3 160.3 550.0 158.0C552.7 155.7 555.2 151.0 556.0 148.0C556.8 145.0 555.0 142.3 555.0 140.0C555.0 137.7 555.2 135.3 556.0 134.0C556.8 132.7 557.3 133.2 560.0 132.0C562.7 130.8 568.0 129.0 572.0 127.0C576.0 125.0 580.0 122.5 584.0 120.0C588.0 117.5 592.0 114.8 596.0 112.0C600.0 109.2 604.0 106.2 608.0 103.0C612.0 99.8 616.7 95.3 620.0 93.0C623.3 90.7 625.0 89.7 628.0 89.0C631.0 88.3 634.3 88.5 638.0 89.0C641.7 89.5 646.7 90.5 650.0 92.0C653.3 93.5 656.0 95.0 658.0 98.0C660.0 101.0 661.0 105.3 662.0 110.0C663.0 114.7 663.0 121.3 664.0 126.0C665.0 130.7 666.5 134.2 668.0 138.0C669.5 141.8 671.8 146.7 673.0 149.0C674.2 151.3 674.7 151.5 675.0 152.0M126.0 471.0C127.5 470.2 132.5 468.2 135.0 466.0C137.5 463.8 139.3 461.0 141.0 457.5C142.7 454.0 143.7 449.6 145.0 445.0C146.3 440.4 148.2 435.0 149.0 430.0C149.8 425.0 149.4 418.3 150.0 415.0C150.6 411.7 150.4 412.9 152.5 410.0C154.6 407.1 159.6 401.7 162.5 397.5C165.4 393.3 167.8 388.8 170.0 385.0C172.2 381.2 174.3 378.8 176.0 375.0C177.7 371.2 179.5 366.2 180.0 362.5C180.5 358.8 180.2 354.4 179.0 352.5C177.8 350.6 174.7 349.9 172.5 351.0C170.3 352.1 167.4 355.8 166.0 359.0C164.6 362.2 164.2 366.5 164.0 370.0C163.8 373.5 166.0 377.3 165.0 380.0C164.0 382.7 159.8 386.0 158.0 386.0C156.2 386.0 154.5 382.7 154.0 380.0C153.5 377.3 155.0 373.8 155.0 370.0C155.0 366.2 154.8 360.7 154.0 357.5C153.2 354.3 149.8 353.1 150.0 351.0C150.2 348.9 154.3 347.2 155.0 345.0C155.7 342.8 153.3 340.4 154.0 337.5C154.7 334.6 157.3 331.2 159.0 327.5C160.7 323.8 161.8 319.2 164.0 315.0C166.2 310.8 169.4 306.7 172.5 302.5C175.6 298.3 179.2 293.8 182.5 290.0C185.8 286.2 189.6 282.2 192.5 280.0C195.4 277.8 197.5 276.8 200.0 277.0C202.5 277.2 205.2 278.7 207.5 281.0C209.8 283.3 211.9 287.8 214.0 291.0C216.1 294.2 217.8 297.8 220.0 300.0C222.2 302.2 225.7 304.5 227.5 304.5C229.3 304.5 230.4 302.4 231.0 300.0C231.6 297.6 230.2 293.2 231.0 290.0C231.8 286.8 234.2 283.3 236.0 280.5C237.8 277.7 239.8 275.4 242.0 273.0C244.2 270.6 246.5 267.8 249.5 266.0C252.5 264.2 256.2 263.5 260.0 262.5C263.8 261.5 268.7 260.8 272.0 260.0C275.3 259.2 277.8 257.3 280.0 258.0C282.2 258.7 284.3 262.0 285.5 264.0C286.7 266.0 286.5 267.8 287.0 270.0C287.5 272.2 288.2 275.4 288.5 277.5C288.8 279.6 289.2 278.8 289.0 282.5C288.8 286.2 287.2 294.2 287.5 300.0C287.8 305.8 289.3 312.1 291.0 317.5C292.7 322.9 296.0 328.3 297.5 332.5C299.0 336.7 300.4 339.2 300.0 342.5C299.6 345.8 297.3 349.2 295.0 352.5C292.7 355.8 288.1 359.6 286.0 362.5C283.9 365.4 282.5 367.1 282.5 370.0C282.5 372.9 283.5 376.8 286.0 380.0C288.5 383.2 294.3 386.1 297.5 389.0C300.7 391.9 303.3 394.0 305.0 397.5C306.7 401.0 307.2 406.8 307.5 410.0C307.8 413.2 305.4 414.8 306.7 417.0C307.9 419.2 312.3 423.2 315.0 423.0C317.7 422.8 320.6 418.2 322.7 416.0C324.8 413.8 327.8 412.7 327.5 410.0C327.2 407.3 321.8 402.9 321.0 400.0C320.2 397.1 321.7 395.4 322.5 392.5C323.3 389.6 325.8 386.2 326.0 382.5C326.2 378.8 324.0 373.8 324.0 370.0C324.0 366.2 324.8 363.8 326.0 360.0C327.2 356.2 331.0 351.7 331.0 347.5C331.0 343.3 326.3 338.8 326.0 335.0C325.7 331.2 327.9 328.8 329.0 325.0C330.1 321.2 330.5 316.0 332.5 312.5C334.5 309.0 338.1 306.5 341.0 304.0C343.9 301.5 346.8 299.4 350.0 297.5C353.2 295.6 356.2 294.6 360.0 292.5C363.8 290.4 368.3 286.9 372.5 285.0C376.7 283.1 380.4 282.5 385.0 281.0C389.6 279.5 395.8 277.8 400.0 276.0C404.2 274.2 407.1 272.7 410.0 270.0C412.9 267.3 415.5 263.0 417.5 260.0C419.5 257.0 420.2 255.0 422.0 252.0C423.8 249.0 426.3 245.0 428.0 242.0C429.7 239.0 430.3 236.5 432.0 234.0C433.7 231.5 435.3 228.7 438.0 227.0C440.7 225.3 443.7 224.7 448.0 224.0C452.3 223.3 458.7 223.2 464.0 223.0C469.3 222.8 475.7 222.2 480.0 223.0C484.3 223.8 487.3 225.3 490.0 227.5C492.7 229.7 493.9 234.6 496.0 236.0C498.1 237.4 499.3 237.0 502.5 236.0C505.7 235.0 510.4 232.7 515.0 230.0C519.6 227.3 525.2 223.3 530.0 220.0C534.8 216.7 541.5 213.3 544.0 210.0C546.5 206.7 545.7 202.9 545.0 200.0C544.3 197.1 542.5 194.3 540.0 192.5C537.5 190.7 533.8 190.1 530.0 189.0C526.2 187.9 520.2 187.5 517.5 186.0C514.8 184.5 512.8 181.7 514.0 180.0C515.2 178.3 521.2 176.8 525.0 176.0C528.8 175.2 533.2 176.8 537.0 175.0C540.8 173.2 544.5 167.9 547.5 165.0C550.5 162.1 552.6 160.7 555.0 157.5C557.4 154.3 560.2 149.6 562.0 146.0C563.8 142.4 564.0 138.5 566.0 136.0C568.0 133.5 570.7 132.7 574.0 131.0C577.3 129.3 581.7 128.2 586.0 126.0C590.3 123.8 595.7 120.7 600.0 118.0C604.3 115.3 608.0 112.3 612.0 110.0C616.0 107.7 620.7 105.6 624.0 104.0C627.3 102.4 629.3 101.1 632.0 100.4C634.7 99.7 637.7 99.5 640.0 99.6C642.3 99.7 644.7 99.6 646.0 101.0C647.3 102.4 648.0 105.2 648.0 108.0C648.0 110.8 647.0 114.8 646.0 118.0C645.0 121.2 642.3 124.0 642.0 127.0C641.7 130.0 645.2 133.3 644.0 136.0C642.8 138.7 638.0 140.7 635.0 143.0C632.0 145.3 626.5 148.0 626.0 150.0C625.5 152.0 630.0 153.3 632.0 155.0C634.0 156.7 636.3 158.2 638.0 160.0C639.7 161.8 640.8 164.8 642.0 166.0C643.2 167.2 643.2 165.6 645.0 167.5C646.8 169.4 650.0 174.4 652.5 177.5C655.0 180.6 658.6 183.8 660.0 186.0C661.4 188.2 661.8 191.6 661.0 191.0C660.2 190.4 657.0 185.6 655.0 182.5C653.0 179.4 650.5 175.4 649.0 172.5C647.5 169.6 645.8 167.1 646.0 165.0C646.2 162.9 647.2 160.2 650.0 160.0C652.8 159.8 658.3 162.8 662.5 164.0C666.7 165.2 672.9 166.9 675.0 167.5M126.0 531.0C127.1 529.2 130.6 524.8 132.5 520.0C134.4 515.2 135.4 507.9 137.5 502.5C139.6 497.1 141.7 492.2 145.0 487.5C148.3 482.8 153.3 475.1 157.5 474.0C161.7 472.9 165.8 478.2 170.0 481.0C174.2 483.8 181.8 487.7 182.5 491.0C183.2 494.3 176.5 498.2 174.0 501.0C171.5 503.8 166.9 506.0 167.5 507.5C168.1 509.0 173.3 510.0 177.5 510.0C181.7 510.0 188.1 507.9 192.5 507.5C196.9 507.1 201.9 506.7 204.0 507.5C206.1 508.3 205.5 511.1 205.0 512.5C204.5 513.9 201.0 514.1 201.0 516.0C201.0 517.9 203.1 521.7 205.0 524.0C206.9 526.3 209.2 528.2 212.5 530.0C215.8 531.8 221.8 534.0 225.0 535.0C228.2 536.0 229.6 536.1 232.0 536.0C234.4 535.9 236.1 535.3 239.5 534.5C242.9 533.7 248.2 532.6 252.5 531.0C256.8 529.4 261.2 527.2 265.0 525.0C268.8 522.8 272.1 520.8 275.0 517.5C277.9 514.2 280.8 509.6 282.5 505.0C284.2 500.4 285.2 494.6 285.0 490.0C284.8 485.4 281.4 481.2 281.0 477.5C280.6 473.8 280.2 470.2 282.5 467.5C284.8 464.8 290.4 461.6 295.0 461.0C299.6 460.4 305.8 463.3 310.0 464.0C314.2 464.7 315.9 464.5 320.0 465.0C324.1 465.5 329.1 467.0 334.7 466.8C340.3 466.6 348.0 465.8 353.4 464.0C358.8 462.2 363.5 459.6 366.8 456.0C370.1 452.4 372.7 447.1 373.4 442.7C374.1 438.3 372.4 433.2 370.8 429.4C369.2 425.6 365.4 422.7 364.0 420.0C362.6 417.3 361.8 415.8 362.7 413.4C363.6 410.9 366.9 407.7 369.4 405.3C371.9 402.9 375.3 400.9 377.5 399.0C379.7 397.1 382.9 395.3 382.5 394.0C382.1 392.7 378.1 391.2 375.0 391.0C371.9 390.8 367.0 392.2 364.0 392.5C361.0 392.8 359.5 393.6 357.0 393.0C354.5 392.4 350.2 390.8 349.0 389.0C347.8 387.2 351.3 384.4 350.0 382.5C348.7 380.6 343.5 379.6 341.0 377.5C338.5 375.4 336.4 372.9 335.0 370.0C333.6 367.1 332.7 363.8 332.5 360.0C332.3 356.2 333.6 351.7 334.0 347.5C334.4 343.3 334.4 339.6 335.0 335.0C335.6 330.4 336.2 324.6 337.5 320.0C338.8 315.4 340.4 310.8 342.5 307.5C344.6 304.2 346.7 301.9 350.0 300.0C353.3 298.1 358.3 297.7 362.5 296.0C366.7 294.3 371.2 291.8 375.0 290.0C378.8 288.2 380.8 286.7 385.0 285.0C389.2 283.3 395.4 281.8 400.0 280.0C404.6 278.2 407.5 277.0 412.5 274.0C417.5 271.0 425.8 265.5 430.0 262.0C434.2 258.5 435.0 255.2 438.0 253.0C441.0 250.8 444.0 249.8 448.0 249.0C452.0 248.2 457.7 247.7 462.0 248.0C466.3 248.3 471.0 249.3 474.0 251.0C477.0 252.7 478.0 255.5 480.0 258.0C482.0 260.5 484.0 263.3 486.0 266.0C488.0 268.7 489.8 272.5 492.0 274.0C494.2 275.5 496.7 275.7 499.0 275.0C501.3 274.3 503.8 272.1 506.0 270.0C508.2 267.9 511.0 265.4 512.5 262.5C514.0 259.6 514.8 255.8 515.0 252.5C515.2 249.2 513.6 245.4 514.0 242.5C514.4 239.6 514.8 237.8 517.5 235.0C520.2 232.2 525.4 228.7 530.0 226.0C534.6 223.3 539.6 221.2 545.0 219.0C550.4 216.8 557.1 214.8 562.5 212.5C567.9 210.2 573.9 207.8 577.5 205.0C581.1 202.2 583.6 198.9 584.0 196.0C584.4 193.1 581.7 189.8 580.0 187.5C578.3 185.2 574.7 183.8 574.0 182.5C573.3 181.2 573.8 179.8 576.0 179.5C578.2 179.2 584.3 179.4 587.5 180.5C590.7 181.6 593.2 183.6 595.0 186.0C596.8 188.4 598.2 192.5 598.0 195.0C597.8 197.5 596.3 199.2 594.0 201.0C591.7 202.8 587.2 203.7 584.0 206.0C580.8 208.3 577.5 211.4 575.0 215.0C572.5 218.6 570.3 224.5 569.0 227.5C567.7 230.5 566.3 231.6 567.0 233.0C567.7 234.4 571.0 235.8 573.0 236.0C575.0 236.2 577.0 235.1 579.0 234.0C581.0 232.9 582.8 229.3 585.0 229.5C587.2 229.7 589.2 234.5 592.5 235.0C595.8 235.5 600.4 233.5 605.0 232.5C609.6 231.5 615.8 230.2 620.0 229.0C624.2 227.8 627.3 224.9 630.0 225.0C632.7 225.1 632.7 228.8 636.0 229.5C639.3 230.2 645.6 229.8 650.0 229.5C654.4 229.2 658.3 228.2 662.5 227.5C666.7 226.8 672.9 225.8 675.0 225.5M237.0 399.0C235.8 400.2 232.8 403.5 230.0 406.0C227.2 408.5 223.2 411.7 220.0 414.0C216.8 416.3 213.1 418.6 211.0 420.0C208.9 421.4 209.8 420.7 207.5 422.5C205.2 424.3 200.4 428.1 197.5 431.0C194.6 433.9 191.4 436.8 190.0 440.0C188.6 443.2 188.6 447.1 189.0 450.0C189.4 452.9 190.2 455.4 192.5 457.5C194.8 459.6 198.8 461.9 202.5 462.5C206.2 463.1 210.4 462.1 215.0 461.0C219.6 459.9 226.5 457.8 230.0 456.0C233.5 454.2 235.3 451.8 236.0 450.0C236.7 448.2 234.2 446.8 234.0 445.0C233.8 443.2 233.9 440.2 235.0 439.0C236.1 437.8 238.7 438.0 240.5 437.5C242.3 437.0 245.7 436.8 246.0 436.0C246.3 435.2 243.9 434.8 242.5 432.5C241.1 430.2 238.4 425.4 237.5 422.5C236.6 419.6 237.0 417.8 237.0 415.0C237.0 412.2 237.5 408.7 237.5 406.0C237.5 403.3 237.1 400.2 237.0 399.0M457.0 400.0C455.8 399.8 452.8 399.4 450.0 399.0C447.2 398.6 442.9 398.3 440.0 397.5C437.1 396.7 433.2 395.7 432.5 394.0C431.8 392.3 433.5 390.2 436.0 387.5C438.5 384.8 443.5 380.6 447.5 377.5C451.5 374.4 455.8 371.1 460.0 369.0C464.2 366.9 469.3 364.8 472.5 365.0C475.7 365.2 477.9 367.9 479.0 370.0C480.1 372.1 480.1 374.2 479.0 377.5C477.9 380.8 474.9 386.4 472.5 390.0C470.1 393.6 467.1 397.3 464.5 399.0C461.9 400.7 458.2 399.8 457.0 400.0M467.0 451.0C465.9 450.9 462.1 452.5 460.7 450.7C459.3 448.9 459.2 443.1 458.9 440.0C458.6 436.9 456.9 433.6 458.9 432.0C460.9 430.4 467.4 431.1 470.9 430.7C474.4 430.3 477.4 430.3 480.0 429.4C482.6 428.5 484.9 428.5 486.7 425.4C488.5 422.3 489.0 414.4 490.7 410.7C492.4 407.0 494.6 404.8 497.0 403.0C499.4 401.2 501.8 400.8 505.0 400.0C508.2 399.2 514.4 398.0 516.0 398.0C517.6 398.0 516.2 397.9 514.7 400.0C513.2 402.1 509.4 406.7 506.7 410.7C504.0 414.7 501.4 420.2 498.7 424.0C496.0 427.8 493.8 430.7 490.7 433.4C487.6 436.1 482.6 437.3 480.0 440.0C477.4 442.7 477.1 447.6 474.9 449.4C472.7 451.2 468.3 450.7 467.0 451.0M447.5 261.0C445.4 262.1 440.0 265.0 435.0 267.5C430.0 270.0 422.5 273.8 417.5 276.0C412.5 278.2 409.2 279.3 405.0 281.0C400.8 282.7 396.2 284.1 392.5 286.0C388.8 287.9 385.0 289.5 382.5 292.5C380.0 295.5 380.0 301.1 377.5 304.0C375.0 306.9 370.4 308.6 367.5 310.0C364.6 311.4 362.2 313.2 360.0 312.5C357.8 311.8 356.1 306.4 354.0 306.0C351.9 305.6 349.4 307.2 347.5 310.0C345.6 312.8 343.8 317.5 342.5 322.5C341.2 327.5 340.4 334.6 340.0 340.0C339.6 345.4 339.8 350.4 340.0 355.0C340.2 359.6 339.3 364.2 341.0 367.5C342.7 370.8 347.0 372.9 350.0 375.0C353.0 377.1 355.8 378.5 359.0 380.0C362.2 381.5 365.5 383.6 369.0 384.0C372.5 384.4 376.5 384.0 380.0 382.5C383.5 381.0 386.7 377.1 390.0 375.0C393.3 372.9 396.7 371.2 400.0 370.0C403.3 368.8 406.8 369.2 410.0 367.5C413.2 365.8 416.7 363.3 419.0 360.0C421.3 356.7 423.0 351.2 424.0 347.5C425.0 343.8 423.6 340.4 425.0 337.5C426.4 334.6 429.2 331.7 432.5 330.0C435.8 328.3 442.1 328.8 445.0 327.5C447.9 326.2 446.2 323.6 450.0 322.5C453.8 321.4 464.2 322.1 467.5 321.0C470.8 319.9 470.8 317.8 470.0 316.0C469.2 314.2 465.4 312.7 462.5 310.0C459.6 307.3 454.6 302.9 452.5 300.0C450.4 297.1 449.6 294.6 450.0 292.5C450.4 290.4 451.7 288.8 455.0 287.5C458.3 286.2 464.6 286.2 470.0 285.0C475.4 283.8 485.0 281.8 487.5 280.0C490.0 278.2 486.2 276.5 485.0 274.0C483.8 271.5 481.7 267.3 480.0 265.0C478.3 262.7 478.0 261.5 475.0 260.0C472.0 258.5 466.6 255.8 462.0 256.0C457.4 256.2 449.9 260.2 447.5 261.0M675.0 265.0C673.3 264.6 668.3 262.7 665.0 262.5C661.7 262.3 658.3 262.8 655.0 264.0C651.7 265.2 648.3 268.3 645.0 270.0C641.7 271.7 638.3 274.4 635.0 274.0C631.7 273.6 628.3 269.8 625.0 267.5C621.7 265.2 618.8 262.2 615.0 260.0C611.2 257.8 606.8 255.7 602.5 254.0C598.2 252.3 593.8 251.2 589.5 250.0C585.2 248.8 580.9 246.8 577.0 247.0C573.1 247.2 568.8 248.8 566.0 251.0C563.2 253.2 561.8 256.8 560.0 260.0C558.2 263.2 556.5 266.8 555.0 270.0C553.5 273.2 552.6 276.5 551.0 279.0C549.4 281.5 546.3 286.5 545.5 285.0C544.7 283.5 546.0 275.0 546.0 270.0C546.0 265.0 546.5 256.8 545.5 255.0C544.5 253.2 542.6 256.5 540.0 259.0C537.4 261.5 532.3 266.5 530.0 270.0C527.7 273.5 527.5 276.2 526.0 280.0C524.5 283.8 522.4 288.8 521.0 292.5C519.6 296.2 517.5 299.4 517.5 302.5C517.5 305.6 518.9 307.9 521.0 311.0C523.1 314.1 526.4 318.0 530.0 321.0C533.6 324.0 538.3 327.5 542.5 329.0C546.7 330.5 550.9 329.7 555.0 330.0C559.1 330.3 562.9 331.4 567.0 331.0C571.1 330.6 576.3 329.8 579.5 327.5C582.7 325.2 584.2 320.8 586.0 317.5C587.8 314.2 589.2 311.2 590.0 307.5C590.8 303.8 590.8 298.8 591.0 295.0C591.2 291.2 591.3 287.9 591.0 285.0C590.7 282.1 588.8 279.2 589.0 277.5C589.2 275.8 591.1 274.2 592.5 275.0C593.9 275.8 596.1 279.2 597.5 282.5C598.9 285.8 600.4 289.6 601.0 295.0C601.6 300.4 601.6 308.3 601.0 315.0C600.4 321.7 598.5 329.2 597.5 335.0C596.5 340.8 597.1 344.6 595.0 350.0C592.9 355.4 588.8 362.1 585.0 367.5C581.2 372.9 577.1 377.9 572.5 382.5C567.9 387.1 561.1 392.1 557.5 395.0C553.9 397.9 553.8 397.4 550.7 400.0C547.6 402.6 543.4 406.7 538.7 410.7C534.0 414.7 528.0 419.1 522.7 424.0C517.4 428.9 511.6 434.9 506.7 440.0C501.8 445.1 497.8 450.7 493.4 454.7C488.9 458.7 484.0 460.9 480.0 464.0C476.0 467.1 473.3 471.4 469.5 473.4C465.7 475.4 460.9 476.4 457.0 476.0C453.1 475.6 448.1 474.6 446.3 470.8C444.5 467.0 447.1 457.6 446.3 453.4C445.5 449.2 443.6 446.5 441.5 445.4C439.4 444.3 436.6 445.1 433.5 446.7C430.4 448.2 426.4 452.9 422.8 454.7C419.2 456.5 414.7 454.9 412.0 457.4C409.3 459.8 408.6 465.2 406.8 469.4C405.1 473.6 403.7 479.0 401.5 482.8C399.3 486.6 397.1 489.3 393.5 492.0C389.9 494.7 383.4 495.9 380.0 498.8C376.6 501.7 375.2 505.5 373.4 509.5C371.6 513.5 370.5 517.9 369.4 522.8C368.3 527.7 367.3 533.4 366.8 538.8C366.3 544.1 365.8 551.0 366.2 554.9C366.6 558.8 368.9 561.1 369.4 562.3M230.0 564.0C230.4 563.3 232.5 561.5 232.5 560.0C232.5 558.5 229.2 556.0 230.0 555.0C230.8 554.0 234.6 554.4 237.5 554.0C240.4 553.6 243.8 554.4 247.5 552.5C251.2 550.6 255.4 546.2 260.0 542.5C264.6 538.8 270.4 534.6 275.0 530.0C279.6 525.4 284.2 520.4 287.5 515.0C290.8 509.6 293.1 502.7 295.0 497.5C296.9 492.3 297.3 487.4 299.0 484.0C300.7 480.6 302.8 477.0 305.0 477.0C307.2 477.0 311.2 480.2 312.5 484.0C313.8 487.8 313.6 494.0 312.5 500.0C311.4 506.0 308.9 513.8 306.0 520.0C303.1 526.2 299.3 532.9 295.0 537.5C290.7 542.1 285.8 545.0 280.0 547.5C274.2 550.0 265.4 551.5 260.0 552.5C254.6 553.5 249.6 553.3 247.5 553.5M192.5 564.0C190.8 562.5 185.4 558.0 182.5 555.0C179.6 552.0 176.1 548.7 175.0 546.0C173.9 543.3 174.3 540.7 176.0 539.0C177.7 537.3 181.4 536.0 185.0 536.0C188.6 536.0 193.3 537.5 197.5 539.0C201.7 540.5 205.8 543.0 210.0 545.0C214.2 547.0 219.0 549.2 222.5 551.0C226.0 552.8 229.6 555.2 231.0 556.0M392.0 562.3C391.6 561.5 390.1 560.1 389.5 557.5C388.9 554.9 387.9 550.9 388.1 546.9C388.3 542.9 389.0 537.1 390.8 533.5C392.6 529.9 395.7 528.6 398.8 525.5C401.9 522.4 405.1 517.7 409.5 514.8C413.9 511.9 419.7 509.4 425.5 508.0C431.3 506.6 437.5 506.5 444.2 506.3C450.9 506.1 460.3 506.1 465.6 506.8C470.9 507.6 474.4 509.0 476.2 510.8C478.0 512.6 477.1 515.3 476.2 517.5C475.3 519.7 469.8 522.2 470.9 524.0C472.0 525.8 479.0 527.2 483.0 528.0C487.0 528.8 489.4 529.2 494.7 528.7C500.0 528.2 508.3 526.3 514.7 525.0C521.2 523.7 528.7 521.3 533.4 520.7C538.1 520.1 542.0 520.0 542.7 521.5C543.4 523.0 538.7 526.2 537.4 529.5C536.1 532.8 533.6 537.9 534.7 541.5C535.8 545.1 541.1 548.2 544.0 550.9C546.9 553.6 550.4 555.6 552.0 557.5C553.6 559.4 553.2 561.5 553.4 562.3M578.8 562.3C579.5 560.2 581.0 553.4 582.8 549.5C584.6 545.6 586.2 541.2 589.5 538.8C592.8 536.3 598.2 535.6 602.3 534.8C606.4 534.0 610.0 534.5 614.0 534.0C618.0 533.5 623.4 533.4 626.0 532.0C628.6 530.6 629.4 528.4 629.5 525.5C629.6 522.6 628.7 518.1 626.9 514.8C625.1 511.5 622.6 507.6 618.8 505.5C615.0 503.4 605.1 503.2 604.2 502.3C603.3 501.4 611.1 501.5 613.5 500.0C615.9 498.5 615.0 494.3 618.8 493.4C622.6 492.5 632.4 495.7 636.2 494.8C640.0 493.9 641.3 490.7 641.5 488.0C641.7 485.3 640.4 482.1 637.5 478.8C634.6 475.5 629.1 471.1 624.2 468.0C619.3 464.9 613.4 462.2 608.0 460.0C602.6 457.8 596.4 455.1 592.0 454.7C587.6 454.3 583.7 456.1 581.5 457.4C579.3 458.7 580.4 461.2 578.8 462.7C577.2 464.2 575.1 466.2 572.0 466.2C568.9 466.2 563.3 464.6 560.0 462.7C556.7 460.8 553.3 457.4 552.0 454.7C550.7 452.0 550.7 448.9 552.0 446.7C553.3 444.5 556.7 442.7 560.0 441.4C563.3 440.1 568.0 439.0 572.0 439.0C576.0 439.0 579.8 440.8 584.0 441.4C588.2 442.0 592.6 442.3 597.5 442.7C602.4 443.1 609.0 444.9 613.5 444.0C618.0 443.1 620.6 439.4 624.2 437.4C627.8 435.4 631.4 432.4 634.9 432.0C638.4 431.6 641.0 432.2 645.5 434.7C650.0 437.1 656.7 442.8 661.6 446.7C666.5 450.6 672.7 456.3 674.9 458.2M668.3 562.3C668.7 561.3 669.8 558.1 670.9 556.2C672.0 554.3 674.2 551.8 674.9 550.9M397.5 352.0C399.2 350.4 405.4 345.5 407.5 342.5C409.6 339.5 410.2 336.5 410.0 334.0C409.8 331.5 408.5 329.2 406.0 327.5C403.5 325.8 399.3 324.8 395.0 324.0C390.7 323.2 384.2 322.2 380.0 322.5C375.8 322.8 373.3 323.9 370.0 326.0C366.7 328.1 362.7 331.8 360.0 335.0C357.3 338.2 355.5 341.7 354.0 345.0C352.5 348.3 351.0 351.7 351.0 355.0C351.0 358.3 352.1 362.3 354.0 365.0C355.9 367.7 359.0 370.0 362.5 371.0C366.0 372.0 371.2 371.6 375.0 371.0C378.8 370.4 382.1 369.3 385.0 367.5C387.9 365.7 390.4 362.6 392.5 360.0C394.6 357.4 396.7 353.3 397.5 352.0M572.0 56.0C572.2 57.2 571.7 61.5 573.0 63.0C574.3 64.5 577.2 65.3 580.0 65.0C582.8 64.7 587.3 61.3 590.0 61.0C592.7 60.7 594.3 61.2 596.0 63.0C597.7 64.8 598.7 70.0 600.0 72.0C601.3 74.0 601.7 75.5 604.0 75.0C606.3 74.5 611.3 70.7 614.0 69.0C616.7 67.3 617.3 65.8 620.0 65.0C622.7 64.2 626.7 64.3 630.0 64.0C633.3 63.7 637.3 63.8 640.0 63.0C642.7 62.2 644.5 60.2 646.0 59.0C647.5 57.8 648.5 56.5 649.0 56.0M378.0 116.0C379.7 115.8 385.5 116.2 388.0 115.0C390.5 113.8 393.0 109.3 393.0 109.0C393.0 108.7 390.5 111.8 388.0 113.0C385.5 114.2 379.7 115.5 378.0 116.0M675.0 100.0C674.7 100.7 673.0 102.7 673.0 104.0C673.0 105.3 674.7 107.3 675.0 108.0M501.0 389.5C501.5 389.1 503.8 386.9 504.0 387.0C504.2 387.1 503.0 389.6 502.5 390.0C502.0 390.4 501.2 389.6 501.0 389.5M508.0 384.5C508.5 384.2 510.8 382.8 511.0 383.0C511.2 383.2 510.0 385.8 509.5 386.0C509.0 386.2 508.2 384.8 508.0 384.5"/>
<path fill="none" stroke="#b4b4b4" stroke-width="1" stroke-dasharray="1.6 3.4" shape-rendering="crispEdges" d="M194.4 56V563M265.3 56V563M336.1 56V563M407.0 56V563M477.9 56V563M548.7 56V563M619.5 56V563M125 106.4H675M125 191.1H675M125 275.8H675M125 360.6H675M125 445.3H675M125 530.0H675"/>
<path fill="none" stroke="#000" stroke-width="2.6" stroke-linejoin="round" stroke-linecap="round" d="M285.0 55.0L283.0 65.0L280.0 75.0L279.4 87.5L281.3 96.0L287.5 98.0M350.0 55.0L340.0 63.7L330.0 71.0L320.0 78.7L311.0 83.7L300.0 88.7L293.7 93.7L287.5 100.0L280.6 107.5L282.5 111.0L286.0 113.7L288.7 111.0L292.5 115.0L298.7 113.7L300.6 118.7L300.0 125.0L303.0 130.0L301.0 140.0L297.0 150.0L292.0 155.0L284.0 156.0L285.0 160.0L288.5 164.0L292.5 166.0L290.0 170.0L288.5 175.0L288.0 185.0L286.5 193.0L284.0 200.0L282.5 209.0L281.5 215.0L276.0 220.0L268.0 222.0L260.0 223.0L242.3 224.2L228.7 226.4L217.4 228.7L210.6 233.2L193.6 241.2L191.4 234.4L212.9 228.7L216.3 225.3L215.2 220.8L207.2 218.5L201.6 215.1L200.4 207.2L205.0 201.5L211.8 197.0L206.1 191.3L194.8 191.3L189.8 189.0L182.3 194.7L176.6 201.5L176.6 208.3L182.3 214.0L186.8 219.6L185.7 228.7L181.2 233.2L172.1 234.4L167.6 240.0L165.3 248.0L166.4 252.0L174.4 249.0L178.9 243.4L184.6 241.2L189.1 244.6L188.0 250.2L183.4 258.2L176.6 268.4L171.0 275.2L163.0 283.0L160.8 286.5L154.0 295.5L149.5 302.3L143.8 305.7L142.7 317.5L144.8 326.2L143.3 335.0L146.2 343.7L147.7 358.3L146.2 372.9L141.9 384.5L136.0 396.2L134.6 403.5L133.1 412.2L134.6 422.4L137.5 431.2L138.9 438.5L136.0 445.8L130.2 454.5L125.8 460.3M124.4 145.6L133.0 149.0L142.0 149.0L149.0 152.4L165.0 152.4L166.4 149.0L162.0 145.6L171.0 136.0L182.0 143.0L189.0 142.4L194.0 135.6L206.0 130.0L218.0 125.6L224.0 120.4L232.0 119.0L238.4 116.0L245.0 118.4L252.4 116.0L260.0 119.6L268.0 121.0L272.0 122.0L280.0 127.0L288.0 136.0L293.0 146.0L297.0 150.0M291.0 55.0L292.0 65.0L295.0 75.0L298.0 83.7L299.4 88.7M317.0 77.0L310.0 70.6L313.7 63.7L320.0 61.0L325.6 62.5L327.0 57.0L328.7 60.0L331.0 59.4L331.0 56.0M180.0 245.5L183.0 243.5L186.5 245.0L185.5 248.5L181.0 248.5L180.0 245.5M166.4 252.0L163.0 262.0L160.8 267.2L158.5 277.4L160.3 281.5L164.2 275.2L173.2 271.8L177.8 265.0L184.6 257.0M125.0 403.5L134.6 403.5"/>
<rect x="372" y="82" width="14" height="12" fill="#fff"/>
<text x="373.8" y="92.7" font-size="11.2" textLength="11.6" lengthAdjust="spacingAndGlyphs">15</text>
<rect x="345" y="118" width="14" height="12" fill="#fff"/>
<text x="346.8" y="128.7" font-size="11.2" textLength="11.6" lengthAdjust="spacingAndGlyphs">15</text>
<rect x="482" y="114" width="14" height="12" fill="#fff"/>
<text x="483.8" y="124.7" font-size="11.2" textLength="11.6" lengthAdjust="spacingAndGlyphs">16</text>
<rect x="419" y="147" width="24" height="12" fill="#fff"/>
<text x="420.8" y="157.7" font-size="11.2" textLength="21" lengthAdjust="spacingAndGlyphs">15.5</text>
<rect x="492" y="150" width="24" height="12" fill="#fff"/>
<text x="493.8" y="160.7" font-size="11.2" textLength="21" lengthAdjust="spacingAndGlyphs">16.5</text>
<rect x="514" y="161" width="14" height="12" fill="#fff"/>
<text x="515.8" y="171.7" font-size="11.2" textLength="11.6" lengthAdjust="spacingAndGlyphs">17</text>
<rect x="514" y="170" width="24" height="12" fill="#fff"/>
<text x="515.8" y="180.7" font-size="11.2" textLength="21" lengthAdjust="spacingAndGlyphs">17.5</text>
<rect x="623" y="137" width="24" height="12" fill="#fff"/>
<text x="624.8" y="147.7" font-size="11.2" textLength="21" lengthAdjust="spacingAndGlyphs">17.5</text>
<rect x="319" y="168" width="24" height="12" fill="#fff"/>
<text x="320.8" y="178.7" font-size="11.2" textLength="21" lengthAdjust="spacingAndGlyphs">15.5</text>
<rect x="392" y="200" width="24" height="12" fill="#fff"/>
<text x="393.8" y="210.7" font-size="11.2" textLength="21" lengthAdjust="spacingAndGlyphs">16.5</text>
<rect x="456" y="207" width="14" height="12" fill="#fff"/>
<text x="457.8" y="217.7" font-size="11.2" textLength="11.6" lengthAdjust="spacingAndGlyphs">17</text>
<rect x="266" y="232" width="14" height="12" fill="#fff"/>
<text x="267.8" y="242.7" font-size="11.2" textLength="11.6" lengthAdjust="spacingAndGlyphs">15</text>
<rect x="298" y="236" width="24" height="12" fill="#fff"/>
<text x="299.8" y="246.7" font-size="11.2" textLength="21" lengthAdjust="spacingAndGlyphs">16.5</text>
<rect x="351" y="232" width="14" height="12" fill="#fff"/>
<text x="352.8" y="242.7" font-size="11.2" textLength="11.6" lengthAdjust="spacingAndGlyphs">16</text>
<rect x="272" y="252" width="24" height="12" fill="#fff"/>
<text x="273.8" y="262.7" font-size="11.2" textLength="21" lengthAdjust="spacingAndGlyphs">17.5</text>
<rect x="566" y="231" width="14" height="12" fill="#fff"/>
<text x="567.8" y="241.7" font-size="11.2" textLength="11.6" lengthAdjust="spacingAndGlyphs">18</text>
<rect x="566" y="240" width="24" height="12" fill="#fff"/>
<text x="567.8" y="250.7" font-size="11.2" textLength="21" lengthAdjust="spacingAndGlyphs">18.5</text>
<rect x="450" y="250" width="24" height="12" fill="#fff"/>
<text x="451.8" y="260.7" font-size="11.2" textLength="21" lengthAdjust="spacingAndGlyphs">16.5</text>
<rect x="492" y="268" width="14" height="12" fill="#fff"/>
<text x="493.8" y="278.7" font-size="11.2" textLength="11.6" lengthAdjust="spacingAndGlyphs">18</text>
<rect x="324" y="290" width="14" height="12" fill="#fff"/>
<text x="325.8" y="300.7" font-size="11.2" textLength="11.6" lengthAdjust="spacingAndGlyphs">17</text>
<rect x="555" y="324" width="24" height="12" fill="#fff"/>
<text x="556.8" y="334.7" font-size="11.2" textLength="21" lengthAdjust="spacingAndGlyphs">18.5</text>
<rect x="397" y="346" width="14" height="12" fill="#fff"/>
<text x="398.8" y="356.7" font-size="11.2" textLength="11.6" lengthAdjust="spacingAndGlyphs">19</text>
<rect x="350" y="388" width="14" height="12" fill="#fff"/>
<text x="351.8" y="398.7" font-size="11.2" textLength="11.6" lengthAdjust="spacingAndGlyphs">18</text>
<rect x="356" y="380" width="24" height="12" fill="#fff"/>
<text x="357.8" y="390.7" font-size="11.2" textLength="21" lengthAdjust="spacingAndGlyphs">18.5</text>
<rect x="146" y="381" width="24" height="12" fill="#fff"/>
<text x="147.8" y="391.7" font-size="11.2" textLength="21" lengthAdjust="spacingAndGlyphs">17.5</text>
<rect x="450" y="396" width="14" height="12" fill="#fff"/>
<text x="451.8" y="406.7" font-size="11.2" textLength="11.6" lengthAdjust="spacingAndGlyphs">18</text>
<rect x="303" y="417" width="24" height="12" fill="#fff"/>
<text x="304.8" y="427.7" font-size="11.2" textLength="21" lengthAdjust="spacingAndGlyphs">17.5</text>
<rect x="241" y="432" width="14" height="12" fill="#fff"/>
<text x="242.8" y="442.7" font-size="11.2" textLength="11.6" lengthAdjust="spacingAndGlyphs">18</text>
<rect x="560" y="430" width="24" height="12" fill="#fff"/>
<text x="561.8" y="440.7" font-size="11.2" textLength="21" lengthAdjust="spacingAndGlyphs">18.5</text>
<rect x="461" y="446" width="14" height="12" fill="#fff"/>
<text x="462.8" y="456.7" font-size="11.2" textLength="11.6" lengthAdjust="spacingAndGlyphs">18</text>
<rect x="294" y="472" width="24" height="12" fill="#fff"/>
<text x="295.8" y="482.7" font-size="11.2" textLength="21" lengthAdjust="spacingAndGlyphs">18.5</text>
<rect x="445" y="470" width="24" height="12" fill="#fff"/>
<text x="446.8" y="480.7" font-size="11.2" textLength="21" lengthAdjust="spacingAndGlyphs">16.5</text>
<rect x="471" y="522" width="24" height="12" fill="#fff"/>
<text x="472.8" y="532.7" font-size="11.2" textLength="21" lengthAdjust="spacingAndGlyphs">18.5</text>
<rect x="225" y="530" width="14" height="12" fill="#fff"/>
<text x="226.8" y="540.7" font-size="11.2" textLength="11.6" lengthAdjust="spacingAndGlyphs">18</text>
<rect x="602" y="528" width="24" height="12" fill="#fff"/>
<text x="603.8" y="538.7" font-size="11.2" textLength="21" lengthAdjust="spacingAndGlyphs">18.5</text>
</g>
<path fill="none" stroke="#333" stroke-width="1.25" stroke-linecap="round" stroke-linejoin="round" d="M147.5 96.8H157.8L147.5 109.7H158M176.6 101.6H189.7M176.6 105.7H189.7M207.5 99.8C207.5 95.6 218.3 95.4 218.3 100.2C218.3 103.6 211.5 105.2 207.2 109.7H218.8M222.6 109.1h1.0M237.6 96.8H230L229.2 102.6C231.5 100.8 238.6 100.6 238.6 105.4C238.6 110.6 230.4 111 228.8 107.4M257.6 109.7V100.6M257.6 103.4C259 100.2 265.8 99.8 265.8 103.8V109.7M265.8 103.8C267.2 100.2 274 99.8 274 103.8V109.7"/>
<rect x="124.5" y="55" width="551" height="508.75" fill="none" stroke="#000" stroke-width="2"/>
<path fill="none" stroke="#000" stroke-width="1" d="M123.6 564V568M194.4 564V568M265.3 564V568M336.1 564V568M407.0 564V568M477.9 564V568M548.7 564V568M619.5 564V568M124 106.4H120M124 191.1H120M124 275.8H120M124 360.6H120M124 445.3H120M124 530.0H120"/>
<text x="123.6" y="580" font-size="12" text-anchor="middle">28.5</text>
<text x="194.4" y="580" font-size="12" text-anchor="middle">29</text>
<text x="265.3" y="580" font-size="12" text-anchor="middle">29.5</text>
<text x="336.1" y="580" font-size="12" text-anchor="middle">30</text>
<text x="407.0" y="580" font-size="12" text-anchor="middle">30.5</text>
<text x="477.9" y="580" font-size="12" text-anchor="middle">31</text>
<text x="548.7" y="580" font-size="12" text-anchor="middle">31.5</text>
<text x="619.5" y="580" font-size="12" text-anchor="middle">32</text>
<text x="117.8" y="110.7" font-size="12.2" text-anchor="end">45.5</text>
<text x="117.8" y="195.4" font-size="12.2" text-anchor="end">45</text>
<text x="117.8" y="280.1" font-size="12.2" text-anchor="end">44.5</text>
<text x="117.8" y="364.9" font-size="12.2" text-anchor="end">44</text>
<text x="117.8" y="449.6" font-size="12.2" text-anchor="end">43.5</text>
<text x="117.8" y="534.3" font-size="12.2" text-anchor="end">43</text>
<text x="323.5" y="605.6" font-size="19.5" textLength="87" lengthAdjust="spacingAndGlyphs">Langitude</text>
<text x="421.6" y="605.6" font-size="19.5" textLength="55" lengthAdjust="spacingAndGlyphs">(East)</text>
<g transform="translate(81.5 382.5) rotate(-90)"><text x="0" y="0" font-size="19.5" textLength="69.5" lengthAdjust="spacingAndGlyphs">Latitude</text><text x="82.5" y="0" font-size="19.5" textLength="64" lengthAdjust="spacingAndGlyphs">(North)</text></g>
<text x="76.6" y="43" font-size="26" textLength="75.9" lengthAdjust="spacingAndGlyphs" stroke="#fff" stroke-width="0.35">Salinity</text>
<text x="169" y="43" font-size="26" textLength="63.0" lengthAdjust="spacingAndGlyphs" stroke="#fff" stroke-width="0.35">(ppt).</text>
<text x="247" y="43" font-size="26" textLength="47.4" lengthAdjust="spacingAndGlyphs" stroke="#fff" stroke-width="0.35">Date</text>
<text x="310.5" y="43" font-size="26" textLength="136.0" lengthAdjust="spacingAndGlyphs" stroke="#fff" stroke-width="0.35">2019.10.17.</text>
<text x="461.7" y="43" font-size="26" textLength="48.8" lengthAdjust="spacingAndGlyphs" stroke="#fff" stroke-width="0.35">Time</text>
<text x="526.4" y="43" font-size="26" textLength="138.0" lengthAdjust="spacingAndGlyphs" stroke="#fff" stroke-width="0.35">00(h):00(m)</text>
<text x="681.5" y="43" font-size="26" textLength="44.1" lengthAdjust="spacingAndGlyphs" stroke="#fff" stroke-width="0.35">GMT</text>
<g shape-rendering="crispEdges"><rect x="708" y="549.25" width="16" height="8.05" fill="#000087"/><rect x="708" y="541.50" width="16" height="8.05" fill="#000097"/><rect x="708" y="533.75" width="16" height="8.05" fill="#0000a7"/><rect x="708" y="526.00" width="16" height="8.05" fill="#0000b7"/><rect x="708" y="518.25" width="16" height="8.05" fill="#0000c7"/><rect x="708" y="510.50" width="16" height="8.05" fill="#0000d7"/><rect x="708" y="502.75" width="16" height="8.05" fill="#0000e7"/><rect x="708" y="495.00" width="16" height="8.05" fill="#0000f7"/><rect x="708" y="487.25" width="16" height="8.05" fill="#0008ff"/><rect x="708" y="479.50" width="16" height="8.05" fill="#0018ff"/><rect x="708" y="471.75" width="16" height="8.05" fill="#0028ff"/><rect x="708" y="464.00" width="16" height="8.05" fill="#0038ff"/><rect x="708" y="456.25" width="16" height="8.05" fill="#0048ff"/><rect x="708" y="448.50" width="16" height="8.05" fill="#0058ff"/><rect x="708" y="440.75" width="16" height="8.05" fill="#0068ff"/><rect x="708" y="433.00" width="16" height="8.05" fill="#0078ff"/><rect x="708" y="425.25" width="16" height="8.05" fill="#0087ff"/><rect x="708" y="417.50" width="16" height="8.05" fill="#0097ff"/><rect x="708" y="409.75" width="16" height="8.05" fill="#00a7ff"/><rect x="708" y="402.00" width="16" height="8.05" fill="#00b7ff"/><rect x="708" y="394.25" width="16" height="8.05" fill="#00c7ff"/><rect x="708" y="386.50" width="16" height="8.05" fill="#00d7ff"/><rect x="708" y="378.75" width="16" height="8.05" fill="#00e7ff"/><rect x="708" y="371.00" width="16" height="8.05" fill="#00f7ff"/><rect x="708" y="363.25" width="16" height="8.05" fill="#08fff7"/><rect x="708" y="355.50" width="16" height="8.05" fill="#18ffe7"/><rect x="708" y="347.75" width="16" height="8.05" fill="#28ffd7"/><rect x="708" y="340.00" width="16" height="8.05" fill="#38ffc7"/><rect x="708" y="332.25" width="16" height="8.05" fill="#48ffb7"/><rect x="708" y="324.50" width="16" height="8.05" fill="#58ffa7"/><rect x="708" y="316.75" width="16" height="8.05" fill="#68ff97"/><rect x="708" y="309.00" width="16" height="8.05" fill="#78ff87"/><rect x="708" y="301.25" width="16" height="8.05" fill="#87ff78"/><rect x="708" y="293.50" width="16" height="8.05" fill="#97ff68"/><rect x="708" y="285.75" width="16" height="8.05" fill="#a7ff58"/><rect x="708" y="278.00" width="16" height="8.05" fill="#b7ff48"/><rect x="708" y="270.25" width="16" height="8.05" fill="#c7ff38"/><rect x="708" y="262.50" width="16" height="8.05" fill="#d7ff28"/><rect x="708" y="254.75" width="16" height="8.05" fill="#e7ff18"/><rect x="708" y="247.00" width="16" height="8.05" fill="#f7ff08"/><rect x="708" y="239.25" width="16" height="8.05" fill="#fff700"/><rect x="708" y="231.50" width="16" height="8.05" fill="#ffe700"/><rect x="708" y="223.75" width="16" height="8.05" fill="#ffd700"/><rect x="708" y="216.00" width="16" height="8.05" fill="#ffc700"/><rect x="708" y="208.25" width="16" height="8.05" fill="#ffb700"/><rect x="708" y="200.50" width="16" height="8.05" fill="#ffa700"/><rect x="708" y="192.75" width="16" height="8.05" fill="#ff9700"/><rect x="708" y="185.00" width="16" height="8.05" fill="#ff8700"/><rect x="708" y="177.25" width="16" height="8.05" fill="#ff7800"/><rect x="708" y="169.50" width="16" height="8.05" fill="#ff6800"/><rect x="708" y="161.75" width="16" height="8.05" fill="#ff5800"/><rect x="708" y="154.00" width="16" height="8.05" fill="#ff4800"/><rect x="708" y="146.25" width="16" height="8.05" fill="#ff3800"/><rect x="708" y="138.50" width="16" height="8.05" fill="#ff2800"/><rect x="708" y="130.75" width="16" height="8.05" fill="#ff1800"/><rect x="708" y="123.00" width="16" height="8.05" fill="#ff0800"/><rect x="708" y="115.25" width="16" height="8.05" fill="#f70000"/><rect x="708" y="107.50" width="16" height="8.05" fill="#e70000"/><rect x="708" y="99.75" width="16" height="8.05" fill="#d70000"/><rect x="708" y="92.00" width="16" height="8.05" fill="#c70000"/><rect x="708" y="84.25" width="16" height="8.05" fill="#b70000"/><rect x="708" y="76.50" width="16" height="8.05" fill="#a70000"/><rect x="708" y="68.75" width="16" height="8.05" fill="#970000"/><rect x="708" y="61.00" width="16" height="8.05" fill="#870000"/></g>
<text x="736" y="74.8" font-size="13.4" textLength="26" lengthAdjust="spacingAndGlyphs">19.1</text>
<text x="736" y="189.8" font-size="13.4" textLength="26" lengthAdjust="spacingAndGlyphs">18.0</text>
<text x="736" y="312.8" font-size="13.4" textLength="26" lengthAdjust="spacingAndGlyphs">16.7</text>
<text x="736" y="434.1" font-size="13.4" textLength="26" lengthAdjust="spacingAndGlyphs">15.5</text>
<text x="736" y="555.6" font-size="13.4" textLength="26" lengthAdjust="spacingAndGlyphs">14.3</text>
</svg></body></html>
